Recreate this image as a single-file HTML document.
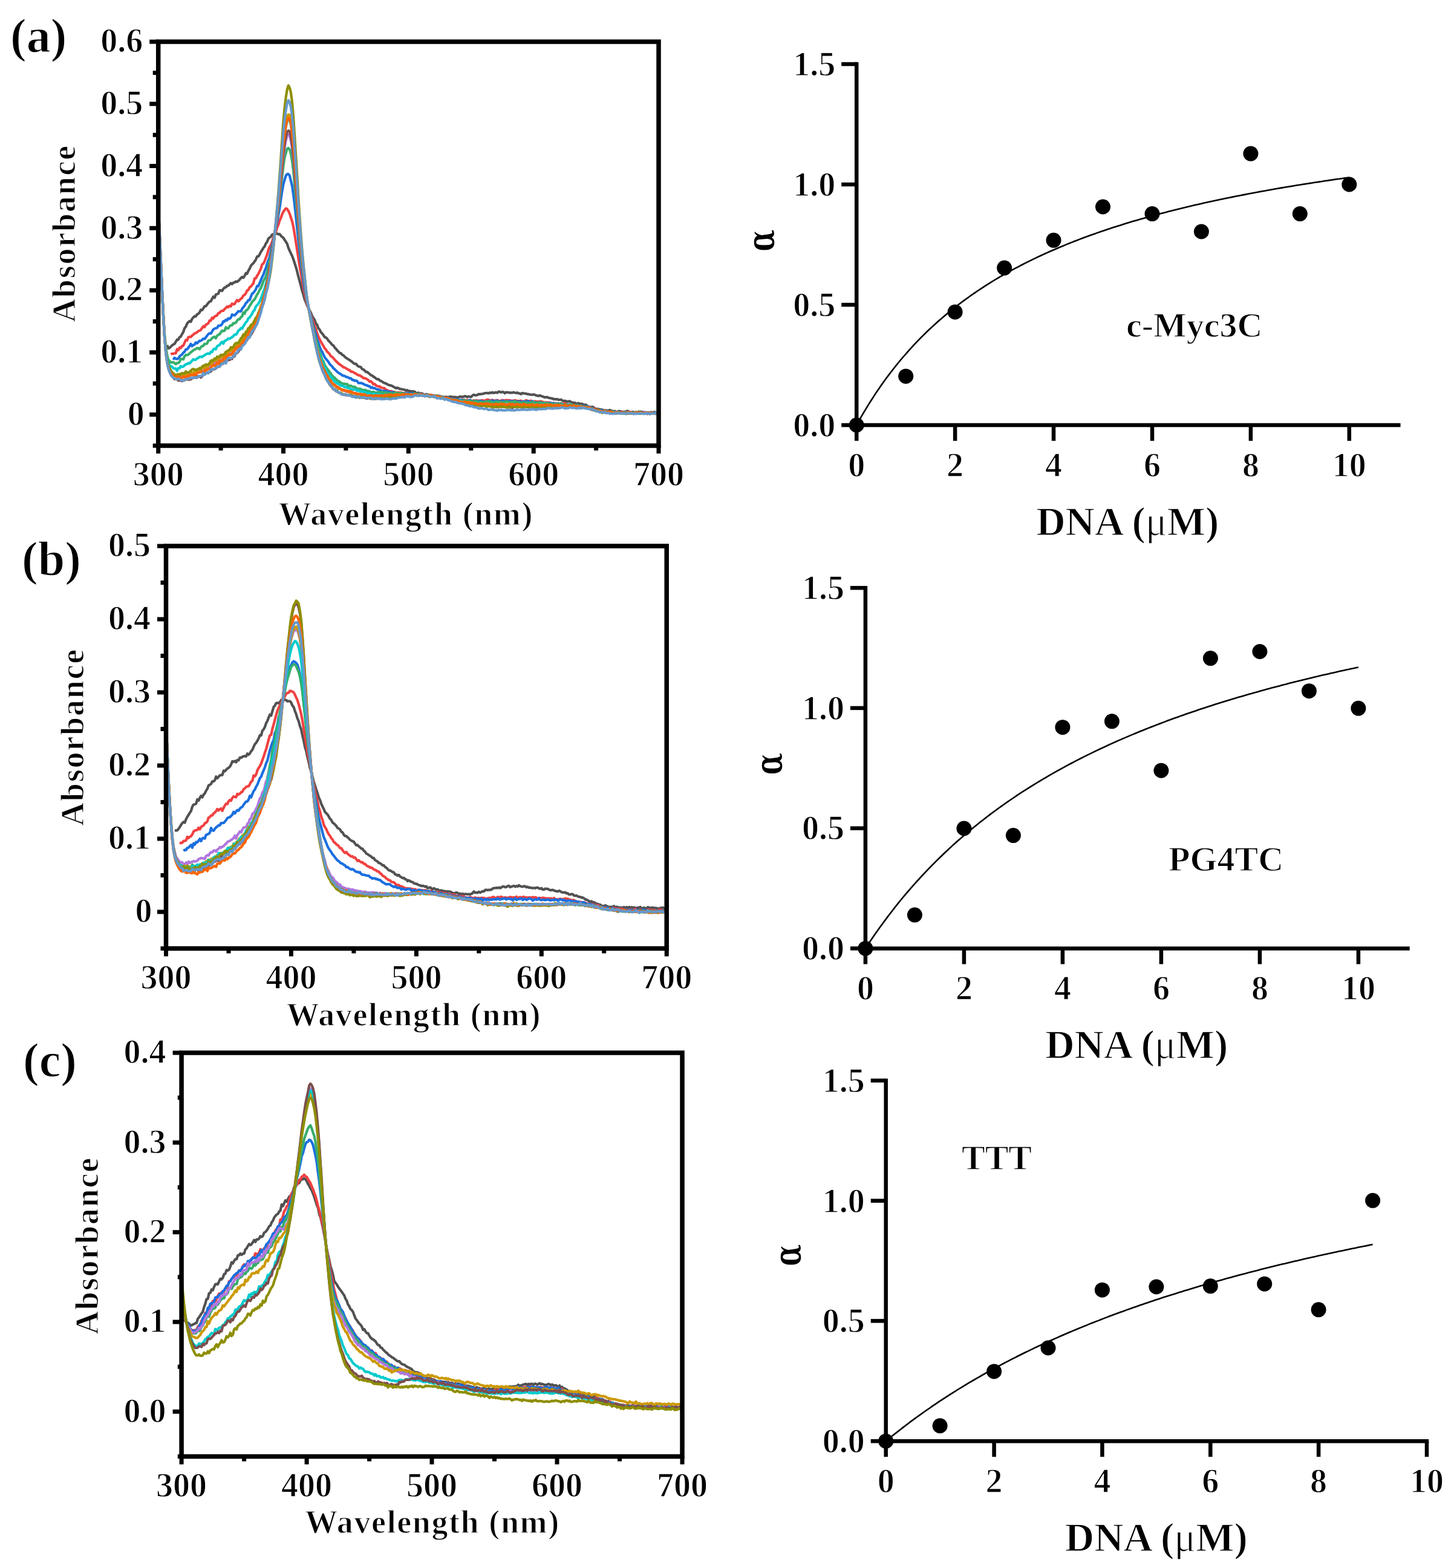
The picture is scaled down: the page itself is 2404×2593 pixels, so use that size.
<!DOCTYPE html>
<html><head><meta charset="utf-8"><style>
html,body{margin:0;padding:0;background:#fff;}
svg{display:block;}
text{stroke:#fff;stroke-width:1.3px;}
</style></head><body>
<svg width="2404" height="2593" viewBox="0 0 2404 2593" font-family="'Liberation Serif','Times New Roman',serif" font-weight="bold" fill="#000">
<rect width="2404" height="2593" fill="#fff"/>
<line x1="247.2" y1="685.6" x2="261.7" y2="685.6" stroke="#000" stroke-width="7" stroke-linecap="butt"/>
<text x="238.7" y="702.9" font-size="56" text-anchor="end" >0</text>
<line x1="247.2" y1="582.8" x2="261.7" y2="582.8" stroke="#000" stroke-width="7" stroke-linecap="butt"/>
<text x="236.2" y="600.2" font-size="56" text-anchor="end" >0.1</text>
<line x1="247.2" y1="480.1" x2="261.7" y2="480.1" stroke="#000" stroke-width="7" stroke-linecap="butt"/>
<text x="236.2" y="497.4" font-size="56" text-anchor="end" >0.2</text>
<line x1="247.2" y1="377.3" x2="261.7" y2="377.3" stroke="#000" stroke-width="7" stroke-linecap="butt"/>
<text x="236.2" y="394.6" font-size="56" text-anchor="end" >0.3</text>
<line x1="247.2" y1="274.5" x2="261.7" y2="274.5" stroke="#000" stroke-width="7" stroke-linecap="butt"/>
<text x="236.2" y="291.8" font-size="56" text-anchor="end" >0.4</text>
<line x1="247.2" y1="171.8" x2="261.7" y2="171.8" stroke="#000" stroke-width="7" stroke-linecap="butt"/>
<text x="236.2" y="189.1" font-size="56" text-anchor="end" >0.5</text>
<line x1="247.2" y1="69.0" x2="261.7" y2="69.0" stroke="#000" stroke-width="7" stroke-linecap="butt"/>
<text x="236.2" y="86.3" font-size="56" text-anchor="end" >0.6</text>
<line x1="252.7" y1="737.0" x2="261.7" y2="737.0" stroke="#000" stroke-width="7" stroke-linecap="butt"/>
<line x1="252.7" y1="634.2" x2="261.7" y2="634.2" stroke="#000" stroke-width="7" stroke-linecap="butt"/>
<line x1="252.7" y1="531.5" x2="261.7" y2="531.5" stroke="#000" stroke-width="7" stroke-linecap="butt"/>
<line x1="252.7" y1="428.7" x2="261.7" y2="428.7" stroke="#000" stroke-width="7" stroke-linecap="butt"/>
<line x1="252.7" y1="325.9" x2="261.7" y2="325.9" stroke="#000" stroke-width="7" stroke-linecap="butt"/>
<line x1="252.7" y1="223.2" x2="261.7" y2="223.2" stroke="#000" stroke-width="7" stroke-linecap="butt"/>
<line x1="252.7" y1="120.4" x2="261.7" y2="120.4" stroke="#000" stroke-width="7" stroke-linecap="butt"/>
<line x1="261.7" y1="737.0" x2="261.7" y2="750.0" stroke="#000" stroke-width="7" stroke-linecap="butt"/>
<text x="261.7" y="803.0" font-size="56" text-anchor="middle" >300</text>
<line x1="468.5" y1="737.0" x2="468.5" y2="750.0" stroke="#000" stroke-width="7" stroke-linecap="butt"/>
<text x="468.5" y="803.0" font-size="56" text-anchor="middle" >400</text>
<line x1="675.3" y1="737.0" x2="675.3" y2="750.0" stroke="#000" stroke-width="7" stroke-linecap="butt"/>
<text x="675.3" y="803.0" font-size="56" text-anchor="middle" >500</text>
<line x1="882.2" y1="737.0" x2="882.2" y2="750.0" stroke="#000" stroke-width="7" stroke-linecap="butt"/>
<text x="882.2" y="803.0" font-size="56" text-anchor="middle" >600</text>
<line x1="1089.0" y1="737.0" x2="1089.0" y2="750.0" stroke="#000" stroke-width="7" stroke-linecap="butt"/>
<text x="1089.0" y="803.0" font-size="56" text-anchor="middle" >700</text>
<line x1="365.1" y1="737.0" x2="365.1" y2="745.0" stroke="#000" stroke-width="7" stroke-linecap="butt"/>
<line x1="571.9" y1="737.0" x2="571.9" y2="745.0" stroke="#000" stroke-width="7" stroke-linecap="butt"/>
<line x1="778.8" y1="737.0" x2="778.8" y2="745.0" stroke="#000" stroke-width="7" stroke-linecap="butt"/>
<line x1="985.6" y1="737.0" x2="985.6" y2="745.0" stroke="#000" stroke-width="7" stroke-linecap="butt"/>
<path d="M276.2 570.7 L278.2 576.0 L280.3 575.4 L282.4 573.2 L284.5 571.3 L286.5 569.4 L288.6 568.7 L290.7 565.2 L292.7 561.7 L294.8 561.8 L296.9 557.7 L298.9 556.6 L301.0 552.4 L303.1 549.2 L305.1 542.9 L307.2 540.4 L309.3 535.2 L311.3 532.8 L313.4 531.0 L315.5 532.1 L317.5 527.5 L319.6 525.0 L321.7 522.9 L323.7 523.3 L325.8 519.9 L327.9 518.7 L330.0 516.7 L332.0 512.3 L334.1 512.9 L336.2 509.9 L338.2 506.6 L340.3 506.4 L342.4 503.6 L344.4 501.0 L346.5 498.8 L348.6 498.3 L350.6 494.3 L352.7 490.5 L354.8 492.5 L356.8 487.3 L358.9 486.4 L361.0 485.6 L363.0 480.2 L365.1 480.2 L367.2 481.1 L369.2 477.8 L371.3 475.6 L373.4 475.2 L375.5 472.7 L377.5 472.5 L379.6 470.3 L381.7 468.1 L383.7 469.8 L385.8 467.5 L387.9 467.2 L389.9 465.4 L392.0 466.1 L394.1 464.3 L396.1 462.6 L398.2 459.8 L400.3 458.0 L402.3 459.4 L404.4 456.4 L406.5 451.8 L408.5 452.7 L410.6 447.8 L412.7 444.4 L414.8 439.5 L416.8 437.1 L418.9 435.3 L421.0 432.3 L423.0 429.3 L425.1 424.2 L427.2 424.0 L429.2 420.9 L431.3 416.6 L433.4 413.5 L435.4 409.9 L437.5 407.6 L439.6 402.7 L441.6 400.0 L443.7 394.8 L445.8 392.9 L447.8 391.4 L449.9 388.1 L452.0 387.5 L454.0 385.9 L456.1 386.6 L458.2 386.2 L460.3 387.4 L462.3 387.0 L464.4 389.8 L466.5 391.9 L468.5 393.3 L470.6 396.8 L472.7 399.8 L474.7 402.9 L476.8 409.8 L478.9 414.7 L480.9 418.8 L483.0 423.2 L485.1 428.8 L487.1 435.0 L489.2 441.5 L491.3 448.9 L493.3 457.4 L495.4 464.7 L497.5 472.5 L499.5 480.7 L501.6 487.3 L503.7 495.1 L505.8 500.0 L507.8 505.2 L509.9 509.2 L512.0 513.4 L514.0 517.2 L516.1 522.5 L518.2 526.0 L520.2 529.2 L522.3 534.8 L524.4 537.2 L526.4 542.9 L528.5 545.2 L530.6 549.5 L532.6 551.3 L534.7 554.2 L536.8 557.6 L538.8 558.1 L540.9 560.1 L543.0 563.2 L545.1 565.4 L547.1 567.5 L549.2 570.3 L551.3 571.3 L553.3 574.7 L555.4 576.7 L557.5 579.4 L559.5 581.4 L561.6 583.8 L563.7 584.1 L565.7 586.7 L567.8 587.6 L569.9 589.8 L571.9 591.7 L574.0 592.9 L576.1 594.4 L578.1 595.4 L580.2 597.1 L582.3 598.4 L584.3 600.5 L586.4 601.6 L588.5 601.5 L590.6 604.3 L592.6 606.0 L594.7 606.5 L596.8 607.3 L598.8 610.5 L600.9 611.1 L603.0 612.9 L605.0 615.1 L607.1 615.0 L609.2 617.0 L611.2 618.4 L613.3 620.4 L615.4 621.0 L617.4 623.0 L619.5 624.0 L621.6 625.9 L623.6 627.2 L625.7 626.8 L627.8 629.2 L629.8 629.9 L631.9 631.2 L634.0 632.6 L636.1 633.7 L638.1 634.0 L640.2 635.5 L642.3 636.4 L644.3 637.2 L646.4 637.3 L648.5 638.4 L650.5 639.4 L652.6 640.8 L654.7 642.0 L656.7 641.2 L658.8 641.9 L660.9 643.1 L662.9 643.3 L665.0 643.7 L667.1 644.2 L669.1 644.6 L671.2 645.9 L673.3 645.2 L675.3 647.3 L677.4 646.5 L679.5 647.2 L681.6 647.4 L683.6 647.2 L685.7 647.8 L687.8 649.9 L689.8 650.6 L691.9 649.4 L694.0 650.9 L696.0 650.7 L698.1 650.5 L700.2 652.4 L702.2 653.0 L704.3 651.9 L706.4 652.3 L708.4 652.8 L710.5 652.9 L712.6 653.8 L714.6 654.4 L716.7 653.9 L718.8 654.6 L720.9 655.3 L722.9 654.2 L725.0 654.9 L727.1 654.9 L729.1 656.0 L731.2 656.0 L733.3 656.5 L735.3 656.7 L737.4 656.2 L739.5 657.0 L741.5 656.4 L743.6 656.5 L745.7 655.6 L747.7 657.7 L749.8 656.3 L751.9 656.8 L753.9 656.7 L756.0 657.5 L758.1 656.8 L760.1 655.9 L762.2 656.3 L764.3 656.1 L766.4 656.1 L768.4 655.1 L770.5 655.6 L772.6 656.7 L774.6 655.5 L776.7 656.0 L778.8 656.5 L780.8 654.4 L782.9 652.9 L785.0 653.4 L787.0 653.8 L789.1 653.3 L791.2 651.7 L793.2 652.0 L795.3 651.7 L797.4 651.4 L799.4 651.0 L801.5 650.2 L803.6 650.0 L805.6 649.9 L807.7 650.5 L809.8 649.3 L811.9 649.9 L813.9 648.7 L816.0 650.0 L818.1 649.1 L820.1 648.9 L822.2 649.6 L824.3 647.7 L826.3 647.8 L828.4 648.9 L830.5 648.1 L832.5 648.4 L834.6 650.3 L836.7 648.6 L838.7 648.9 L840.8 648.9 L842.9 649.7 L844.9 649.4 L847.0 649.5 L849.1 648.8 L851.2 649.5 L853.2 649.9 L855.3 649.2 L857.4 650.6 L859.4 650.7 L861.5 651.8 L863.6 649.9 L865.6 650.5 L867.7 650.7 L869.8 651.1 L871.8 651.7 L873.9 651.9 L876.0 652.4 L878.0 652.7 L880.1 652.8 L882.2 652.2 L884.2 653.1 L886.3 653.8 L888.4 654.4 L890.4 654.8 L892.5 653.8 L894.6 654.9 L896.7 655.5 L898.7 656.2 L900.8 657.1 L902.9 656.8 L904.9 656.7 L907.0 657.9 L909.1 658.2 L911.1 658.6 L913.2 658.8 L915.3 660.3 L917.3 659.9 L919.4 660.6 L921.5 660.0 L923.5 661.4 L925.6 661.0 L927.7 660.8 L929.7 662.4 L931.8 663.0 L933.9 662.9 L935.9 663.4 L938.0 664.4 L940.1 663.9 L942.2 663.4 L944.2 665.2 L946.3 665.5 L948.4 666.4 L950.4 666.0 L952.5 667.3 L954.6 667.7 L956.6 666.6 L958.7 668.4 L960.8 667.7 L962.8 667.9 L964.9 669.3 L967.0 669.7 L969.0 669.4 L971.1 671.4 L973.2 672.3 L975.2 673.4 L977.3 673.1 L979.4 672.8 L981.5 673.7 L983.5 675.4 L985.6 676.0 L987.7 676.3 L989.7 676.4 L991.8 677.2 L993.9 677.4 L995.9 677.7 L998.0 678.4 L1000.1 678.5 L1002.1 678.6 L1004.2 679.0 L1006.3 678.8 L1008.3 678.1 L1010.4 679.1 L1012.5 679.6 L1014.5 680.8 L1016.6 679.7 L1018.7 681.3 L1020.7 681.1 L1022.8 679.8 L1024.9 680.0 L1027.0 680.6 L1029.0 681.6 L1031.1 680.9 L1033.2 681.1 L1035.2 680.4 L1037.3 679.5 L1039.4 680.8 L1041.4 681.5 L1043.5 681.8 L1045.6 681.2 L1047.6 681.4 L1049.7 682.0 L1051.8 681.3 L1053.8 682.2 L1055.9 680.8 L1058.0 680.9 L1060.0 680.9 L1062.1 682.0 L1064.2 681.4 L1066.2 681.8 L1068.3 682.0 L1070.4 682.0 L1072.5 682.7 L1074.5 682.8 L1076.6 681.4 L1078.7 682.0 L1080.7 681.8 L1082.8 681.3 L1084.9 683.0 L1086.9 682.4 L1089.0 681.8" fill="none" stroke="#515151" stroke-width="4.2" stroke-linejoin="round"/>
<path d="M282.4 585.9 L284.5 584.8 L286.5 585.0 L288.6 584.3 L290.7 584.2 L292.7 577.5 L294.8 579.2 L296.9 574.8 L298.9 575.7 L301.0 572.1 L303.1 571.7 L305.1 567.0 L307.2 562.3 L309.3 562.9 L311.3 557.8 L313.4 557.0 L315.5 557.3 L317.5 555.0 L319.6 553.5 L321.7 551.5 L323.7 550.7 L325.8 549.6 L327.9 547.4 L330.0 546.8 L332.0 545.7 L334.1 542.4 L336.2 539.5 L338.2 541.0 L340.3 537.0 L342.4 536.0 L344.4 534.6 L346.5 530.1 L348.6 530.1 L350.6 525.5 L352.7 526.7 L354.8 523.4 L356.8 522.5 L358.9 521.5 L361.0 518.0 L363.0 517.4 L365.1 514.7 L367.2 514.0 L369.2 513.9 L371.3 511.0 L373.4 509.4 L375.5 506.8 L377.5 508.0 L379.6 505.6 L381.7 506.6 L383.7 502.1 L385.8 503.1 L387.9 502.7 L389.9 499.1 L392.0 496.1 L394.1 498.3 L396.1 496.2 L398.2 494.0 L400.3 492.7 L402.3 488.6 L404.4 487.7 L406.5 485.0 L408.5 480.4 L410.6 479.5 L412.7 475.1 L414.8 473.9 L416.8 471.1 L418.9 468.7 L421.0 460.4 L423.0 460.2 L425.1 456.0 L427.2 452.8 L429.2 448.6 L431.3 444.5 L433.4 437.1 L435.4 436.2 L437.5 431.9 L439.6 426.1 L441.6 421.4 L443.7 413.4 L445.8 408.2 L447.8 405.2 L449.9 400.0 L452.0 392.7 L454.0 386.4 L456.1 383.7 L458.2 376.2 L460.3 371.6 L462.3 364.8 L464.4 360.2 L466.5 354.1 L468.5 350.3 L470.6 347.2 L472.7 344.6 L474.7 345.6 L476.8 348.9 L478.9 353.4 L480.9 359.7 L483.0 366.0 L485.1 375.3 L487.1 387.2 L489.2 400.0 L491.3 414.0 L493.3 426.8 L495.4 440.0 L497.5 451.6 L499.5 462.9 L501.6 475.1 L503.7 485.8 L505.8 494.8 L507.8 503.0 L509.9 509.4 L512.0 514.7 L514.0 521.3 L516.1 526.5 L518.2 533.0 L520.2 538.8 L522.3 545.0 L524.4 551.2 L526.4 556.7 L528.5 561.0 L530.6 565.4 L532.6 568.6 L534.7 572.1 L536.8 576.1 L538.8 578.1 L540.9 581.6 L543.0 583.6 L545.1 585.8 L547.1 589.2 L549.2 590.2 L551.3 592.4 L553.3 594.7 L555.4 597.0 L557.5 599.0 L559.5 601.2 L561.6 602.5 L563.7 604.2 L565.7 605.3 L567.8 607.4 L569.9 607.8 L571.9 609.0 L574.0 610.3 L576.1 611.6 L578.1 612.1 L580.2 614.6 L582.3 614.5 L584.3 615.7 L586.4 616.8 L588.5 617.9 L590.6 619.6 L592.6 620.4 L594.7 620.9 L596.8 622.1 L598.8 623.3 L600.9 625.5 L603.0 625.3 L605.0 626.1 L607.1 627.3 L609.2 628.9 L611.2 631.1 L613.3 630.6 L615.4 632.7 L617.4 635.5 L619.5 635.0 L621.6 637.3 L623.6 638.3 L625.7 639.1 L627.8 638.9 L629.8 641.0 L631.9 641.5 L634.0 641.5 L636.1 642.5 L638.1 644.4 L640.2 645.2 L642.3 646.5 L644.3 646.9 L646.4 646.8 L648.5 647.4 L650.5 648.1 L652.6 648.0 L654.7 649.5 L656.7 649.3 L658.8 649.0 L660.9 649.3 L662.9 649.1 L665.0 649.7 L667.1 650.3 L669.1 650.0 L671.2 651.0 L673.3 651.5 L675.3 650.3 L677.4 650.9 L679.5 650.8 L681.6 652.2 L683.6 651.5 L685.7 651.8 L687.8 652.1 L689.8 653.1 L691.9 652.1 L694.0 651.5 L696.0 652.0 L698.1 652.8 L700.2 652.6 L702.2 652.4 L704.3 654.8 L706.4 653.5 L708.4 653.3 L710.5 653.5 L712.6 653.2 L714.6 653.8 L716.7 654.6 L718.8 654.9 L720.9 654.9 L722.9 656.0 L725.0 656.0 L727.1 655.8 L729.1 655.5 L731.2 657.2 L733.3 657.4 L735.3 657.7 L737.4 657.3 L739.5 658.5 L741.5 657.9 L743.6 659.7 L745.7 659.5 L747.7 659.8 L749.8 659.5 L751.9 659.5 L753.9 661.3 L756.0 661.2 L758.1 660.6 L760.1 661.4 L762.2 662.1 L764.3 660.7 L766.4 661.2 L768.4 661.4 L770.5 662.2 L772.6 661.4 L774.6 662.3 L776.7 661.6 L778.8 662.9 L780.8 663.0 L782.9 662.3 L785.0 662.9 L787.0 662.1 L789.1 662.3 L791.2 663.0 L793.2 662.4 L795.3 662.6 L797.4 661.8 L799.4 662.7 L801.5 662.6 L803.6 661.5 L805.6 660.9 L807.7 661.0 L809.8 662.2 L811.9 662.1 L813.9 661.3 L816.0 662.3 L818.1 662.8 L820.1 662.1 L822.2 661.8 L824.3 662.6 L826.3 663.0 L828.4 662.9 L830.5 661.6 L832.5 662.5 L834.6 662.1 L836.7 661.9 L838.7 661.7 L840.8 662.4 L842.9 661.9 L844.9 662.8 L847.0 662.6 L849.1 663.1 L851.2 661.8 L853.2 662.6 L855.3 663.2 L857.4 663.0 L859.4 663.1 L861.5 662.6 L863.6 664.1 L865.6 663.8 L867.7 663.5 L869.8 661.8 L871.8 662.9 L873.9 663.7 L876.0 663.3 L878.0 662.6 L880.1 664.1 L882.2 664.3 L884.2 663.4 L886.3 664.0 L888.4 664.0 L890.4 664.9 L892.5 663.5 L894.6 663.8 L896.7 664.7 L898.7 664.8 L900.8 666.6 L902.9 665.2 L904.9 665.9 L907.0 665.6 L909.1 665.7 L911.1 666.5 L913.2 667.4 L915.3 666.3 L917.3 667.2 L919.4 667.1 L921.5 667.4 L923.5 667.4 L925.6 668.8 L927.7 666.8 L929.7 667.6 L931.8 667.3 L933.9 666.9 L935.9 668.3 L938.0 669.7 L940.1 669.3 L942.2 669.7 L944.2 669.5 L946.3 669.4 L948.4 670.9 L950.4 669.7 L952.5 671.1 L954.6 670.2 L956.6 670.7 L958.7 671.1 L960.8 671.3 L962.8 671.9 L964.9 672.2 L967.0 673.3 L969.0 672.7 L971.1 672.1 L973.2 672.6 L975.2 673.6 L977.3 674.5 L979.4 676.0 L981.5 675.3 L983.5 676.8 L985.6 677.4 L987.7 678.1 L989.7 678.4 L991.8 679.2 L993.9 679.4 L995.9 680.4 L998.0 680.2 L1000.1 678.8 L1002.1 680.5 L1004.2 680.8 L1006.3 680.5 L1008.3 680.6 L1010.4 681.9 L1012.5 681.5 L1014.5 680.9 L1016.6 681.4 L1018.7 681.6 L1020.7 680.9 L1022.8 682.3 L1024.9 681.9 L1027.0 682.3 L1029.0 681.1 L1031.1 683.3 L1033.2 682.6 L1035.2 682.5 L1037.3 681.8 L1039.4 681.9 L1041.4 681.4 L1043.5 683.3 L1045.6 681.9 L1047.6 682.6 L1049.7 682.9 L1051.8 682.1 L1053.8 683.1 L1055.9 683.8 L1058.0 682.8 L1060.0 683.5 L1062.1 683.0 L1064.2 682.4 L1066.2 682.5 L1068.3 681.7 L1070.4 682.8 L1072.5 683.7 L1074.5 683.2 L1076.6 683.3 L1078.7 683.5 L1080.7 682.5 L1082.8 683.1 L1084.9 684.0 L1086.9 682.3 L1089.0 682.8" fill="none" stroke="#F14040" stroke-width="4.2" stroke-linejoin="round"/>
<path d="M286.5 594.9 L288.6 591.7 L290.7 593.1 L292.7 593.7 L294.8 592.9 L296.9 589.4 L298.9 587.5 L301.0 586.4 L303.1 583.2 L305.1 581.8 L307.2 577.9 L309.3 577.7 L311.3 575.1 L313.4 572.3 L315.5 568.8 L317.5 572.4 L319.6 570.5 L321.7 569.8 L323.7 566.4 L325.8 567.7 L327.9 565.5 L330.0 563.6 L332.0 563.6 L334.1 562.1 L336.2 560.0 L338.2 560.6 L340.3 558.1 L342.4 555.0 L344.4 552.5 L346.5 551.2 L348.6 551.7 L350.6 548.2 L352.7 544.8 L354.8 543.5 L356.8 542.8 L358.9 542.3 L361.0 538.7 L363.0 538.7 L365.1 538.0 L367.2 535.9 L369.2 531.4 L371.3 531.6 L373.4 528.9 L375.5 529.7 L377.5 526.4 L379.6 527.2 L381.7 525.2 L383.7 520.2 L385.8 521.1 L387.9 521.4 L389.9 519.4 L392.0 517.3 L394.1 514.5 L396.1 515.0 L398.2 514.8 L400.3 510.8 L402.3 508.1 L404.4 505.5 L406.5 501.2 L408.5 499.8 L410.6 496.4 L412.7 496.2 L414.8 490.5 L416.8 485.7 L418.9 484.2 L421.0 481.5 L423.0 478.3 L425.1 472.9 L427.2 473.3 L429.2 468.4 L431.3 463.4 L433.4 458.2 L435.4 454.6 L437.5 448.1 L439.6 443.3 L441.6 436.6 L443.7 430.5 L445.8 425.0 L447.8 415.7 L449.9 405.8 L452.0 398.3 L454.0 388.0 L456.1 377.0 L458.2 367.2 L460.3 355.3 L462.3 344.4 L464.4 329.7 L466.5 315.8 L468.5 304.5 L470.6 297.0 L472.7 290.6 L474.7 287.9 L476.8 287.9 L478.9 290.5 L480.9 298.9 L483.0 307.3 L485.1 321.9 L487.1 338.4 L489.2 357.8 L491.3 377.7 L493.3 396.7 L495.4 415.2 L497.5 433.0 L499.5 448.7 L501.6 463.7 L503.7 478.1 L505.8 488.9 L507.8 499.9 L509.9 508.5 L512.0 516.0 L514.0 523.0 L516.1 531.7 L518.2 539.5 L520.2 546.6 L522.3 553.1 L524.4 561.9 L526.4 566.7 L528.5 573.4 L530.6 578.6 L532.6 581.5 L534.7 586.3 L536.8 590.7 L538.8 593.5 L540.9 595.8 L543.0 598.4 L545.1 602.0 L547.1 603.9 L549.2 606.0 L551.3 609.0 L553.3 610.5 L555.4 612.7 L557.5 614.8 L559.5 616.5 L561.6 617.6 L563.7 619.0 L565.7 620.5 L567.8 621.5 L569.9 621.6 L571.9 623.1 L574.0 623.6 L576.1 624.4 L578.1 625.6 L580.2 625.5 L582.3 628.3 L584.3 628.2 L586.4 629.8 L588.5 629.3 L590.6 630.3 L592.6 633.3 L594.7 633.5 L596.8 633.3 L598.8 634.0 L600.9 634.9 L603.0 636.2 L605.0 636.7 L607.1 637.4 L609.2 638.6 L611.2 638.7 L613.3 641.5 L615.4 640.5 L617.4 642.2 L619.5 641.7 L621.6 643.1 L623.6 644.1 L625.7 643.9 L627.8 645.3 L629.8 645.8 L631.9 646.8 L634.0 646.3 L636.1 646.5 L638.1 646.6 L640.2 647.7 L642.3 647.4 L644.3 648.4 L646.4 648.8 L648.5 648.7 L650.5 648.7 L652.6 649.8 L654.7 650.0 L656.7 650.1 L658.8 650.1 L660.9 650.9 L662.9 649.8 L665.0 650.8 L667.1 650.4 L669.1 651.2 L671.2 650.6 L673.3 650.7 L675.3 651.3 L677.4 650.0 L679.5 651.1 L681.6 650.4 L683.6 651.0 L685.7 652.1 L687.8 652.1 L689.8 651.7 L691.9 652.0 L694.0 652.2 L696.0 652.5 L698.1 653.7 L700.2 652.9 L702.2 654.3 L704.3 653.0 L706.4 653.9 L708.4 654.2 L710.5 654.2 L712.6 654.2 L714.6 655.5 L716.7 656.0 L718.8 655.8 L720.9 656.7 L722.9 656.4 L725.0 655.1 L727.1 657.1 L729.1 656.4 L731.2 658.0 L733.3 657.4 L735.3 658.1 L737.4 658.3 L739.5 658.3 L741.5 657.9 L743.6 659.2 L745.7 659.6 L747.7 660.6 L749.8 659.9 L751.9 660.7 L753.9 660.3 L756.0 661.0 L758.1 660.1 L760.1 662.7 L762.2 661.8 L764.3 661.3 L766.4 662.3 L768.4 662.8 L770.5 662.7 L772.6 663.6 L774.6 662.8 L776.7 661.5 L778.8 662.5 L780.8 663.9 L782.9 663.9 L785.0 663.6 L787.0 662.8 L789.1 664.0 L791.2 663.9 L793.2 662.9 L795.3 663.0 L797.4 663.7 L799.4 664.2 L801.5 664.4 L803.6 663.9 L805.6 664.9 L807.7 663.0 L809.8 663.9 L811.9 663.2 L813.9 662.4 L816.0 662.8 L818.1 664.2 L820.1 662.9 L822.2 662.7 L824.3 663.8 L826.3 663.9 L828.4 663.4 L830.5 664.3 L832.5 662.4 L834.6 664.8 L836.7 664.1 L838.7 663.6 L840.8 663.6 L842.9 663.4 L844.9 663.4 L847.0 663.8 L849.1 663.0 L851.2 665.1 L853.2 663.9 L855.3 664.4 L857.4 664.0 L859.4 664.0 L861.5 664.8 L863.6 664.7 L865.6 663.9 L867.7 664.3 L869.8 665.0 L871.8 663.4 L873.9 663.3 L876.0 665.8 L878.0 664.8 L880.1 663.5 L882.2 664.7 L884.2 665.1 L886.3 665.5 L888.4 665.8 L890.4 665.7 L892.5 666.0 L894.6 665.4 L896.7 666.2 L898.7 666.4 L900.8 667.0 L902.9 666.5 L904.9 667.1 L907.0 666.8 L909.1 666.2 L911.1 666.8 L913.2 666.8 L915.3 667.1 L917.3 667.4 L919.4 667.6 L921.5 667.9 L923.5 667.4 L925.6 668.7 L927.7 667.3 L929.7 668.3 L931.8 668.9 L933.9 669.0 L935.9 669.3 L938.0 668.9 L940.1 669.7 L942.2 668.7 L944.2 670.1 L946.3 671.2 L948.4 670.5 L950.4 671.5 L952.5 670.5 L954.6 670.1 L956.6 670.6 L958.7 672.1 L960.8 672.0 L962.8 670.7 L964.9 671.9 L967.0 672.5 L969.0 672.3 L971.1 671.9 L973.2 673.2 L975.2 674.5 L977.3 674.9 L979.4 675.4 L981.5 676.7 L983.5 677.6 L985.6 677.5 L987.7 678.7 L989.7 678.7 L991.8 679.1 L993.9 678.1 L995.9 680.4 L998.0 680.2 L1000.1 680.5 L1002.1 680.3 L1004.2 680.1 L1006.3 681.3 L1008.3 681.7 L1010.4 682.3 L1012.5 682.1 L1014.5 681.3 L1016.6 681.7 L1018.7 682.5 L1020.7 682.2 L1022.8 682.0 L1024.9 681.8 L1027.0 682.5 L1029.0 682.4 L1031.1 683.4 L1033.2 683.0 L1035.2 681.3 L1037.3 683.7 L1039.4 682.6 L1041.4 682.3 L1043.5 682.7 L1045.6 683.0 L1047.6 682.6 L1049.7 682.6 L1051.8 682.6 L1053.8 683.8 L1055.9 682.7 L1058.0 683.2 L1060.0 683.0 L1062.1 682.6 L1064.2 682.3 L1066.2 682.2 L1068.3 683.1 L1070.4 682.2 L1072.5 682.1 L1074.5 682.1 L1076.6 682.0 L1078.7 682.9 L1080.7 682.9 L1082.8 682.3 L1084.9 683.7 L1086.9 682.7 L1089.0 683.1" fill="none" stroke="#1A6FDF" stroke-width="4.2" stroke-linejoin="round"/>
<path d="M261.7 356.8 L263.8 401.4 L265.8 442.8 L267.9 484.0 L270.0 520.6 L272.0 551.1 L274.1 573.9 L276.2 586.7 L278.2 594.6 L280.3 596.9 L282.4 599.1 L284.5 599.4 L286.5 599.0 L288.6 600.4 L290.7 602.1 L292.7 600.4 L294.8 600.1 L296.9 598.4 L298.9 593.7 L301.0 593.7 L303.1 594.3 L305.1 589.5 L307.2 586.8 L309.3 587.3 L311.3 586.3 L313.4 584.6 L315.5 582.6 L317.5 581.0 L319.6 579.3 L321.7 578.2 L323.7 577.1 L325.8 575.8 L327.9 575.6 L330.0 577.4 L332.0 574.3 L334.1 572.4 L336.2 571.9 L338.2 568.7 L340.3 568.9 L342.4 568.1 L344.4 563.4 L346.5 562.8 L348.6 561.8 L350.6 559.3 L352.7 557.5 L354.8 557.0 L356.8 559.3 L358.9 555.3 L361.0 553.5 L363.0 552.7 L365.1 549.6 L367.2 546.8 L369.2 547.6 L371.3 547.0 L373.4 541.2 L375.5 543.2 L377.5 542.9 L379.6 539.5 L381.7 537.9 L383.7 537.9 L385.8 534.4 L387.9 534.6 L389.9 533.6 L392.0 530.5 L394.1 527.9 L396.1 527.9 L398.2 524.6 L400.3 523.0 L402.3 516.7 L404.4 518.9 L406.5 513.4 L408.5 512.6 L410.6 510.0 L412.7 506.0 L414.8 502.8 L416.8 499.2 L418.9 497.1 L421.0 495.0 L423.0 491.3 L425.1 487.1 L427.2 484.0 L429.2 479.4 L431.3 476.6 L433.4 471.0 L435.4 465.1 L437.5 461.3 L439.6 457.5 L441.6 450.4 L443.7 443.4 L445.8 431.3 L447.8 425.3 L449.9 411.6 L452.0 401.1 L454.0 387.3 L456.1 373.5 L458.2 359.4 L460.3 344.3 L462.3 328.0 L464.4 309.2 L466.5 291.1 L468.5 274.3 L470.6 260.1 L472.7 252.9 L474.7 246.0 L476.8 244.8 L478.9 247.2 L480.9 254.1 L483.0 266.3 L485.1 282.9 L487.1 305.9 L489.2 327.0 L491.3 351.8 L493.3 374.9 L495.4 397.9 L497.5 420.3 L499.5 438.0 L501.6 454.4 L503.7 469.3 L505.8 485.2 L507.8 498.3 L509.9 509.3 L512.0 516.2 L514.0 525.1 L516.1 535.3 L518.2 544.5 L520.2 554.1 L522.3 561.1 L524.4 568.3 L526.4 576.8 L528.5 582.7 L530.6 588.7 L532.6 594.6 L534.7 597.7 L536.8 603.5 L538.8 606.7 L540.9 609.9 L543.0 612.5 L545.1 615.5 L547.1 618.1 L549.2 621.1 L551.3 623.5 L553.3 624.6 L555.4 627.0 L557.5 629.0 L559.5 630.5 L561.6 631.3 L563.7 633.2 L565.7 633.9 L567.8 635.0 L569.9 634.7 L571.9 635.3 L574.0 635.1 L576.1 638.0 L578.1 638.2 L580.2 637.9 L582.3 639.3 L584.3 640.1 L586.4 639.5 L588.5 641.4 L590.6 642.6 L592.6 643.2 L594.7 642.8 L596.8 643.4 L598.8 644.9 L600.9 645.3 L603.0 644.9 L605.0 645.4 L607.1 646.7 L609.2 646.5 L611.2 647.0 L613.3 649.0 L615.4 648.3 L617.4 648.0 L619.5 648.8 L621.6 650.0 L623.6 649.0 L625.7 648.5 L627.8 648.1 L629.8 650.6 L631.9 647.8 L634.0 650.3 L636.1 649.1 L638.1 649.1 L640.2 649.4 L642.3 650.0 L644.3 650.9 L646.4 649.9 L648.5 650.9 L650.5 652.1 L652.6 648.8 L654.7 650.2 L656.7 649.6 L658.8 651.4 L660.9 650.1 L662.9 650.1 L665.0 650.2 L667.1 651.2 L669.1 652.0 L671.2 651.4 L673.3 652.8 L675.3 652.5 L677.4 651.5 L679.5 652.3 L681.6 651.9 L683.6 651.9 L685.7 650.8 L687.8 651.3 L689.8 652.2 L691.9 651.5 L694.0 652.9 L696.0 652.7 L698.1 652.1 L700.2 653.6 L702.2 653.3 L704.3 654.2 L706.4 653.5 L708.4 652.9 L710.5 654.6 L712.6 654.3 L714.6 655.3 L716.7 655.7 L718.8 656.0 L720.9 654.7 L722.9 654.4 L725.0 655.9 L727.1 657.0 L729.1 656.5 L731.2 657.5 L733.3 657.2 L735.3 657.9 L737.4 658.3 L739.5 658.5 L741.5 659.6 L743.6 659.8 L745.7 661.0 L747.7 660.5 L749.8 661.4 L751.9 661.0 L753.9 661.7 L756.0 661.3 L758.1 661.4 L760.1 662.8 L762.2 662.6 L764.3 663.0 L766.4 662.2 L768.4 661.9 L770.5 662.6 L772.6 663.6 L774.6 662.7 L776.7 664.7 L778.8 663.0 L780.8 664.5 L782.9 665.9 L785.0 662.7 L787.0 663.4 L789.1 665.1 L791.2 664.4 L793.2 664.7 L795.3 664.5 L797.4 665.5 L799.4 665.0 L801.5 664.4 L803.6 664.5 L805.6 664.0 L807.7 664.7 L809.8 663.3 L811.9 665.3 L813.9 664.7 L816.0 666.0 L818.1 665.6 L820.1 664.0 L822.2 665.3 L824.3 664.4 L826.3 664.7 L828.4 665.3 L830.5 664.9 L832.5 665.0 L834.6 665.0 L836.7 664.2 L838.7 664.3 L840.8 665.1 L842.9 665.4 L844.9 664.7 L847.0 665.0 L849.1 664.4 L851.2 663.5 L853.2 664.7 L855.3 665.3 L857.4 665.4 L859.4 665.9 L861.5 666.0 L863.6 666.2 L865.6 665.9 L867.7 666.0 L869.8 665.3 L871.8 666.1 L873.9 666.0 L876.0 666.8 L878.0 665.1 L880.1 665.8 L882.2 665.1 L884.2 665.8 L886.3 665.5 L888.4 666.7 L890.4 666.2 L892.5 665.0 L894.6 667.6 L896.7 666.2 L898.7 666.0 L900.8 666.9 L902.9 666.8 L904.9 666.6 L907.0 668.0 L909.1 667.4 L911.1 668.3 L913.2 668.3 L915.3 668.4 L917.3 668.2 L919.4 668.1 L921.5 668.1 L923.5 669.4 L925.6 667.3 L927.7 668.0 L929.7 668.4 L931.8 669.2 L933.9 669.2 L935.9 669.0 L938.0 669.3 L940.1 670.7 L942.2 669.4 L944.2 668.2 L946.3 671.4 L948.4 669.8 L950.4 670.4 L952.5 670.9 L954.6 670.2 L956.6 672.0 L958.7 671.4 L960.8 670.9 L962.8 672.2 L964.9 672.6 L967.0 672.6 L969.0 673.4 L971.1 672.6 L973.2 674.7 L975.2 674.2 L977.3 676.1 L979.4 675.5 L981.5 676.6 L983.5 678.8 L985.6 677.8 L987.7 679.0 L989.7 679.1 L991.8 678.4 L993.9 680.5 L995.9 680.7 L998.0 679.4 L1000.1 680.5 L1002.1 679.8 L1004.2 680.8 L1006.3 681.7 L1008.3 681.4 L1010.4 680.7 L1012.5 681.1 L1014.5 681.8 L1016.6 681.9 L1018.7 682.1 L1020.7 682.5 L1022.8 681.0 L1024.9 682.3 L1027.0 683.0 L1029.0 682.7 L1031.1 681.9 L1033.2 682.0 L1035.2 682.5 L1037.3 682.9 L1039.4 682.5 L1041.4 683.6 L1043.5 683.4 L1045.6 682.1 L1047.6 682.9 L1049.7 682.4 L1051.8 681.9 L1053.8 682.3 L1055.9 682.7 L1058.0 681.4 L1060.0 682.4 L1062.1 683.0 L1064.2 682.4 L1066.2 682.6 L1068.3 683.4 L1070.4 682.8 L1072.5 683.0 L1074.5 684.1 L1076.6 683.0 L1078.7 683.1 L1080.7 683.2 L1082.8 683.9 L1084.9 683.1 L1086.9 682.9 L1089.0 682.8" fill="none" stroke="#37AD6B" stroke-width="4.2" stroke-linejoin="round"/>
<path d="M261.7 343.6 L263.8 386.2 L265.8 431.6 L267.9 478.3 L270.0 520.4 L272.0 556.4 L274.1 581.7 L276.2 595.9 L278.2 606.5 L280.3 611.9 L282.4 615.6 L284.5 617.7 L286.5 621.7 L288.6 623.2 L290.7 624.6 L292.7 625.0 L294.8 624.5 L296.9 624.3 L298.9 622.5 L301.0 623.9 L303.1 622.2 L305.1 621.4 L307.2 622.3 L309.3 620.5 L311.3 617.7 L313.4 618.9 L315.5 619.7 L317.5 618.4 L319.6 619.1 L321.7 616.9 L323.7 615.6 L325.8 617.3 L327.9 615.8 L330.0 613.3 L332.0 614.7 L334.1 612.8 L336.2 613.5 L338.2 612.2 L340.3 610.7 L342.4 605.9 L344.4 608.3 L346.5 607.3 L348.6 606.2 L350.6 604.5 L352.7 602.1 L354.8 601.5 L356.8 597.7 L358.9 599.0 L361.0 596.0 L363.0 596.2 L365.1 594.4 L367.2 595.8 L369.2 592.7 L371.3 591.2 L373.4 590.0 L375.5 591.1 L377.5 585.5 L379.6 585.7 L381.7 584.2 L383.7 582.3 L385.8 580.6 L387.9 577.9 L389.9 578.3 L392.0 575.8 L394.1 571.9 L396.1 569.7 L398.2 567.8 L400.3 565.5 L402.3 563.2 L404.4 559.4 L406.5 554.9 L408.5 555.3 L410.6 549.1 L412.7 547.3 L414.8 546.1 L416.8 541.3 L418.9 541.0 L421.0 537.7 L423.0 533.1 L425.1 526.3 L427.2 520.2 L429.2 514.1 L431.3 506.4 L433.4 501.8 L435.4 490.0 L437.5 484.0 L439.6 474.0 L441.6 464.1 L443.7 454.9 L445.8 444.4 L447.8 431.9 L449.9 417.3 L452.0 403.0 L454.0 388.2 L456.1 373.1 L458.2 356.2 L460.3 339.1 L462.3 320.0 L464.4 300.1 L466.5 276.7 L468.5 258.8 L470.6 243.7 L472.7 232.1 L474.7 224.6 L476.8 222.2 L478.9 224.5 L480.9 232.8 L483.0 244.7 L485.1 263.4 L487.1 287.7 L489.2 311.6 L491.3 338.4 L493.3 364.4 L495.4 389.1 L497.5 410.7 L499.5 430.3 L501.6 449.7 L503.7 465.4 L505.8 482.3 L507.8 496.9 L509.9 509.6 L512.0 518.1 L514.0 527.8 L516.1 539.1 L518.2 548.9 L520.2 560.5 L522.3 568.3 L524.4 578.4 L526.4 585.6 L528.5 594.1 L530.6 598.7 L532.6 604.7 L534.7 609.1 L536.8 614.8 L538.8 618.9 L540.9 620.9 L543.0 626.0 L545.1 628.8 L547.1 631.2 L549.2 634.0 L551.3 634.7 L553.3 636.2 L555.4 639.4 L557.5 641.6 L559.5 641.2 L561.6 642.3 L563.7 643.4 L565.7 644.0 L567.8 645.9 L569.9 646.2 L571.9 647.5 L574.0 648.1 L576.1 647.2 L578.1 648.8 L580.2 647.5 L582.3 649.4 L584.3 650.3 L586.4 649.9 L588.5 649.8 L590.6 651.0 L592.6 652.4 L594.7 651.8 L596.8 651.5 L598.8 653.0 L600.9 653.6 L603.0 652.8 L605.0 653.6 L607.1 654.7 L609.2 654.6 L611.2 655.1 L613.3 654.7 L615.4 654.8 L617.4 654.2 L619.5 654.4 L621.6 655.8 L623.6 654.6 L625.7 654.2 L627.8 654.4 L629.8 654.0 L631.9 654.9 L634.0 655.1 L636.1 653.9 L638.1 655.1 L640.2 655.7 L642.3 653.7 L644.3 654.7 L646.4 654.4 L648.5 655.0 L650.5 654.8 L652.6 654.6 L654.7 654.0 L656.7 653.5 L658.8 655.1 L660.9 653.1 L662.9 654.2 L665.0 654.1 L667.1 652.9 L669.1 653.3 L671.2 654.2 L673.3 652.0 L675.3 653.7 L677.4 653.0 L679.5 653.0 L681.6 652.2 L683.6 653.3 L685.7 652.4 L687.8 653.5 L689.8 652.3 L691.9 653.5 L694.0 653.3 L696.0 652.0 L698.1 653.0 L700.2 653.3 L702.2 652.2 L704.3 653.6 L706.4 654.5 L708.4 653.8 L710.5 655.3 L712.6 654.1 L714.6 654.4 L716.7 655.8 L718.8 656.1 L720.9 655.9 L722.9 656.3 L725.0 657.3 L727.1 656.7 L729.1 658.8 L731.2 658.2 L733.3 658.6 L735.3 658.9 L737.4 659.0 L739.5 660.4 L741.5 659.7 L743.6 660.7 L745.7 661.4 L747.7 662.2 L749.8 662.5 L751.9 662.0 L753.9 663.2 L756.0 663.0 L758.1 662.7 L760.1 663.1 L762.2 663.1 L764.3 664.7 L766.4 665.6 L768.4 664.7 L770.5 665.5 L772.6 665.4 L774.6 666.4 L776.7 666.0 L778.8 666.6 L780.8 667.0 L782.9 667.4 L785.0 667.7 L787.0 668.0 L789.1 668.2 L791.2 667.9 L793.2 669.0 L795.3 667.8 L797.4 669.1 L799.4 668.5 L801.5 669.4 L803.6 669.6 L805.6 668.3 L807.7 669.9 L809.8 670.6 L811.9 670.4 L813.9 670.2 L816.0 668.7 L818.1 669.9 L820.1 669.5 L822.2 670.7 L824.3 669.8 L826.3 669.6 L828.4 668.9 L830.5 670.4 L832.5 669.6 L834.6 669.8 L836.7 670.6 L838.7 670.1 L840.8 670.2 L842.9 671.5 L844.9 669.7 L847.0 669.8 L849.1 670.5 L851.2 671.0 L853.2 669.3 L855.3 670.1 L857.4 669.7 L859.4 669.5 L861.5 670.7 L863.6 669.9 L865.6 670.6 L867.7 670.5 L869.8 670.6 L871.8 670.5 L873.9 669.9 L876.0 670.5 L878.0 670.7 L880.1 670.8 L882.2 670.4 L884.2 671.2 L886.3 670.9 L888.4 670.7 L890.4 671.0 L892.5 670.7 L894.6 671.1 L896.7 669.5 L898.7 669.9 L900.8 670.5 L902.9 670.8 L904.9 669.5 L907.0 670.7 L909.1 670.9 L911.1 670.7 L913.2 670.7 L915.3 670.0 L917.3 670.9 L919.4 669.6 L921.5 671.5 L923.5 670.5 L925.6 671.6 L927.7 669.9 L929.7 671.3 L931.8 671.2 L933.9 670.7 L935.9 670.5 L938.0 672.1 L940.1 671.7 L942.2 672.5 L944.2 671.6 L946.3 671.9 L948.4 672.2 L950.4 672.5 L952.5 672.5 L954.6 672.9 L956.6 672.3 L958.7 671.8 L960.8 674.1 L962.8 673.2 L964.9 673.6 L967.0 673.3 L969.0 674.5 L971.1 674.5 L973.2 675.6 L975.2 675.0 L977.3 676.0 L979.4 676.8 L981.5 677.1 L983.5 678.1 L985.6 679.5 L987.7 678.7 L989.7 679.5 L991.8 680.2 L993.9 679.9 L995.9 680.0 L998.0 681.7 L1000.1 681.7 L1002.1 680.5 L1004.2 680.8 L1006.3 682.3 L1008.3 682.7 L1010.4 682.6 L1012.5 682.6 L1014.5 683.5 L1016.6 682.6 L1018.7 683.5 L1020.7 683.5 L1022.8 682.3 L1024.9 683.3 L1027.0 683.0 L1029.0 682.6 L1031.1 682.5 L1033.2 683.2 L1035.2 683.0 L1037.3 683.5 L1039.4 682.0 L1041.4 682.7 L1043.5 683.8 L1045.6 683.1 L1047.6 682.7 L1049.7 682.8 L1051.8 682.0 L1053.8 682.3 L1055.9 683.5 L1058.0 683.2 L1060.0 684.0 L1062.1 683.0 L1064.2 683.1 L1066.2 681.5 L1068.3 683.1 L1070.4 684.5 L1072.5 683.6 L1074.5 683.2 L1076.6 684.0 L1078.7 683.8 L1080.7 683.5 L1082.8 683.0 L1084.9 683.3 L1086.9 683.8 L1089.0 682.7" fill="none" stroke="#B177DE" stroke-width="4.2" stroke-linejoin="round"/>
<path d="M261.7 344.3 L263.8 388.0 L265.8 432.6 L267.9 479.1 L270.0 520.8 L272.0 556.6 L274.1 580.8 L276.2 595.4 L278.2 605.5 L280.3 610.4 L282.4 615.1 L284.5 616.1 L286.5 618.0 L288.6 620.0 L290.7 623.7 L292.7 622.9 L294.8 619.9 L296.9 618.6 L298.9 620.3 L301.0 618.6 L303.1 620.7 L305.1 619.6 L307.2 618.7 L309.3 617.3 L311.3 619.2 L313.4 615.2 L315.5 614.1 L317.5 616.9 L319.6 616.7 L321.7 613.8 L323.7 614.6 L325.8 616.3 L327.9 611.3 L330.0 611.4 L332.0 611.4 L334.1 606.9 L336.2 608.6 L338.2 608.7 L340.3 606.4 L342.4 606.8 L344.4 605.3 L346.5 602.6 L348.6 602.7 L350.6 601.3 L352.7 597.2 L354.8 597.0 L356.8 595.8 L358.9 594.9 L361.0 593.6 L363.0 591.0 L365.1 591.6 L367.2 587.7 L369.2 590.1 L371.3 587.7 L373.4 587.8 L375.5 584.9 L377.5 582.3 L379.6 579.5 L381.7 580.8 L383.7 578.3 L385.8 577.1 L387.9 575.8 L389.9 574.6 L392.0 570.9 L394.1 571.1 L396.1 566.2 L398.2 563.9 L400.3 562.2 L402.3 560.0 L404.4 557.8 L406.5 550.6 L408.5 552.3 L410.6 545.7 L412.7 544.2 L414.8 542.6 L416.8 540.6 L418.9 534.3 L421.0 529.7 L423.0 529.3 L425.1 524.2 L427.2 517.7 L429.2 513.7 L431.3 505.7 L433.4 502.6 L435.4 494.0 L437.5 488.7 L439.6 475.9 L441.6 470.7 L443.7 462.7 L445.8 449.0 L447.8 436.4 L449.9 419.3 L452.0 406.5 L454.0 388.9 L456.1 369.5 L458.2 349.1 L460.3 329.9 L462.3 307.4 L464.4 282.2 L466.5 257.1 L468.5 234.0 L470.6 215.3 L472.7 202.4 L474.7 191.9 L476.8 189.3 L478.9 190.1 L480.9 198.4 L483.0 213.2 L485.1 234.8 L487.1 261.1 L489.2 288.7 L491.3 317.9 L493.3 347.5 L495.4 375.3 L497.5 401.6 L499.5 424.0 L501.6 445.3 L503.7 462.3 L505.8 480.7 L507.8 496.7 L509.9 507.4 L512.0 517.8 L514.0 530.4 L516.1 539.0 L518.2 550.1 L520.2 558.3 L522.3 567.1 L524.4 578.3 L526.4 586.1 L528.5 593.1 L530.6 598.9 L532.6 604.2 L534.7 608.8 L536.8 614.8 L538.8 617.5 L540.9 622.8 L543.0 625.3 L545.1 627.7 L547.1 630.6 L549.2 633.9 L551.3 635.8 L553.3 637.5 L555.4 639.0 L557.5 639.8 L559.5 642.7 L561.6 642.7 L563.7 643.5 L565.7 644.3 L567.8 645.1 L569.9 645.1 L571.9 646.4 L574.0 646.7 L576.1 647.4 L578.1 647.2 L580.2 650.1 L582.3 648.6 L584.3 650.1 L586.4 650.6 L588.5 651.5 L590.6 652.5 L592.6 651.9 L594.7 652.5 L596.8 652.1 L598.8 653.6 L600.9 652.2 L603.0 653.2 L605.0 653.9 L607.1 654.5 L609.2 654.8 L611.2 655.3 L613.3 655.2 L615.4 655.0 L617.4 655.2 L619.5 656.0 L621.6 655.3 L623.6 655.8 L625.7 655.1 L627.8 654.1 L629.8 654.8 L631.9 655.4 L634.0 656.2 L636.1 656.0 L638.1 656.2 L640.2 654.6 L642.3 655.5 L644.3 655.0 L646.4 655.4 L648.5 654.8 L650.5 653.9 L652.6 655.1 L654.7 654.8 L656.7 655.0 L658.8 653.8 L660.9 654.9 L662.9 654.8 L665.0 654.9 L667.1 654.8 L669.1 653.5 L671.2 652.1 L673.3 654.2 L675.3 653.0 L677.4 653.3 L679.5 654.1 L681.6 653.6 L683.6 653.5 L685.7 653.7 L687.8 652.1 L689.8 654.4 L691.9 653.0 L694.0 653.1 L696.0 653.7 L698.1 653.3 L700.2 653.0 L702.2 653.6 L704.3 653.6 L706.4 653.7 L708.4 655.6 L710.5 653.8 L712.6 653.5 L714.6 654.6 L716.7 654.9 L718.8 656.7 L720.9 656.2 L722.9 657.0 L725.0 657.2 L727.1 656.6 L729.1 658.1 L731.2 658.1 L733.3 659.7 L735.3 659.0 L737.4 659.3 L739.5 660.3 L741.5 660.8 L743.6 659.6 L745.7 662.0 L747.7 662.3 L749.8 662.6 L751.9 661.8 L753.9 661.7 L756.0 663.2 L758.1 664.2 L760.1 664.4 L762.2 663.9 L764.3 665.6 L766.4 664.5 L768.4 665.0 L770.5 666.3 L772.6 666.3 L774.6 666.7 L776.7 666.6 L778.8 668.6 L780.8 667.5 L782.9 668.8 L785.0 669.3 L787.0 669.0 L789.1 669.5 L791.2 670.1 L793.2 670.7 L795.3 670.5 L797.4 669.2 L799.4 669.1 L801.5 670.1 L803.6 669.9 L805.6 671.1 L807.7 671.0 L809.8 670.9 L811.9 671.9 L813.9 671.9 L816.0 671.3 L818.1 671.6 L820.1 672.0 L822.2 671.1 L824.3 671.5 L826.3 670.7 L828.4 671.3 L830.5 671.5 L832.5 671.3 L834.6 671.4 L836.7 671.8 L838.7 671.6 L840.8 670.9 L842.9 671.0 L844.9 670.6 L847.0 672.5 L849.1 671.7 L851.2 671.8 L853.2 671.4 L855.3 671.8 L857.4 671.9 L859.4 671.1 L861.5 671.5 L863.6 672.4 L865.6 670.9 L867.7 671.1 L869.8 672.1 L871.8 671.2 L873.9 672.2 L876.0 671.0 L878.0 671.8 L880.1 672.2 L882.2 671.9 L884.2 672.2 L886.3 671.6 L888.4 671.6 L890.4 671.6 L892.5 672.0 L894.6 673.9 L896.7 671.6 L898.7 672.8 L900.8 671.5 L902.9 671.0 L904.9 671.5 L907.0 671.9 L909.1 671.8 L911.1 671.8 L913.2 672.0 L915.3 672.0 L917.3 672.2 L919.4 670.9 L921.5 671.6 L923.5 671.0 L925.6 671.8 L927.7 671.6 L929.7 671.8 L931.8 671.4 L933.9 671.2 L935.9 671.7 L938.0 672.3 L940.1 672.4 L942.2 671.0 L944.2 672.3 L946.3 672.4 L948.4 671.5 L950.4 671.8 L952.5 672.3 L954.6 673.0 L956.6 671.5 L958.7 672.8 L960.8 672.9 L962.8 673.5 L964.9 674.5 L967.0 674.6 L969.0 673.9 L971.1 674.4 L973.2 675.2 L975.2 676.4 L977.3 677.1 L979.4 677.1 L981.5 678.4 L983.5 677.6 L985.6 678.0 L987.7 677.6 L989.7 679.3 L991.8 680.7 L993.9 681.2 L995.9 683.1 L998.0 681.6 L1000.1 681.5 L1002.1 681.0 L1004.2 681.4 L1006.3 681.6 L1008.3 682.0 L1010.4 681.9 L1012.5 681.6 L1014.5 683.3 L1016.6 683.0 L1018.7 683.7 L1020.7 682.0 L1022.8 682.2 L1024.9 682.6 L1027.0 683.8 L1029.0 683.0 L1031.1 683.3 L1033.2 683.1 L1035.2 683.3 L1037.3 682.8 L1039.4 683.4 L1041.4 682.7 L1043.5 683.0 L1045.6 683.4 L1047.6 683.3 L1049.7 683.5 L1051.8 682.7 L1053.8 683.4 L1055.9 683.1 L1058.0 683.5 L1060.0 684.2 L1062.1 682.7 L1064.2 683.9 L1066.2 682.9 L1068.3 683.0 L1070.4 684.3 L1072.5 683.9 L1074.5 683.6 L1076.6 683.8 L1078.7 684.0 L1080.7 682.9 L1082.8 683.5 L1084.9 683.1 L1086.9 683.6 L1089.0 683.1" fill="none" stroke="#CC9900" stroke-width="4.2" stroke-linejoin="round"/>
<path d="M261.7 351.1 L263.8 394.4 L265.8 437.0 L267.9 481.4 L270.0 521.5 L272.0 554.2 L274.1 577.0 L276.2 590.7 L278.2 599.5 L280.3 603.9 L282.4 605.9 L284.5 606.3 L286.5 609.1 L288.6 609.3 L290.7 609.6 L292.7 613.2 L294.8 608.8 L296.9 609.1 L298.9 605.5 L301.0 606.7 L303.1 606.3 L305.1 604.3 L307.2 602.4 L309.3 602.2 L311.3 600.4 L313.4 601.2 L315.5 598.8 L317.5 596.6 L319.6 594.2 L321.7 595.1 L323.7 594.8 L325.8 592.7 L327.9 592.0 L330.0 590.1 L332.0 589.9 L334.1 590.4 L336.2 588.7 L338.2 587.5 L340.3 586.0 L342.4 584.8 L344.4 584.7 L346.5 585.1 L348.6 581.8 L350.6 582.2 L352.7 577.9 L354.8 576.6 L356.8 577.5 L358.9 572.9 L361.0 571.2 L363.0 570.8 L365.1 567.2 L367.2 565.5 L369.2 568.2 L371.3 563.8 L373.4 563.1 L375.5 561.7 L377.5 559.6 L379.6 560.4 L381.7 558.8 L383.7 557.6 L385.8 555.9 L387.9 553.3 L389.9 553.5 L392.0 551.1 L394.1 546.9 L396.1 545.7 L398.2 542.8 L400.3 543.5 L402.3 539.5 L404.4 536.6 L406.5 533.0 L408.5 531.2 L410.6 526.4 L412.7 525.0 L414.8 521.9 L416.8 518.8 L418.9 514.5 L421.0 512.6 L423.0 506.7 L425.1 504.8 L427.2 502.1 L429.2 498.7 L431.3 493.8 L433.4 488.1 L435.4 482.5 L437.5 477.1 L439.6 469.6 L441.6 463.0 L443.7 452.9 L445.8 445.1 L447.8 436.5 L449.9 418.6 L452.0 405.6 L454.0 389.6 L456.1 370.6 L458.2 351.8 L460.3 330.4 L462.3 310.4 L464.4 287.0 L466.5 261.0 L468.5 239.6 L470.6 220.1 L472.7 209.0 L474.7 201.1 L476.8 195.7 L478.9 198.4 L480.9 206.5 L483.0 221.4 L485.1 240.4 L487.1 265.6 L489.2 295.2 L491.3 321.9 L493.3 351.6 L495.4 377.9 L497.5 404.1 L499.5 427.1 L501.6 446.1 L503.7 464.5 L505.8 482.6 L507.8 496.7 L509.9 508.5 L512.0 518.9 L514.0 526.3 L516.1 537.5 L518.2 547.1 L520.2 555.5 L522.3 565.7 L524.4 574.4 L526.4 581.5 L528.5 588.0 L530.6 593.5 L532.6 598.0 L534.7 603.7 L536.8 607.5 L538.8 611.5 L540.9 616.1 L543.0 618.4 L545.1 621.9 L547.1 623.3 L549.2 626.0 L551.3 628.4 L553.3 631.1 L555.4 632.0 L557.5 634.2 L559.5 634.7 L561.6 636.4 L563.7 637.8 L565.7 637.7 L567.8 638.6 L569.9 640.2 L571.9 639.8 L574.0 641.3 L576.1 642.0 L578.1 642.4 L580.2 643.6 L582.3 644.0 L584.3 644.5 L586.4 644.0 L588.5 644.6 L590.6 646.2 L592.6 645.5 L594.7 647.0 L596.8 647.2 L598.8 647.4 L600.9 648.2 L603.0 647.4 L605.0 649.2 L607.1 650.5 L609.2 649.4 L611.2 650.8 L613.3 651.2 L615.4 653.2 L617.4 651.0 L619.5 651.4 L621.6 651.7 L623.6 651.8 L625.7 651.5 L627.8 652.8 L629.8 652.4 L631.9 653.5 L634.0 653.4 L636.1 652.7 L638.1 653.2 L640.2 654.4 L642.3 653.4 L644.3 653.8 L646.4 654.3 L648.5 653.6 L650.5 654.1 L652.6 654.8 L654.7 654.5 L656.7 652.6 L658.8 654.6 L660.9 653.5 L662.9 653.1 L665.0 653.0 L667.1 654.1 L669.1 653.5 L671.2 653.1 L673.3 652.7 L675.3 653.5 L677.4 653.8 L679.5 652.5 L681.6 652.4 L683.6 652.8 L685.7 653.4 L687.8 652.8 L689.8 653.0 L691.9 652.5 L694.0 653.9 L696.0 653.1 L698.1 653.3 L700.2 654.1 L702.2 653.4 L704.3 653.8 L706.4 654.3 L708.4 654.0 L710.5 655.4 L712.6 654.9 L714.6 654.9 L716.7 655.2 L718.8 655.0 L720.9 656.7 L722.9 657.3 L725.0 656.6 L727.1 656.8 L729.1 656.2 L731.2 657.5 L733.3 658.9 L735.3 658.3 L737.4 659.7 L739.5 660.6 L741.5 658.5 L743.6 660.3 L745.7 660.5 L747.7 661.1 L749.8 660.7 L751.9 662.0 L753.9 661.9 L756.0 663.6 L758.1 664.2 L760.1 662.8 L762.2 663.2 L764.3 664.2 L766.4 664.7 L768.4 665.2 L770.5 666.1 L772.6 665.1 L774.6 666.0 L776.7 666.5 L778.8 666.9 L780.8 666.8 L782.9 667.4 L785.0 667.5 L787.0 668.9 L789.1 668.0 L791.2 667.2 L793.2 669.0 L795.3 668.9 L797.4 668.5 L799.4 668.6 L801.5 668.9 L803.6 670.4 L805.6 669.3 L807.7 670.4 L809.8 670.3 L811.9 669.6 L813.9 670.2 L816.0 669.5 L818.1 668.1 L820.1 669.6 L822.2 669.6 L824.3 670.6 L826.3 670.4 L828.4 670.7 L830.5 670.3 L832.5 670.7 L834.6 670.4 L836.7 670.1 L838.7 670.7 L840.8 670.9 L842.9 670.9 L844.9 669.8 L847.0 670.1 L849.1 669.6 L851.2 669.6 L853.2 670.5 L855.3 669.9 L857.4 671.2 L859.4 669.0 L861.5 669.7 L863.6 670.6 L865.6 671.2 L867.7 670.3 L869.8 671.7 L871.8 671.0 L873.9 670.1 L876.0 670.5 L878.0 670.9 L880.1 670.0 L882.2 671.2 L884.2 670.4 L886.3 670.9 L888.4 671.2 L890.4 670.4 L892.5 671.3 L894.6 669.5 L896.7 671.1 L898.7 669.5 L900.8 671.4 L902.9 670.4 L904.9 671.6 L907.0 671.7 L909.1 670.8 L911.1 670.5 L913.2 671.7 L915.3 670.2 L917.3 671.4 L919.4 670.9 L921.5 670.7 L923.5 670.6 L925.6 672.1 L927.7 670.0 L929.7 670.7 L931.8 671.4 L933.9 671.9 L935.9 672.4 L938.0 672.2 L940.1 671.2 L942.2 671.8 L944.2 672.4 L946.3 672.2 L948.4 671.0 L950.4 672.3 L952.5 672.6 L954.6 671.6 L956.6 672.3 L958.7 672.7 L960.8 673.3 L962.8 674.1 L964.9 674.1 L967.0 673.9 L969.0 674.1 L971.1 674.2 L973.2 674.6 L975.2 675.3 L977.3 675.9 L979.4 677.3 L981.5 678.6 L983.5 678.2 L985.6 679.1 L987.7 679.5 L989.7 679.8 L991.8 680.9 L993.9 681.2 L995.9 680.8 L998.0 680.9 L1000.1 681.6 L1002.1 681.1 L1004.2 681.8 L1006.3 682.5 L1008.3 682.0 L1010.4 681.0 L1012.5 682.7 L1014.5 681.8 L1016.6 681.7 L1018.7 681.8 L1020.7 683.3 L1022.8 681.6 L1024.9 682.8 L1027.0 683.1 L1029.0 683.1 L1031.1 682.6 L1033.2 683.0 L1035.2 683.1 L1037.3 682.2 L1039.4 683.5 L1041.4 683.7 L1043.5 682.6 L1045.6 682.7 L1047.6 682.4 L1049.7 683.8 L1051.8 682.5 L1053.8 682.8 L1055.9 682.1 L1058.0 683.9 L1060.0 683.0 L1062.1 683.4 L1064.2 684.2 L1066.2 683.6 L1068.3 682.5 L1070.4 683.5 L1072.5 683.7 L1074.5 682.7 L1076.6 682.6 L1078.7 682.6 L1080.7 683.7 L1082.8 683.3 L1084.9 682.6 L1086.9 683.6 L1089.0 683.7" fill="none" stroke="#00CBCC" stroke-width="4.2" stroke-linejoin="round"/>
<path d="M261.7 339.8 L263.8 383.0 L265.8 429.4 L267.9 478.6 L270.0 522.1 L272.0 557.4 L274.1 582.9 L276.2 598.1 L278.2 608.6 L280.3 615.0 L282.4 618.8 L284.5 622.5 L286.5 624.2 L288.6 627.0 L290.7 623.9 L292.7 627.0 L294.8 629.2 L296.9 629.4 L298.9 628.7 L301.0 630.3 L303.1 629.1 L305.1 628.9 L307.2 626.3 L309.3 627.6 L311.3 627.6 L313.4 627.8 L315.5 627.2 L317.5 625.3 L319.6 625.1 L321.7 622.9 L323.7 624.8 L325.8 622.0 L327.9 622.6 L330.0 622.3 L332.0 624.3 L334.1 622.4 L336.2 618.8 L338.2 616.9 L340.3 617.5 L342.4 615.7 L344.4 616.3 L346.5 615.2 L348.6 614.5 L350.6 611.2 L352.7 610.9 L354.8 610.5 L356.8 609.4 L358.9 607.0 L361.0 606.0 L363.0 606.3 L365.1 601.5 L367.2 602.1 L369.2 601.1 L371.3 597.7 L373.4 596.9 L375.5 596.9 L377.5 594.6 L379.6 595.2 L381.7 593.0 L383.7 593.5 L385.8 587.1 L387.9 589.4 L389.9 584.0 L392.0 583.9 L394.1 581.8 L396.1 578.2 L398.2 575.0 L400.3 571.8 L402.3 567.5 L404.4 566.6 L406.5 563.2 L408.5 562.5 L410.6 558.0 L412.7 556.0 L414.8 554.0 L416.8 550.4 L418.9 547.0 L421.0 542.9 L423.0 538.5 L425.1 533.7 L427.2 527.6 L429.2 518.8 L431.3 514.7 L433.4 505.2 L435.4 493.5 L437.5 490.2 L439.6 478.0 L441.6 466.0 L443.7 458.5 L445.8 441.3 L447.8 435.8 L449.9 416.5 L452.0 403.0 L454.0 388.1 L456.1 372.1 L458.2 354.3 L460.3 337.3 L462.3 317.1 L464.4 296.0 L466.5 273.3 L468.5 252.7 L470.6 237.9 L472.7 226.0 L474.7 218.2 L476.8 216.0 L478.9 217.1 L480.9 225.4 L483.0 239.5 L485.1 257.8 L487.1 282.4 L489.2 307.9 L491.3 334.1 L493.3 361.3 L495.4 384.5 L497.5 407.7 L499.5 427.3 L501.6 446.5 L503.7 463.3 L505.8 481.5 L507.8 496.7 L509.9 508.8 L512.0 518.1 L514.0 528.7 L516.1 539.1 L518.2 550.6 L520.2 562.1 L522.3 572.7 L524.4 582.3 L526.4 591.1 L528.5 597.3 L530.6 604.1 L532.6 611.0 L534.7 616.2 L536.8 619.8 L538.8 624.9 L540.9 629.2 L543.0 631.7 L545.1 635.6 L547.1 638.2 L549.2 640.7 L551.3 643.7 L553.3 643.7 L555.4 646.7 L557.5 647.7 L559.5 649.1 L561.6 649.2 L563.7 650.5 L565.7 651.1 L567.8 652.8 L569.9 652.4 L571.9 653.7 L574.0 653.1 L576.1 653.5 L578.1 654.2 L580.2 653.4 L582.3 654.8 L584.3 655.2 L586.4 655.8 L588.5 656.4 L590.6 656.0 L592.6 656.2 L594.7 657.9 L596.8 656.7 L598.8 657.2 L600.9 657.2 L603.0 657.7 L605.0 658.9 L607.1 659.1 L609.2 657.4 L611.2 658.5 L613.3 659.6 L615.4 658.4 L617.4 658.7 L619.5 659.5 L621.6 659.6 L623.6 659.0 L625.7 657.7 L627.8 657.7 L629.8 657.7 L631.9 657.2 L634.0 656.8 L636.1 658.3 L638.1 657.0 L640.2 657.1 L642.3 657.2 L644.3 656.7 L646.4 656.2 L648.5 656.1 L650.5 656.7 L652.6 655.9 L654.7 654.1 L656.7 655.9 L658.8 656.1 L660.9 654.7 L662.9 654.4 L665.0 654.3 L667.1 655.1 L669.1 653.7 L671.2 654.6 L673.3 654.7 L675.3 654.3 L677.4 654.0 L679.5 653.4 L681.6 653.3 L683.6 653.7 L685.7 653.0 L687.8 653.5 L689.8 652.9 L691.9 654.3 L694.0 654.4 L696.0 653.0 L698.1 654.4 L700.2 653.8 L702.2 653.9 L704.3 654.3 L706.4 654.5 L708.4 653.6 L710.5 656.3 L712.6 654.5 L714.6 653.9 L716.7 655.6 L718.8 655.9 L720.9 655.8 L722.9 655.4 L725.0 657.7 L727.1 657.3 L729.1 657.9 L731.2 657.8 L733.3 658.5 L735.3 658.7 L737.4 659.8 L739.5 660.0 L741.5 661.0 L743.6 661.4 L745.7 661.6 L747.7 662.1 L749.8 663.2 L751.9 661.9 L753.9 663.4 L756.0 664.6 L758.1 663.5 L760.1 665.1 L762.2 664.8 L764.3 665.5 L766.4 665.8 L768.4 666.4 L770.5 667.3 L772.6 667.4 L774.6 666.6 L776.7 669.7 L778.8 668.7 L780.8 668.8 L782.9 670.1 L785.0 670.6 L787.0 668.7 L789.1 670.5 L791.2 669.2 L793.2 670.4 L795.3 670.9 L797.4 670.9 L799.4 671.0 L801.5 670.9 L803.6 671.6 L805.6 671.9 L807.7 672.1 L809.8 671.5 L811.9 672.0 L813.9 673.2 L816.0 673.0 L818.1 672.5 L820.1 673.1 L822.2 672.9 L824.3 673.3 L826.3 672.8 L828.4 672.4 L830.5 672.1 L832.5 672.7 L834.6 671.4 L836.7 672.7 L838.7 670.7 L840.8 672.1 L842.9 672.4 L844.9 673.0 L847.0 674.5 L849.1 672.9 L851.2 672.7 L853.2 671.6 L855.3 673.7 L857.4 671.7 L859.4 673.0 L861.5 672.4 L863.6 674.5 L865.6 672.8 L867.7 673.1 L869.8 672.5 L871.8 672.8 L873.9 673.6 L876.0 672.3 L878.0 672.4 L880.1 672.4 L882.2 672.2 L884.2 672.1 L886.3 672.7 L888.4 673.5 L890.4 673.5 L892.5 671.8 L894.6 672.2 L896.7 672.5 L898.7 672.9 L900.8 672.6 L902.9 672.5 L904.9 672.8 L907.0 673.0 L909.1 671.2 L911.1 672.3 L913.2 672.8 L915.3 673.2 L917.3 672.8 L919.4 671.8 L921.5 671.8 L923.5 672.4 L925.6 672.2 L927.7 672.4 L929.7 672.9 L931.8 671.4 L933.9 672.0 L935.9 670.8 L938.0 672.8 L940.1 672.5 L942.2 671.9 L944.2 672.7 L946.3 673.5 L948.4 673.3 L950.4 672.8 L952.5 672.8 L954.6 673.2 L956.6 672.6 L958.7 672.8 L960.8 673.3 L962.8 673.6 L964.9 674.0 L967.0 673.7 L969.0 673.8 L971.1 674.8 L973.2 675.0 L975.2 676.0 L977.3 677.3 L979.4 677.7 L981.5 677.2 L983.5 678.0 L985.6 677.9 L987.7 679.5 L989.7 679.5 L991.8 679.7 L993.9 680.3 L995.9 681.5 L998.0 681.5 L1000.1 681.5 L1002.1 682.4 L1004.2 681.7 L1006.3 681.5 L1008.3 682.6 L1010.4 681.3 L1012.5 682.8 L1014.5 682.9 L1016.6 683.1 L1018.7 683.5 L1020.7 682.9 L1022.8 683.2 L1024.9 682.2 L1027.0 682.9 L1029.0 682.9 L1031.1 683.4 L1033.2 684.1 L1035.2 683.3 L1037.3 683.8 L1039.4 682.7 L1041.4 683.3 L1043.5 682.3 L1045.6 682.9 L1047.6 682.8 L1049.7 683.2 L1051.8 683.2 L1053.8 682.9 L1055.9 682.8 L1058.0 683.8 L1060.0 683.1 L1062.1 681.8 L1064.2 683.4 L1066.2 683.5 L1068.3 683.8 L1070.4 684.3 L1072.5 682.7 L1074.5 683.4 L1076.6 683.2 L1078.7 682.3 L1080.7 681.8 L1082.8 683.9 L1084.9 682.7 L1086.9 683.0 L1089.0 683.1" fill="none" stroke="#7D4E4E" stroke-width="4.2" stroke-linejoin="round"/>
<path d="M261.7 344.8 L263.8 388.8 L265.8 431.7 L267.9 478.7 L270.0 521.0 L272.0 554.5 L274.1 579.6 L276.2 594.7 L278.2 604.1 L280.3 608.3 L282.4 612.7 L284.5 615.4 L286.5 617.6 L288.6 619.0 L290.7 620.9 L292.7 619.4 L294.8 618.9 L296.9 621.6 L298.9 618.4 L301.0 617.1 L303.1 617.3 L305.1 618.1 L307.2 614.3 L309.3 616.1 L311.3 616.0 L313.4 615.1 L315.5 613.0 L317.5 611.1 L319.6 610.2 L321.7 610.9 L323.7 612.2 L325.8 610.8 L327.9 610.4 L330.0 608.6 L332.0 609.9 L334.1 606.4 L336.2 604.6 L338.2 604.6 L340.3 602.6 L342.4 603.3 L344.4 602.8 L346.5 600.5 L348.6 596.8 L350.6 595.7 L352.7 596.5 L354.8 593.0 L356.8 593.7 L358.9 589.9 L361.0 590.0 L363.0 589.9 L365.1 586.8 L367.2 587.5 L369.2 586.4 L371.3 585.6 L373.4 581.9 L375.5 580.9 L377.5 579.4 L379.6 578.4 L381.7 574.3 L383.7 575.3 L385.8 574.0 L387.9 569.5 L389.9 567.5 L392.0 566.9 L394.1 567.6 L396.1 563.7 L398.2 559.6 L400.3 557.9 L402.3 553.2 L404.4 554.4 L406.5 548.9 L408.5 548.0 L410.6 542.6 L412.7 541.8 L414.8 537.4 L416.8 536.6 L418.9 534.2 L421.0 530.2 L423.0 525.6 L425.1 523.6 L427.2 517.7 L429.2 514.1 L431.3 511.3 L433.4 508.0 L435.4 500.9 L437.5 495.1 L439.6 484.8 L441.6 477.9 L443.7 468.0 L445.8 458.0 L447.8 446.8 L449.9 429.3 L452.0 410.9 L454.0 389.2 L456.1 366.4 L458.2 343.0 L460.3 318.3 L462.3 290.6 L464.4 260.9 L466.5 229.6 L468.5 201.0 L470.6 178.0 L472.7 160.7 L474.7 148.2 L476.8 141.3 L478.9 145.2 L480.9 153.1 L483.0 169.2 L485.1 193.7 L487.1 224.7 L489.2 257.2 L491.3 290.4 L493.3 325.2 L495.4 358.1 L497.5 387.4 L499.5 413.6 L501.6 436.7 L503.7 456.7 L505.8 477.6 L507.8 494.9 L509.9 508.0 L512.0 519.6 L514.0 530.7 L516.1 541.9 L518.2 551.9 L520.2 562.7 L522.3 573.2 L524.4 582.3 L526.4 590.7 L528.5 599.3 L530.6 603.6 L532.6 610.4 L534.7 615.8 L536.8 620.0 L538.8 625.1 L540.9 629.4 L543.0 631.1 L545.1 636.1 L547.1 638.1 L549.2 639.9 L551.3 643.1 L553.3 644.3 L555.4 645.7 L557.5 645.9 L559.5 649.2 L561.6 649.7 L563.7 650.0 L565.7 651.1 L567.8 652.5 L569.9 652.1 L571.9 652.7 L574.0 653.0 L576.1 653.1 L578.1 653.6 L580.2 654.4 L582.3 654.9 L584.3 656.2 L586.4 656.0 L588.5 656.1 L590.6 656.8 L592.6 656.8 L594.7 657.6 L596.8 656.4 L598.8 656.2 L600.9 658.0 L603.0 657.7 L605.0 658.3 L607.1 657.6 L609.2 658.2 L611.2 658.6 L613.3 658.9 L615.4 658.6 L617.4 659.1 L619.5 658.0 L621.6 658.7 L623.6 657.7 L625.7 657.8 L627.8 657.0 L629.8 657.5 L631.9 656.7 L634.0 657.7 L636.1 656.6 L638.1 656.9 L640.2 656.5 L642.3 656.4 L644.3 655.7 L646.4 657.4 L648.5 655.8 L650.5 656.7 L652.6 654.8 L654.7 656.6 L656.7 655.8 L658.8 656.1 L660.9 653.9 L662.9 655.5 L665.0 654.5 L667.1 654.8 L669.1 655.4 L671.2 654.4 L673.3 653.6 L675.3 654.1 L677.4 653.3 L679.5 654.0 L681.6 653.7 L683.6 653.9 L685.7 653.4 L687.8 652.3 L689.8 653.2 L691.9 653.3 L694.0 653.8 L696.0 653.9 L698.1 652.6 L700.2 654.3 L702.2 654.4 L704.3 654.1 L706.4 654.5 L708.4 653.3 L710.5 656.2 L712.6 654.8 L714.6 654.9 L716.7 656.3 L718.8 656.3 L720.9 655.9 L722.9 655.6 L725.0 657.5 L727.1 658.3 L729.1 657.2 L731.2 657.3 L733.3 658.8 L735.3 660.5 L737.4 658.7 L739.5 660.2 L741.5 659.8 L743.6 661.0 L745.7 661.7 L747.7 662.3 L749.8 661.5 L751.9 662.0 L753.9 664.7 L756.0 664.4 L758.1 663.1 L760.1 664.9 L762.2 665.9 L764.3 665.5 L766.4 666.1 L768.4 666.5 L770.5 667.2 L772.6 667.6 L774.6 668.1 L776.7 668.1 L778.8 669.2 L780.8 669.3 L782.9 669.5 L785.0 669.0 L787.0 669.8 L789.1 670.4 L791.2 670.2 L793.2 670.5 L795.3 670.3 L797.4 670.9 L799.4 670.3 L801.5 670.8 L803.6 671.9 L805.6 672.3 L807.7 671.6 L809.8 672.0 L811.9 672.5 L813.9 673.5 L816.0 673.8 L818.1 672.5 L820.1 672.2 L822.2 672.2 L824.3 673.5 L826.3 672.0 L828.4 673.0 L830.5 672.4 L832.5 672.4 L834.6 673.2 L836.7 673.0 L838.7 674.0 L840.8 673.3 L842.9 673.8 L844.9 672.5 L847.0 672.7 L849.1 672.2 L851.2 672.6 L853.2 673.2 L855.3 672.6 L857.4 673.1 L859.4 672.5 L861.5 672.7 L863.6 673.5 L865.6 672.9 L867.7 672.9 L869.8 673.1 L871.8 672.3 L873.9 671.8 L876.0 673.1 L878.0 673.1 L880.1 674.2 L882.2 672.9 L884.2 673.0 L886.3 674.1 L888.4 672.5 L890.4 672.3 L892.5 673.1 L894.6 672.9 L896.7 673.2 L898.7 672.1 L900.8 673.5 L902.9 672.8 L904.9 671.3 L907.0 672.5 L909.1 672.2 L911.1 672.5 L913.2 673.1 L915.3 672.4 L917.3 672.1 L919.4 672.9 L921.5 672.0 L923.5 671.5 L925.6 671.6 L927.7 673.2 L929.7 672.8 L931.8 673.2 L933.9 671.6 L935.9 671.9 L938.0 671.9 L940.1 673.0 L942.2 673.2 L944.2 672.5 L946.3 672.6 L948.4 673.3 L950.4 672.8 L952.5 672.6 L954.6 673.0 L956.6 673.9 L958.7 674.7 L960.8 673.7 L962.8 673.6 L964.9 674.0 L967.0 674.3 L969.0 674.8 L971.1 674.4 L973.2 675.3 L975.2 675.8 L977.3 677.0 L979.4 677.4 L981.5 677.6 L983.5 678.9 L985.6 679.7 L987.7 679.7 L989.7 679.3 L991.8 680.4 L993.9 680.0 L995.9 681.2 L998.0 681.6 L1000.1 682.4 L1002.1 682.1 L1004.2 681.1 L1006.3 682.0 L1008.3 681.9 L1010.4 682.1 L1012.5 682.7 L1014.5 682.9 L1016.6 682.9 L1018.7 682.6 L1020.7 682.8 L1022.8 682.9 L1024.9 683.1 L1027.0 683.7 L1029.0 683.4 L1031.1 683.8 L1033.2 682.7 L1035.2 684.6 L1037.3 683.4 L1039.4 681.8 L1041.4 683.5 L1043.5 684.0 L1045.6 683.3 L1047.6 682.5 L1049.7 683.4 L1051.8 683.0 L1053.8 683.3 L1055.9 683.6 L1058.0 681.4 L1060.0 683.3 L1062.1 683.7 L1064.2 683.7 L1066.2 683.1 L1068.3 683.1 L1070.4 682.9 L1072.5 683.3 L1074.5 684.3 L1076.6 683.1 L1078.7 683.6 L1080.7 683.6 L1082.8 684.3 L1084.9 683.7 L1086.9 683.8 L1089.0 683.4" fill="none" stroke="#8E8E00" stroke-width="4.2" stroke-linejoin="round"/>
<path d="M261.7 343.1 L263.8 385.8 L265.8 430.2 L267.9 478.5 L270.0 521.6 L272.0 556.7 L274.1 581.3 L276.2 598.7 L278.2 607.1 L280.3 613.6 L282.4 616.9 L284.5 618.9 L286.5 621.8 L288.6 623.0 L290.7 625.6 L292.7 622.2 L294.8 623.4 L296.9 623.0 L298.9 626.2 L301.0 625.7 L303.1 622.5 L305.1 623.9 L307.2 623.5 L309.3 622.0 L311.3 623.5 L313.4 620.2 L315.5 620.7 L317.5 619.6 L319.6 620.7 L321.7 618.6 L323.7 619.8 L325.8 617.0 L327.9 616.1 L330.0 615.7 L332.0 615.4 L334.1 614.4 L336.2 617.9 L338.2 612.1 L340.3 612.6 L342.4 611.0 L344.4 610.4 L346.5 610.8 L348.6 608.5 L350.6 605.7 L352.7 603.5 L354.8 605.0 L356.8 604.2 L358.9 599.7 L361.0 601.6 L363.0 596.2 L365.1 597.6 L367.2 597.5 L369.2 593.6 L371.3 591.2 L373.4 594.0 L375.5 588.5 L377.5 589.5 L379.6 585.6 L381.7 586.6 L383.7 586.5 L385.8 582.0 L387.9 579.6 L389.9 576.1 L392.0 574.5 L394.1 573.6 L396.1 572.5 L398.2 570.3 L400.3 567.4 L402.3 565.4 L404.4 561.9 L406.5 562.2 L408.5 555.8 L410.6 553.4 L412.7 547.2 L414.8 546.7 L416.8 545.3 L418.9 540.5 L421.0 539.2 L423.0 534.4 L425.1 531.1 L427.2 521.3 L429.2 516.7 L431.3 512.7 L433.4 504.0 L435.4 494.9 L437.5 487.2 L439.6 478.6 L441.6 470.7 L443.7 460.1 L445.8 447.9 L447.8 434.1 L449.9 422.2 L452.0 406.3 L454.0 388.2 L456.1 371.0 L458.2 350.6 L460.3 331.6 L462.3 310.1 L464.4 284.9 L466.5 260.9 L468.5 238.8 L470.6 221.9 L472.7 208.8 L474.7 199.3 L476.8 194.8 L478.9 197.3 L480.9 204.8 L483.0 219.9 L485.1 240.6 L487.1 266.0 L489.2 294.0 L491.3 322.7 L493.3 351.9 L495.4 378.1 L497.5 404.0 L499.5 425.4 L501.6 446.3 L503.7 462.9 L505.8 481.9 L507.8 496.1 L509.9 509.1 L512.0 518.4 L514.0 527.7 L516.1 539.3 L518.2 548.9 L520.2 559.0 L522.3 569.7 L524.4 577.4 L526.4 585.4 L528.5 593.1 L530.6 598.2 L532.6 604.5 L534.7 609.6 L536.8 613.6 L538.8 618.2 L540.9 620.2 L543.0 625.8 L545.1 627.2 L547.1 629.7 L549.2 633.9 L551.3 635.8 L553.3 636.2 L555.4 638.6 L557.5 639.6 L559.5 640.5 L561.6 642.5 L563.7 643.9 L565.7 645.7 L567.8 644.6 L569.9 646.0 L571.9 645.8 L574.0 646.5 L576.1 648.0 L578.1 646.7 L580.2 647.6 L582.3 648.3 L584.3 650.1 L586.4 650.1 L588.5 650.7 L590.6 651.0 L592.6 651.9 L594.7 651.3 L596.8 651.8 L598.8 652.0 L600.9 652.9 L603.0 652.2 L605.0 653.2 L607.1 655.3 L609.2 654.3 L611.2 654.2 L613.3 653.9 L615.4 654.6 L617.4 654.5 L619.5 654.7 L621.6 653.8 L623.6 654.4 L625.7 654.4 L627.8 654.4 L629.8 653.6 L631.9 654.2 L634.0 654.8 L636.1 653.3 L638.1 654.0 L640.2 653.3 L642.3 653.2 L644.3 652.7 L646.4 652.7 L648.5 653.6 L650.5 653.3 L652.6 653.9 L654.7 652.0 L656.7 652.7 L658.8 652.1 L660.9 653.1 L662.9 654.2 L665.0 651.9 L667.1 652.7 L669.1 652.7 L671.2 652.7 L673.3 652.3 L675.3 652.4 L677.4 653.7 L679.5 652.1 L681.6 653.1 L683.6 653.0 L685.7 651.7 L687.8 652.2 L689.8 653.0 L691.9 654.0 L694.0 652.8 L696.0 652.7 L698.1 653.1 L700.2 654.0 L702.2 653.9 L704.3 654.4 L706.4 653.8 L708.4 653.7 L710.5 653.8 L712.6 655.2 L714.6 654.9 L716.7 655.0 L718.8 655.9 L720.9 656.0 L722.9 654.9 L725.0 656.5 L727.1 656.4 L729.1 657.6 L731.2 657.7 L733.3 659.2 L735.3 658.6 L737.4 658.3 L739.5 658.2 L741.5 659.2 L743.6 659.9 L745.7 660.7 L747.7 661.5 L749.8 661.6 L751.9 661.5 L753.9 662.7 L756.0 662.0 L758.1 663.5 L760.1 664.4 L762.2 664.2 L764.3 665.0 L766.4 665.2 L768.4 664.0 L770.5 665.2 L772.6 665.3 L774.6 665.0 L776.7 665.3 L778.8 666.6 L780.8 665.8 L782.9 666.6 L785.0 667.0 L787.0 666.9 L789.1 668.3 L791.2 668.0 L793.2 667.7 L795.3 667.4 L797.4 668.1 L799.4 668.1 L801.5 667.5 L803.6 667.4 L805.6 667.9 L807.7 667.7 L809.8 668.8 L811.9 668.8 L813.9 668.5 L816.0 668.9 L818.1 669.1 L820.1 667.7 L822.2 668.8 L824.3 669.3 L826.3 668.4 L828.4 667.5 L830.5 668.6 L832.5 667.9 L834.6 668.9 L836.7 669.0 L838.7 669.1 L840.8 668.8 L842.9 667.6 L844.9 669.5 L847.0 667.8 L849.1 669.5 L851.2 669.1 L853.2 668.5 L855.3 668.6 L857.4 668.9 L859.4 670.1 L861.5 668.9 L863.6 669.8 L865.6 667.7 L867.7 669.4 L869.8 669.2 L871.8 670.1 L873.9 669.7 L876.0 670.2 L878.0 668.9 L880.1 669.6 L882.2 669.2 L884.2 670.0 L886.3 669.9 L888.4 668.8 L890.4 670.2 L892.5 670.8 L894.6 669.5 L896.7 670.5 L898.7 670.1 L900.8 669.3 L902.9 670.4 L904.9 669.4 L907.0 670.5 L909.1 669.2 L911.1 669.3 L913.2 670.4 L915.3 670.3 L917.3 670.7 L919.4 670.1 L921.5 669.6 L923.5 671.2 L925.6 669.8 L927.7 671.3 L929.7 671.1 L931.8 671.7 L933.9 669.4 L935.9 670.8 L938.0 670.8 L940.1 671.5 L942.2 670.5 L944.2 672.6 L946.3 671.4 L948.4 670.2 L950.4 672.0 L952.5 671.9 L954.6 671.7 L956.6 672.8 L958.7 672.4 L960.8 672.1 L962.8 672.7 L964.9 672.9 L967.0 673.6 L969.0 673.6 L971.1 674.2 L973.2 673.8 L975.2 674.8 L977.3 676.0 L979.4 678.0 L981.5 676.7 L983.5 677.3 L985.6 678.9 L987.7 680.1 L989.7 680.1 L991.8 679.3 L993.9 681.0 L995.9 680.9 L998.0 680.7 L1000.1 680.3 L1002.1 681.3 L1004.2 681.5 L1006.3 682.0 L1008.3 680.8 L1010.4 681.4 L1012.5 682.2 L1014.5 683.2 L1016.6 682.9 L1018.7 682.2 L1020.7 683.1 L1022.8 682.2 L1024.9 682.5 L1027.0 682.6 L1029.0 682.4 L1031.1 682.5 L1033.2 683.4 L1035.2 683.1 L1037.3 681.4 L1039.4 683.7 L1041.4 683.2 L1043.5 682.3 L1045.6 683.1 L1047.6 683.5 L1049.7 683.8 L1051.8 682.7 L1053.8 682.4 L1055.9 682.2 L1058.0 683.0 L1060.0 682.4 L1062.1 683.7 L1064.2 683.0 L1066.2 683.5 L1068.3 683.0 L1070.4 682.7 L1072.5 682.5 L1074.5 683.7 L1076.6 682.4 L1078.7 683.4 L1080.7 683.8 L1082.8 683.3 L1084.9 684.1 L1086.9 683.1 L1089.0 683.0" fill="none" stroke="#FB6501" stroke-width="4.2" stroke-linejoin="round"/>
<path d="M261.7 340.4 L263.8 383.7 L265.8 428.9 L267.9 477.0 L270.0 522.1 L272.0 556.7 L274.1 583.4 L276.2 598.8 L278.2 608.6 L280.3 614.4 L282.4 619.9 L284.5 622.9 L286.5 624.4 L288.6 625.5 L290.7 627.1 L292.7 626.9 L294.8 626.3 L296.9 627.4 L298.9 628.1 L301.0 629.5 L303.1 629.3 L305.1 628.6 L307.2 627.2 L309.3 626.7 L311.3 626.5 L313.4 626.2 L315.5 624.7 L317.5 624.9 L319.6 624.4 L321.7 624.0 L323.7 624.7 L325.8 624.9 L327.9 622.3 L330.0 621.7 L332.0 621.8 L334.1 621.3 L336.2 616.7 L338.2 619.8 L340.3 618.1 L342.4 616.4 L344.4 617.3 L346.5 614.5 L348.6 611.2 L350.6 611.2 L352.7 610.5 L354.8 609.4 L356.8 608.8 L358.9 606.4 L361.0 606.7 L363.0 605.7 L365.1 603.7 L367.2 601.3 L369.2 600.7 L371.3 598.8 L373.4 601.0 L375.5 595.2 L377.5 592.1 L379.6 592.0 L381.7 592.6 L383.7 591.6 L385.8 588.3 L387.9 588.2 L389.9 583.9 L392.0 583.5 L394.1 579.1 L396.1 576.1 L398.2 578.1 L400.3 572.2 L402.3 570.8 L404.4 569.0 L406.5 565.2 L408.5 561.9 L410.6 557.6 L412.7 558.3 L414.8 551.9 L416.8 547.5 L418.9 546.1 L421.0 542.4 L423.0 539.1 L425.1 536.1 L427.2 528.9 L429.2 523.7 L431.3 517.2 L433.4 507.8 L435.4 502.7 L437.5 494.9 L439.6 484.5 L441.6 478.8 L443.7 467.8 L445.8 454.9 L447.8 441.7 L449.9 424.3 L452.0 408.3 L454.0 388.1 L456.1 367.3 L458.2 346.0 L460.3 324.5 L462.3 299.9 L464.4 271.5 L466.5 244.4 L468.5 218.1 L470.6 197.0 L472.7 182.1 L474.7 170.8 L476.8 165.9 L478.9 169.2 L480.9 177.2 L483.0 192.8 L485.1 214.7 L487.1 244.2 L489.2 273.3 L491.3 305.1 L493.3 336.3 L495.4 367.1 L497.5 394.9 L499.5 417.3 L501.6 440.0 L503.7 458.7 L505.8 478.5 L507.8 495.1 L509.9 506.9 L512.0 518.6 L514.0 529.0 L516.1 541.9 L518.2 551.3 L520.2 562.4 L522.3 572.7 L524.4 582.5 L526.4 590.9 L528.5 597.2 L530.6 605.8 L532.6 610.4 L534.7 616.2 L536.8 619.9 L538.8 625.4 L540.9 628.8 L543.0 632.7 L545.1 635.0 L547.1 637.4 L549.2 640.7 L551.3 642.4 L553.3 645.1 L555.4 645.7 L557.5 646.9 L559.5 649.0 L561.6 649.0 L563.7 651.7 L565.7 652.3 L567.8 652.6 L569.9 652.6 L571.9 652.8 L574.0 653.3 L576.1 653.8 L578.1 653.8 L580.2 655.0 L582.3 655.9 L584.3 656.3 L586.4 654.6 L588.5 657.7 L590.6 656.7 L592.6 655.9 L594.7 656.8 L596.8 657.8 L598.8 657.5 L600.9 657.2 L603.0 657.2 L605.0 658.7 L607.1 657.9 L609.2 658.3 L611.2 657.9 L613.3 657.9 L615.4 659.2 L617.4 660.1 L619.5 659.2 L621.6 658.5 L623.6 659.2 L625.7 659.6 L627.8 658.3 L629.8 660.4 L631.9 659.2 L634.0 660.1 L636.1 659.7 L638.1 659.6 L640.2 658.7 L642.3 660.1 L644.3 659.7 L646.4 660.3 L648.5 658.9 L650.5 659.3 L652.6 658.5 L654.7 659.2 L656.7 658.4 L658.8 657.2 L660.9 657.7 L662.9 656.8 L665.0 656.6 L667.1 656.8 L669.1 657.3 L671.2 655.4 L673.3 655.7 L675.3 655.0 L677.4 656.7 L679.5 656.2 L681.6 656.3 L683.6 655.4 L685.7 654.0 L687.8 654.1 L689.8 654.3 L691.9 654.1 L694.0 653.7 L696.0 654.3 L698.1 653.8 L700.2 654.0 L702.2 655.6 L704.3 654.7 L706.4 653.8 L708.4 655.1 L710.5 655.3 L712.6 655.8 L714.6 656.0 L716.7 655.3 L718.8 656.5 L720.9 657.3 L722.9 658.9 L725.0 657.8 L727.1 659.0 L729.1 659.4 L731.2 658.3 L733.3 658.8 L735.3 661.0 L737.4 659.8 L739.5 660.6 L741.5 661.9 L743.6 661.5 L745.7 663.5 L747.7 663.9 L749.8 664.6 L751.9 664.9 L753.9 664.3 L756.0 666.2 L758.1 666.6 L760.1 667.0 L762.2 666.9 L764.3 667.8 L766.4 667.7 L768.4 669.3 L770.5 670.2 L772.6 670.4 L774.6 670.7 L776.7 671.9 L778.8 671.7 L780.8 671.3 L782.9 673.3 L785.0 673.4 L787.0 673.0 L789.1 674.6 L791.2 675.1 L793.2 675.6 L795.3 675.0 L797.4 675.3 L799.4 676.1 L801.5 676.3 L803.6 675.8 L805.6 676.4 L807.7 678.0 L809.8 677.4 L811.9 677.5 L813.9 677.3 L816.0 678.0 L818.1 678.4 L820.1 678.3 L822.2 679.1 L824.3 678.0 L826.3 678.4 L828.4 677.7 L830.5 678.7 L832.5 678.3 L834.6 678.6 L836.7 678.7 L838.7 677.6 L840.8 678.3 L842.9 677.7 L844.9 678.7 L847.0 677.9 L849.1 679.0 L851.2 678.2 L853.2 678.2 L855.3 677.5 L857.4 677.8 L859.4 678.0 L861.5 677.3 L863.6 677.7 L865.6 677.4 L867.7 677.3 L869.8 677.7 L871.8 677.8 L873.9 677.3 L876.0 677.7 L878.0 677.1 L880.1 676.6 L882.2 676.7 L884.2 677.3 L886.3 677.8 L888.4 676.9 L890.4 676.8 L892.5 676.0 L894.6 676.8 L896.7 676.6 L898.7 675.9 L900.8 676.5 L902.9 676.2 L904.9 674.9 L907.0 674.9 L909.1 675.3 L911.1 675.4 L913.2 676.0 L915.3 675.0 L917.3 675.1 L919.4 674.9 L921.5 675.2 L923.5 674.8 L925.6 674.8 L927.7 674.4 L929.7 673.6 L931.8 674.2 L933.9 675.4 L935.9 674.9 L938.0 675.3 L940.1 674.8 L942.2 673.9 L944.2 674.0 L946.3 674.7 L948.4 674.2 L950.4 674.8 L952.5 675.3 L954.6 675.4 L956.6 675.1 L958.7 673.7 L960.8 675.5 L962.8 674.0 L964.9 674.0 L967.0 675.1 L969.0 675.3 L971.1 676.0 L973.2 676.1 L975.2 676.2 L977.3 677.2 L979.4 677.2 L981.5 677.7 L983.5 678.9 L985.6 679.5 L987.7 680.3 L989.7 680.6 L991.8 682.0 L993.9 681.4 L995.9 681.8 L998.0 682.6 L1000.1 681.0 L1002.1 683.1 L1004.2 683.2 L1006.3 682.7 L1008.3 684.3 L1010.4 683.7 L1012.5 684.3 L1014.5 684.1 L1016.6 683.7 L1018.7 683.5 L1020.7 683.1 L1022.8 683.4 L1024.9 683.2 L1027.0 683.5 L1029.0 684.2 L1031.1 683.2 L1033.2 684.2 L1035.2 684.2 L1037.3 682.9 L1039.4 683.4 L1041.4 683.7 L1043.5 683.4 L1045.6 683.3 L1047.6 684.7 L1049.7 683.9 L1051.8 684.5 L1053.8 683.7 L1055.9 684.2 L1058.0 683.0 L1060.0 683.5 L1062.1 684.3 L1064.2 683.8 L1066.2 684.5 L1068.3 683.7 L1070.4 683.4 L1072.5 683.6 L1074.5 685.0 L1076.6 684.0 L1078.7 683.4 L1080.7 683.6 L1082.8 683.0 L1084.9 684.6 L1086.9 683.4 L1089.0 684.2" fill="none" stroke="#6699CC" stroke-width="4.2" stroke-linejoin="round"/>
<rect x="261.7" y="69.0" width="827.3" height="668.0" fill="none" stroke="#000" stroke-width="7.5"/>
<line x1="260.0" y1="1508.0" x2="274.5" y2="1508.0" stroke="#000" stroke-width="7" stroke-linecap="butt"/>
<text x="251.5" y="1525.3" font-size="56" text-anchor="end" >0</text>
<line x1="260.0" y1="1387.0" x2="274.5" y2="1387.0" stroke="#000" stroke-width="7" stroke-linecap="butt"/>
<text x="249.0" y="1404.3" font-size="56" text-anchor="end" >0.1</text>
<line x1="260.0" y1="1266.0" x2="274.5" y2="1266.0" stroke="#000" stroke-width="7" stroke-linecap="butt"/>
<text x="249.0" y="1283.3" font-size="56" text-anchor="end" >0.2</text>
<line x1="260.0" y1="1145.0" x2="274.5" y2="1145.0" stroke="#000" stroke-width="7" stroke-linecap="butt"/>
<text x="249.0" y="1162.3" font-size="56" text-anchor="end" >0.3</text>
<line x1="260.0" y1="1024.0" x2="274.5" y2="1024.0" stroke="#000" stroke-width="7" stroke-linecap="butt"/>
<text x="249.0" y="1041.3" font-size="56" text-anchor="end" >0.4</text>
<line x1="260.0" y1="903.0" x2="274.5" y2="903.0" stroke="#000" stroke-width="7" stroke-linecap="butt"/>
<text x="249.0" y="920.3" font-size="56" text-anchor="end" >0.5</text>
<line x1="265.5" y1="1568.5" x2="274.5" y2="1568.5" stroke="#000" stroke-width="7" stroke-linecap="butt"/>
<line x1="265.5" y1="1447.5" x2="274.5" y2="1447.5" stroke="#000" stroke-width="7" stroke-linecap="butt"/>
<line x1="265.5" y1="1326.5" x2="274.5" y2="1326.5" stroke="#000" stroke-width="7" stroke-linecap="butt"/>
<line x1="265.5" y1="1205.5" x2="274.5" y2="1205.5" stroke="#000" stroke-width="7" stroke-linecap="butt"/>
<line x1="265.5" y1="1084.5" x2="274.5" y2="1084.5" stroke="#000" stroke-width="7" stroke-linecap="butt"/>
<line x1="265.5" y1="963.5" x2="274.5" y2="963.5" stroke="#000" stroke-width="7" stroke-linecap="butt"/>
<line x1="274.5" y1="1568.5" x2="274.5" y2="1581.5" stroke="#000" stroke-width="7" stroke-linecap="butt"/>
<text x="274.5" y="1634.5" font-size="56" text-anchor="middle" >300</text>
<line x1="481.4" y1="1568.5" x2="481.4" y2="1581.5" stroke="#000" stroke-width="7" stroke-linecap="butt"/>
<text x="481.4" y="1634.5" font-size="56" text-anchor="middle" >400</text>
<line x1="688.4" y1="1568.5" x2="688.4" y2="1581.5" stroke="#000" stroke-width="7" stroke-linecap="butt"/>
<text x="688.4" y="1634.5" font-size="56" text-anchor="middle" >500</text>
<line x1="895.3" y1="1568.5" x2="895.3" y2="1581.5" stroke="#000" stroke-width="7" stroke-linecap="butt"/>
<text x="895.3" y="1634.5" font-size="56" text-anchor="middle" >600</text>
<line x1="1102.2" y1="1568.5" x2="1102.2" y2="1581.5" stroke="#000" stroke-width="7" stroke-linecap="butt"/>
<text x="1102.2" y="1634.5" font-size="56" text-anchor="middle" >700</text>
<line x1="378.0" y1="1568.5" x2="378.0" y2="1576.5" stroke="#000" stroke-width="7" stroke-linecap="butt"/>
<line x1="584.9" y1="1568.5" x2="584.9" y2="1576.5" stroke="#000" stroke-width="7" stroke-linecap="butt"/>
<line x1="791.8" y1="1568.5" x2="791.8" y2="1576.5" stroke="#000" stroke-width="7" stroke-linecap="butt"/>
<line x1="998.7" y1="1568.5" x2="998.7" y2="1576.5" stroke="#000" stroke-width="7" stroke-linecap="butt"/>
<path d="M289.0 1372.7 L291.1 1373.5 L293.1 1373.2 L295.2 1370.6 L297.3 1367.6 L299.3 1364.1 L301.4 1361.3 L303.5 1359.2 L305.5 1360.5 L307.6 1354.8 L309.7 1350.8 L311.7 1347.7 L313.8 1344.1 L315.9 1341.1 L318.0 1333.9 L320.0 1330.6 L322.1 1330.2 L324.2 1329.1 L326.2 1322.0 L328.3 1324.1 L330.4 1319.3 L332.4 1316.1 L334.5 1318.5 L336.6 1314.0 L338.6 1312.2 L340.7 1307.6 L342.8 1304.6 L344.9 1298.7 L346.9 1297.9 L349.0 1296.3 L351.1 1292.2 L353.1 1292.2 L355.2 1290.3 L357.3 1284.2 L359.3 1287.1 L361.4 1284.7 L363.5 1282.0 L365.5 1281.8 L367.6 1281.6 L369.7 1274.5 L371.8 1275.5 L373.8 1273.1 L375.9 1270.8 L378.0 1269.8 L380.0 1268.0 L382.1 1264.2 L384.2 1258.9 L386.2 1259.9 L388.3 1258.4 L390.4 1260.5 L392.4 1256.8 L394.5 1257.3 L396.6 1252.9 L398.7 1253.1 L400.7 1251.5 L402.8 1250.6 L404.9 1250.4 L406.9 1250.8 L409.0 1246.3 L411.1 1248.0 L413.1 1246.0 L415.2 1242.3 L417.3 1240.0 L419.3 1235.2 L421.4 1230.6 L423.5 1228.4 L425.6 1224.8 L427.6 1221.2 L429.7 1215.9 L431.8 1216.2 L433.8 1208.4 L435.9 1206.1 L438.0 1202.2 L440.0 1195.9 L442.1 1192.3 L444.2 1186.6 L446.2 1181.8 L448.3 1183.4 L450.4 1176.1 L452.5 1169.0 L454.5 1167.0 L456.6 1162.8 L458.7 1162.3 L460.7 1163.1 L462.8 1161.3 L464.9 1157.7 L466.9 1156.7 L469.0 1157.7 L471.1 1157.5 L473.1 1157.5 L475.2 1159.7 L477.3 1159.5 L479.4 1159.5 L481.4 1161.9 L483.5 1166.9 L485.6 1169.3 L487.6 1175.7 L489.7 1181.1 L491.8 1188.2 L493.8 1192.5 L495.9 1200.7 L498.0 1206.3 L500.0 1215.9 L502.1 1224.9 L504.2 1235.6 L506.3 1242.2 L508.3 1252.0 L510.4 1260.2 L512.5 1270.0 L514.5 1275.9 L516.6 1283.7 L518.7 1292.3 L520.7 1298.8 L522.8 1305.4 L524.9 1311.5 L526.9 1318.3 L529.0 1322.8 L531.1 1329.1 L533.2 1333.7 L535.2 1337.6 L537.3 1342.7 L539.4 1344.8 L541.4 1346.7 L543.5 1350.2 L545.6 1353.9 L547.6 1355.8 L549.7 1360.2 L551.8 1361.6 L553.8 1363.5 L555.9 1365.7 L558.0 1369.1 L560.1 1370.1 L562.1 1371.6 L564.2 1375.4 L566.3 1376.6 L568.3 1380.3 L570.4 1382.5 L572.5 1382.5 L574.5 1384.7 L576.6 1386.3 L578.7 1388.6 L580.7 1390.1 L582.8 1391.0 L584.9 1392.0 L587.0 1395.1 L589.0 1397.8 L591.1 1397.4 L593.2 1399.6 L595.2 1401.2 L597.3 1403.3 L599.4 1403.5 L601.4 1406.8 L603.5 1408.2 L605.6 1411.6 L607.6 1412.4 L609.7 1414.1 L611.8 1415.3 L613.9 1416.6 L615.9 1419.0 L618.0 1418.8 L620.1 1422.4 L622.1 1423.5 L624.2 1424.6 L626.3 1427.2 L628.3 1427.4 L630.4 1428.9 L632.5 1431.0 L634.5 1430.9 L636.6 1433.7 L638.7 1434.9 L640.8 1437.2 L642.8 1439.1 L644.9 1439.6 L647.0 1440.7 L649.0 1442.1 L651.1 1442.5 L653.2 1446.0 L655.2 1446.3 L657.3 1448.0 L659.4 1446.9 L661.4 1449.5 L663.5 1450.6 L665.6 1452.1 L667.7 1451.7 L669.7 1453.7 L671.8 1454.4 L673.9 1457.1 L675.9 1455.8 L678.0 1457.3 L680.1 1458.2 L682.1 1458.6 L684.2 1460.6 L686.3 1461.4 L688.4 1461.5 L690.4 1462.5 L692.5 1463.7 L694.6 1464.1 L696.6 1465.2 L698.7 1464.9 L700.8 1465.3 L702.8 1466.5 L704.9 1465.7 L707.0 1468.7 L709.0 1468.3 L711.1 1467.3 L713.2 1469.4 L715.3 1470.7 L717.3 1468.9 L719.4 1470.0 L721.5 1471.6 L723.5 1470.6 L725.6 1472.3 L727.7 1472.9 L729.7 1472.4 L731.8 1473.1 L733.9 1473.9 L735.9 1473.7 L738.0 1474.5 L740.1 1474.1 L742.2 1474.5 L744.2 1474.4 L746.3 1475.7 L748.4 1476.7 L750.4 1477.2 L752.5 1476.8 L754.6 1475.9 L756.6 1476.8 L758.7 1478.3 L760.8 1477.5 L762.8 1479.3 L764.9 1477.9 L767.0 1479.1 L769.1 1478.4 L771.1 1478.5 L773.2 1479.1 L775.3 1478.5 L777.3 1479.2 L779.4 1478.2 L781.5 1476.9 L783.5 1474.3 L785.6 1476.2 L787.7 1476.2 L789.7 1476.5 L791.8 1474.6 L793.9 1476.1 L796.0 1475.0 L798.0 1473.7 L800.1 1474.3 L802.2 1471.7 L804.2 1471.5 L806.3 1472.1 L808.4 1471.5 L810.4 1471.6 L812.5 1471.1 L814.6 1469.3 L816.6 1468.7 L818.7 1468.5 L820.8 1468.2 L822.9 1468.5 L824.9 1467.6 L827.0 1468.7 L829.1 1467.4 L831.1 1466.1 L833.2 1466.0 L835.3 1467.1 L837.3 1466.8 L839.4 1465.3 L841.5 1464.9 L843.5 1467.1 L845.6 1466.2 L847.7 1465.6 L849.8 1464.9 L851.8 1466.3 L853.9 1465.2 L856.0 1465.9 L858.0 1464.0 L860.1 1465.5 L862.2 1466.0 L864.2 1466.3 L866.3 1465.4 L868.4 1465.8 L870.4 1467.3 L872.5 1466.5 L874.6 1467.9 L876.7 1467.7 L878.7 1468.3 L880.8 1468.6 L882.9 1468.3 L884.9 1468.8 L887.0 1467.9 L889.1 1468.0 L891.1 1469.0 L893.2 1469.9 L895.3 1468.7 L897.3 1471.0 L899.4 1471.2 L901.5 1469.5 L903.6 1469.9 L905.6 1469.9 L907.7 1471.1 L909.8 1472.2 L911.8 1471.9 L913.9 1471.5 L916.0 1472.8 L918.0 1473.1 L920.1 1474.0 L922.2 1474.2 L924.2 1473.1 L926.3 1473.8 L928.4 1475.4 L930.5 1475.8 L932.5 1475.9 L934.6 1475.6 L936.7 1477.4 L938.7 1477.2 L940.8 1479.2 L942.9 1479.2 L944.9 1478.5 L947.0 1478.8 L949.1 1481.0 L951.1 1481.3 L953.2 1480.8 L955.3 1482.4 L957.4 1483.2 L959.4 1483.2 L961.5 1484.3 L963.6 1484.4 L965.6 1485.5 L967.7 1487.4 L969.8 1487.9 L971.8 1488.7 L973.9 1490.5 L976.0 1491.0 L978.0 1490.4 L980.1 1493.0 L982.2 1492.0 L984.3 1493.4 L986.3 1494.6 L988.4 1494.9 L990.5 1495.8 L992.5 1496.0 L994.6 1497.8 L996.7 1498.2 L998.7 1498.5 L1000.8 1497.2 L1002.9 1498.2 L1004.9 1499.8 L1007.0 1499.6 L1009.1 1500.0 L1011.2 1499.7 L1013.2 1499.7 L1015.3 1498.4 L1017.4 1501.5 L1019.4 1499.6 L1021.5 1500.1 L1023.6 1501.0 L1025.6 1500.7 L1027.7 1501.1 L1029.8 1500.7 L1031.8 1500.1 L1033.9 1502.0 L1036.0 1500.0 L1038.1 1501.3 L1040.1 1500.0 L1042.2 1500.8 L1044.3 1500.3 L1046.3 1500.8 L1048.4 1500.5 L1050.5 1501.3 L1052.5 1502.0 L1054.6 1500.9 L1056.7 1500.9 L1058.7 1500.0 L1060.8 1503.0 L1062.9 1501.7 L1065.0 1500.9 L1067.0 1502.6 L1069.1 1501.9 L1071.2 1500.2 L1073.2 1500.7 L1075.3 1502.4 L1077.4 1500.8 L1079.4 1501.0 L1081.5 1501.3 L1083.6 1501.6 L1085.6 1501.7 L1087.7 1502.5 L1089.8 1502.3 L1091.9 1501.4 L1093.9 1501.9 L1096.0 1500.6 L1098.1 1502.2 L1100.1 1503.7 L1102.2 1502.2" fill="none" stroke="#515151" stroke-width="4.2" stroke-linejoin="round"/>
<path d="M297.3 1395.4 L299.3 1393.7 L301.4 1393.6 L303.5 1390.7 L305.5 1390.7 L307.6 1389.8 L309.7 1383.9 L311.7 1385.9 L313.8 1383.6 L315.9 1382.7 L318.0 1379.7 L320.0 1375.2 L322.1 1373.5 L324.2 1372.8 L326.2 1372.5 L328.3 1368.9 L330.4 1371.4 L332.4 1367.7 L334.5 1366.0 L336.6 1365.1 L338.6 1361.5 L340.7 1360.5 L342.8 1358.4 L344.9 1351.9 L346.9 1351.3 L349.0 1348.6 L351.1 1348.5 L353.1 1345.2 L355.2 1343.7 L357.3 1341.3 L359.3 1337.9 L361.4 1340.4 L363.5 1338.1 L365.5 1337.0 L367.6 1340.9 L369.7 1335.9 L371.8 1331.9 L373.8 1329.2 L375.9 1329.5 L378.0 1325.0 L380.0 1323.0 L382.1 1324.0 L384.2 1319.4 L386.2 1317.2 L388.3 1317.7 L390.4 1318.4 L392.4 1312.8 L394.5 1313.8 L396.6 1312.5 L398.7 1310.1 L400.7 1309.4 L402.8 1305.1 L404.9 1303.8 L406.9 1301.3 L409.0 1300.3 L411.1 1300.3 L413.1 1296.9 L415.2 1292.5 L417.3 1291.3 L419.3 1282.4 L421.4 1283.8 L423.5 1280.5 L425.6 1273.7 L427.6 1270.1 L429.7 1267.0 L431.8 1262.8 L433.8 1257.0 L435.9 1251.3 L438.0 1244.4 L440.0 1239.1 L442.1 1230.9 L444.2 1223.1 L446.2 1216.2 L448.3 1215.4 L450.4 1205.0 L452.5 1197.8 L454.5 1189.9 L456.6 1182.6 L458.7 1175.3 L460.7 1170.6 L462.8 1166.9 L464.9 1162.1 L466.9 1157.1 L469.0 1155.4 L471.1 1151.5 L473.1 1147.6 L475.2 1145.9 L477.3 1145.5 L479.4 1142.3 L481.4 1143.0 L483.5 1143.8 L485.6 1145.0 L487.6 1148.8 L489.7 1153.4 L491.8 1157.9 L493.8 1164.6 L495.9 1172.4 L498.0 1181.1 L500.0 1191.7 L502.1 1204.3 L504.2 1217.3 L506.3 1229.9 L508.3 1242.1 L510.4 1253.8 L512.5 1263.3 L514.5 1275.7 L516.6 1286.6 L518.7 1297.2 L520.7 1306.9 L522.8 1316.4 L524.9 1325.4 L526.9 1334.7 L529.0 1341.7 L531.1 1350.4 L533.2 1355.9 L535.2 1363.5 L537.3 1367.9 L539.4 1370.9 L541.4 1375.7 L543.5 1379.6 L545.6 1382.1 L547.6 1386.1 L549.7 1388.1 L551.8 1392.4 L553.8 1393.6 L555.9 1396.1 L558.0 1397.4 L560.1 1399.3 L562.1 1402.5 L564.2 1402.5 L566.3 1405.8 L568.3 1408.6 L570.4 1410.4 L572.5 1409.0 L574.5 1411.7 L576.6 1413.5 L578.7 1414.9 L580.7 1416.5 L582.8 1416.0 L584.9 1418.3 L587.0 1418.1 L589.0 1420.8 L591.1 1423.7 L593.2 1422.6 L595.2 1424.8 L597.3 1426.0 L599.4 1425.9 L601.4 1428.5 L603.5 1428.7 L605.6 1430.8 L607.6 1432.5 L609.7 1432.8 L611.8 1434.8 L613.9 1434.6 L615.9 1435.9 L618.0 1437.7 L620.1 1438.4 L622.1 1439.5 L624.2 1441.2 L626.3 1441.4 L628.3 1444.1 L630.4 1445.2 L632.5 1448.1 L634.5 1449.0 L636.6 1450.4 L638.7 1452.8 L640.8 1454.0 L642.8 1455.5 L644.9 1455.9 L647.0 1458.3 L649.0 1458.7 L651.1 1459.1 L653.2 1461.1 L655.2 1463.6 L657.3 1463.4 L659.4 1463.7 L661.4 1465.6 L663.5 1465.5 L665.6 1466.7 L667.7 1467.6 L669.7 1468.5 L671.8 1469.0 L673.9 1469.2 L675.9 1469.3 L678.0 1469.3 L680.1 1469.7 L682.1 1470.5 L684.2 1470.5 L686.3 1470.5 L688.4 1472.2 L690.4 1471.8 L692.5 1472.0 L694.6 1471.8 L696.6 1472.0 L698.7 1472.2 L700.8 1472.9 L702.8 1472.1 L704.9 1472.7 L707.0 1474.4 L709.0 1473.5 L711.1 1474.7 L713.2 1473.0 L715.3 1474.9 L717.3 1475.2 L719.4 1475.2 L721.5 1475.8 L723.5 1476.0 L725.6 1475.2 L727.7 1476.5 L729.7 1476.4 L731.8 1476.5 L733.9 1478.4 L735.9 1476.8 L738.0 1477.8 L740.1 1478.0 L742.2 1479.7 L744.2 1478.8 L746.3 1479.5 L748.4 1480.6 L750.4 1479.0 L752.5 1480.6 L754.6 1481.6 L756.6 1481.7 L758.7 1481.5 L760.8 1481.7 L762.8 1482.5 L764.9 1482.3 L767.0 1482.5 L769.1 1484.7 L771.1 1484.4 L773.2 1484.9 L775.3 1484.3 L777.3 1483.5 L779.4 1484.2 L781.5 1485.5 L783.5 1485.0 L785.6 1484.2 L787.7 1485.4 L789.7 1485.1 L791.8 1484.9 L793.9 1486.5 L796.0 1484.7 L798.0 1485.0 L800.1 1484.9 L802.2 1486.0 L804.2 1485.8 L806.3 1485.6 L808.4 1484.9 L810.4 1484.9 L812.5 1484.7 L814.6 1483.4 L816.6 1483.6 L818.7 1485.0 L820.8 1484.8 L822.9 1483.1 L824.9 1484.5 L827.0 1483.2 L829.1 1483.0 L831.1 1484.5 L833.2 1484.3 L835.3 1484.0 L837.3 1484.6 L839.4 1484.7 L841.5 1484.2 L843.5 1483.3 L845.6 1484.2 L847.7 1484.0 L849.8 1484.1 L851.8 1484.8 L853.9 1482.7 L856.0 1485.5 L858.0 1484.3 L860.1 1483.4 L862.2 1484.9 L864.2 1483.5 L866.3 1483.1 L868.4 1484.7 L870.4 1484.0 L872.5 1485.0 L874.6 1483.9 L876.7 1484.3 L878.7 1484.3 L880.8 1483.6 L882.9 1484.3 L884.9 1483.8 L887.0 1484.4 L889.1 1485.8 L891.1 1484.9 L893.2 1484.8 L895.3 1486.3 L897.3 1484.4 L899.4 1485.4 L901.5 1485.2 L903.6 1486.2 L905.6 1485.6 L907.7 1485.5 L909.8 1486.0 L911.8 1485.8 L913.9 1487.5 L916.0 1485.1 L918.0 1486.9 L920.1 1487.8 L922.2 1487.0 L924.2 1487.0 L926.3 1486.2 L928.4 1487.4 L930.5 1486.6 L932.5 1487.7 L934.6 1485.6 L936.7 1487.0 L938.7 1486.2 L940.8 1488.6 L942.9 1487.7 L944.9 1489.2 L947.0 1488.4 L949.1 1488.6 L951.1 1490.6 L953.2 1490.7 L955.3 1491.1 L957.4 1491.7 L959.4 1491.6 L961.5 1492.2 L963.6 1493.1 L965.6 1492.4 L967.7 1492.6 L969.8 1494.4 L971.8 1494.4 L973.9 1494.5 L976.0 1495.1 L978.0 1495.9 L980.1 1495.3 L982.2 1495.8 L984.3 1496.5 L986.3 1497.8 L988.4 1496.8 L990.5 1497.6 L992.5 1499.7 L994.6 1500.0 L996.7 1499.6 L998.7 1501.4 L1000.8 1500.9 L1002.9 1501.5 L1004.9 1502.4 L1007.0 1502.3 L1009.1 1503.6 L1011.2 1503.0 L1013.2 1504.3 L1015.3 1501.4 L1017.4 1502.1 L1019.4 1502.5 L1021.5 1503.3 L1023.6 1502.9 L1025.6 1502.9 L1027.7 1503.2 L1029.8 1503.4 L1031.8 1504.8 L1033.9 1503.9 L1036.0 1504.7 L1038.1 1505.3 L1040.1 1505.3 L1042.2 1504.2 L1044.3 1503.8 L1046.3 1505.7 L1048.4 1503.5 L1050.5 1503.7 L1052.5 1505.1 L1054.6 1505.2 L1056.7 1505.0 L1058.7 1504.3 L1060.8 1505.3 L1062.9 1505.9 L1065.0 1504.9 L1067.0 1506.7 L1069.1 1505.1 L1071.2 1504.4 L1073.2 1505.1 L1075.3 1504.8 L1077.4 1505.0 L1079.4 1504.9 L1081.5 1505.3 L1083.6 1506.1 L1085.6 1505.7 L1087.7 1505.6 L1089.8 1504.6 L1091.9 1504.4 L1093.9 1505.3 L1096.0 1506.1 L1098.1 1506.1 L1100.1 1505.7 L1102.2 1504.6" fill="none" stroke="#F14040" stroke-width="4.2" stroke-linejoin="round"/>
<path d="M303.5 1407.1 L305.5 1405.4 L307.6 1405.6 L309.7 1402.2 L311.7 1401.8 L313.8 1399.4 L315.9 1397.3 L318.0 1401.8 L320.0 1394.7 L322.1 1396.8 L324.2 1392.5 L326.2 1393.0 L328.3 1390.4 L330.4 1387.3 L332.4 1391.0 L334.5 1386.6 L336.6 1385.5 L338.6 1386.7 L340.7 1380.8 L342.8 1379.9 L344.9 1378.8 L346.9 1377.2 L349.0 1369.1 L351.1 1373.2 L353.1 1373.7 L355.2 1370.7 L357.3 1368.3 L359.3 1366.8 L361.4 1364.9 L363.5 1365.0 L365.5 1361.0 L367.6 1361.1 L369.7 1361.0 L371.8 1358.6 L373.8 1356.4 L375.9 1352.8 L378.0 1351.8 L380.0 1351.4 L382.1 1349.2 L384.2 1347.2 L386.2 1342.7 L388.3 1345.2 L390.4 1341.8 L392.4 1339.7 L394.5 1340.7 L396.6 1337.1 L398.7 1335.2 L400.7 1334.3 L402.8 1330.7 L404.9 1327.9 L406.9 1325.5 L409.0 1325.3 L411.1 1322.2 L413.1 1316.0 L415.2 1318.5 L417.3 1313.0 L419.3 1308.3 L421.4 1305.7 L423.5 1300.9 L425.6 1297.5 L427.6 1292.2 L429.7 1286.8 L431.8 1284.4 L433.8 1278.7 L435.9 1273.9 L438.0 1268.7 L440.0 1262.3 L442.1 1258.0 L444.2 1248.8 L446.2 1240.8 L448.3 1234.1 L450.4 1227.8 L452.5 1223.9 L454.5 1212.1 L456.6 1207.5 L458.7 1198.0 L460.7 1186.5 L462.8 1182.0 L464.9 1169.8 L466.9 1160.1 L469.0 1150.4 L471.1 1140.8 L473.1 1129.5 L475.2 1120.7 L477.3 1111.1 L479.4 1103.4 L481.4 1099.9 L483.5 1095.4 L485.6 1093.5 L487.6 1094.7 L489.7 1096.4 L491.8 1099.4 L493.8 1105.4 L495.9 1114.9 L498.0 1125.6 L500.0 1140.5 L502.1 1160.8 L504.2 1181.3 L506.3 1200.6 L508.3 1220.2 L510.4 1240.9 L512.5 1258.3 L514.5 1273.7 L516.6 1290.7 L518.7 1304.5 L520.7 1317.6 L522.8 1328.8 L524.9 1342.0 L526.9 1352.0 L529.0 1360.9 L531.1 1367.9 L533.2 1376.2 L535.2 1384.1 L537.3 1388.7 L539.4 1394.0 L541.4 1399.3 L543.5 1403.3 L545.6 1406.3 L547.6 1409.0 L549.7 1412.6 L551.8 1415.0 L553.8 1417.8 L555.9 1420.4 L558.0 1422.9 L560.1 1424.0 L562.1 1426.2 L564.2 1427.7 L566.3 1428.3 L568.3 1430.0 L570.4 1431.0 L572.5 1434.0 L574.5 1433.6 L576.6 1435.5 L578.7 1436.8 L580.7 1437.8 L582.8 1437.2 L584.9 1438.4 L587.0 1440.5 L589.0 1441.7 L591.1 1441.7 L593.2 1443.0 L595.2 1442.3 L597.3 1445.5 L599.4 1446.6 L601.4 1446.4 L603.5 1447.0 L605.6 1447.8 L607.6 1448.1 L609.7 1448.0 L611.8 1450.5 L613.9 1451.4 L615.9 1453.0 L618.0 1452.3 L620.1 1452.5 L622.1 1454.0 L624.2 1453.7 L626.3 1455.2 L628.3 1455.2 L630.4 1457.1 L632.5 1459.1 L634.5 1459.8 L636.6 1461.4 L638.7 1462.5 L640.8 1461.9 L642.8 1462.3 L644.9 1462.3 L647.0 1464.6 L649.0 1465.4 L651.1 1466.8 L653.2 1466.0 L655.2 1467.0 L657.3 1468.4 L659.4 1468.0 L661.4 1468.6 L663.5 1470.9 L665.6 1469.5 L667.7 1470.4 L669.7 1471.0 L671.8 1471.3 L673.9 1470.0 L675.9 1470.4 L678.0 1470.4 L680.1 1472.8 L682.1 1472.6 L684.2 1471.6 L686.3 1473.3 L688.4 1473.0 L690.4 1473.9 L692.5 1471.4 L694.6 1472.1 L696.6 1472.7 L698.7 1473.0 L700.8 1473.7 L702.8 1473.9 L704.9 1473.4 L707.0 1474.7 L709.0 1473.5 L711.1 1475.1 L713.2 1475.7 L715.3 1474.5 L717.3 1475.9 L719.4 1475.7 L721.5 1476.8 L723.5 1478.4 L725.6 1476.8 L727.7 1478.5 L729.7 1477.0 L731.8 1479.3 L733.9 1479.8 L735.9 1478.6 L738.0 1478.8 L740.1 1479.4 L742.2 1480.7 L744.2 1479.6 L746.3 1481.7 L748.4 1481.3 L750.4 1482.0 L752.5 1482.1 L754.6 1481.6 L756.6 1483.0 L758.7 1482.5 L760.8 1482.8 L762.8 1484.9 L764.9 1484.9 L767.0 1484.6 L769.1 1485.1 L771.1 1484.7 L773.2 1486.5 L775.3 1484.8 L777.3 1485.0 L779.4 1485.9 L781.5 1486.9 L783.5 1486.1 L785.6 1486.7 L787.7 1486.0 L789.7 1486.7 L791.8 1486.3 L793.9 1487.3 L796.0 1486.1 L798.0 1488.9 L800.1 1488.0 L802.2 1487.0 L804.2 1488.5 L806.3 1486.9 L808.4 1488.3 L810.4 1487.3 L812.5 1488.0 L814.6 1487.5 L816.6 1487.0 L818.7 1487.2 L820.8 1487.3 L822.9 1485.5 L824.9 1487.0 L827.0 1487.7 L829.1 1486.3 L831.1 1486.4 L833.2 1486.1 L835.3 1485.6 L837.3 1487.6 L839.4 1486.1 L841.5 1486.1 L843.5 1486.9 L845.6 1486.7 L847.7 1489.0 L849.8 1487.2 L851.8 1485.5 L853.9 1488.1 L856.0 1487.2 L858.0 1486.6 L860.1 1486.4 L862.2 1485.7 L864.2 1488.2 L866.3 1486.9 L868.4 1486.4 L870.4 1488.0 L872.5 1487.2 L874.6 1485.8 L876.7 1486.3 L878.7 1486.9 L880.8 1489.3 L882.9 1487.6 L884.9 1487.3 L887.0 1487.8 L889.1 1487.7 L891.1 1485.5 L893.2 1488.0 L895.3 1488.6 L897.3 1487.8 L899.4 1488.3 L901.5 1488.3 L903.6 1488.2 L905.6 1487.6 L907.7 1488.0 L909.8 1489.1 L911.8 1488.4 L913.9 1488.0 L916.0 1488.7 L918.0 1487.6 L920.1 1487.9 L922.2 1489.2 L924.2 1488.3 L926.3 1487.2 L928.4 1487.6 L930.5 1488.9 L932.5 1488.3 L934.6 1489.6 L936.7 1490.3 L938.7 1489.0 L940.8 1489.4 L942.9 1489.5 L944.9 1490.1 L947.0 1490.1 L949.1 1491.0 L951.1 1490.6 L953.2 1490.6 L955.3 1491.6 L957.4 1491.4 L959.4 1493.6 L961.5 1493.3 L963.6 1492.1 L965.6 1492.3 L967.7 1493.8 L969.8 1494.5 L971.8 1495.8 L973.9 1495.0 L976.0 1495.2 L978.0 1497.2 L980.1 1496.2 L982.2 1496.7 L984.3 1497.3 L986.3 1499.0 L988.4 1498.3 L990.5 1500.4 L992.5 1498.8 L994.6 1500.3 L996.7 1501.7 L998.7 1500.3 L1000.8 1500.8 L1002.9 1502.5 L1004.9 1500.8 L1007.0 1503.4 L1009.1 1502.7 L1011.2 1502.3 L1013.2 1505.0 L1015.3 1502.8 L1017.4 1503.8 L1019.4 1503.9 L1021.5 1504.8 L1023.6 1504.0 L1025.6 1505.2 L1027.7 1505.2 L1029.8 1504.9 L1031.8 1505.6 L1033.9 1503.7 L1036.0 1505.9 L1038.1 1505.5 L1040.1 1505.3 L1042.2 1505.1 L1044.3 1504.6 L1046.3 1504.7 L1048.4 1505.5 L1050.5 1505.7 L1052.5 1505.4 L1054.6 1504.9 L1056.7 1505.0 L1058.7 1506.0 L1060.8 1507.1 L1062.9 1504.1 L1065.0 1505.0 L1067.0 1505.6 L1069.1 1505.6 L1071.2 1506.2 L1073.2 1506.6 L1075.3 1506.2 L1077.4 1506.1 L1079.4 1506.5 L1081.5 1507.1 L1083.6 1506.3 L1085.6 1505.7 L1087.7 1506.5 L1089.8 1506.1 L1091.9 1507.7 L1093.9 1506.3 L1096.0 1506.3 L1098.1 1507.1 L1100.1 1507.4 L1102.2 1505.9" fill="none" stroke="#1A6FDF" stroke-width="4.2" stroke-linejoin="round"/>
<path d="M274.5 1192.8 L276.6 1243.6 L278.6 1289.3 L280.7 1328.2 L282.8 1361.2 L284.8 1386.7 L286.9 1403.2 L289.0 1414.3 L291.1 1420.3 L293.1 1425.2 L295.2 1428.4 L297.3 1429.9 L299.3 1431.0 L301.4 1431.5 L303.5 1431.8 L305.5 1433.3 L307.6 1433.1 L309.7 1433.1 L311.7 1433.8 L313.8 1434.2 L315.9 1433.8 L318.0 1429.8 L320.0 1433.3 L322.1 1433.3 L324.2 1433.1 L326.2 1432.2 L328.3 1431.3 L330.4 1433.0 L332.4 1433.6 L334.5 1429.1 L336.6 1431.3 L338.6 1427.3 L340.7 1426.5 L342.8 1423.8 L344.9 1421.8 L346.9 1422.6 L349.0 1422.7 L351.1 1422.4 L353.1 1420.4 L355.2 1417.7 L357.3 1419.8 L359.3 1415.2 L361.4 1414.1 L363.5 1411.9 L365.5 1412.3 L367.6 1410.4 L369.7 1410.6 L371.8 1408.9 L373.8 1409.7 L375.9 1405.3 L378.0 1401.6 L380.0 1402.3 L382.1 1400.4 L384.2 1401.0 L386.2 1395.4 L388.3 1397.2 L390.4 1392.9 L392.4 1392.1 L394.5 1391.8 L396.6 1386.6 L398.7 1386.0 L400.7 1383.4 L402.8 1380.4 L404.9 1378.5 L406.9 1376.1 L409.0 1371.7 L411.1 1369.9 L413.1 1365.9 L415.2 1363.6 L417.3 1361.2 L419.3 1356.1 L421.4 1351.7 L423.5 1346.6 L425.6 1340.2 L427.6 1340.1 L429.7 1332.3 L431.8 1330.9 L433.8 1323.6 L435.9 1316.9 L438.0 1310.0 L440.0 1299.5 L442.1 1286.3 L444.2 1276.3 L446.2 1266.2 L448.3 1256.7 L450.4 1241.4 L452.5 1234.2 L454.5 1224.3 L456.6 1209.1 L458.7 1199.8 L460.7 1190.9 L462.8 1177.9 L464.9 1169.4 L466.9 1159.6 L469.0 1150.6 L471.1 1142.1 L473.1 1131.1 L475.2 1123.0 L477.3 1116.0 L479.4 1108.9 L481.4 1102.8 L483.5 1100.4 L485.6 1098.8 L487.6 1099.2 L489.7 1101.5 L491.8 1106.8 L493.8 1111.0 L495.9 1119.2 L498.0 1130.5 L500.0 1145.1 L502.1 1164.3 L504.2 1183.9 L506.3 1203.6 L508.3 1221.5 L510.4 1237.2 L512.5 1254.6 L514.5 1273.0 L516.6 1290.0 L518.7 1307.9 L520.7 1325.3 L522.8 1339.5 L524.9 1355.1 L526.9 1369.7 L529.0 1384.4 L531.1 1397.4 L533.2 1410.8 L535.2 1420.7 L537.3 1428.1 L539.4 1435.1 L541.4 1442.0 L543.5 1446.4 L545.6 1450.5 L547.6 1454.3 L549.7 1456.7 L551.8 1458.9 L553.8 1460.6 L555.9 1463.3 L558.0 1465.4 L560.1 1467.1 L562.1 1468.4 L564.2 1470.8 L566.3 1470.9 L568.3 1472.0 L570.4 1473.1 L572.5 1474.1 L574.5 1474.7 L576.6 1475.1 L578.7 1476.3 L580.7 1475.5 L582.8 1476.3 L584.9 1476.5 L587.0 1476.6 L589.0 1476.5 L591.1 1477.7 L593.2 1477.6 L595.2 1478.9 L597.3 1479.6 L599.4 1479.6 L601.4 1477.2 L603.5 1479.8 L605.6 1478.3 L607.6 1477.7 L609.7 1479.2 L611.8 1477.7 L613.9 1477.6 L615.9 1478.3 L618.0 1477.2 L620.1 1478.5 L622.1 1479.5 L624.2 1478.6 L626.3 1479.3 L628.3 1479.9 L630.4 1479.9 L632.5 1477.3 L634.5 1479.3 L636.6 1479.0 L638.7 1479.4 L640.8 1478.9 L642.8 1479.1 L644.9 1479.3 L647.0 1479.8 L649.0 1480.0 L651.1 1479.5 L653.2 1478.7 L655.2 1477.3 L657.3 1478.0 L659.4 1477.3 L661.4 1478.2 L663.5 1478.5 L665.6 1479.3 L667.7 1478.3 L669.7 1479.7 L671.8 1478.3 L673.9 1476.8 L675.9 1477.6 L678.0 1476.9 L680.1 1477.9 L682.1 1478.5 L684.2 1477.7 L686.3 1477.5 L688.4 1476.1 L690.4 1475.4 L692.5 1477.3 L694.6 1476.9 L696.6 1476.7 L698.7 1476.8 L700.8 1477.5 L702.8 1476.6 L704.9 1476.5 L707.0 1476.7 L709.0 1478.0 L711.1 1477.5 L713.2 1478.9 L715.3 1477.3 L717.3 1479.0 L719.4 1478.8 L721.5 1479.2 L723.5 1479.6 L725.6 1480.3 L727.7 1481.1 L729.7 1478.9 L731.8 1480.3 L733.9 1480.6 L735.9 1479.6 L738.0 1481.5 L740.1 1481.4 L742.2 1482.1 L744.2 1481.6 L746.3 1482.5 L748.4 1483.0 L750.4 1483.8 L752.5 1483.8 L754.6 1483.5 L756.6 1486.3 L758.7 1485.2 L760.8 1485.8 L762.8 1486.1 L764.9 1487.7 L767.0 1486.1 L769.1 1487.7 L771.1 1487.6 L773.2 1488.1 L775.3 1489.4 L777.3 1488.9 L779.4 1490.4 L781.5 1490.1 L783.5 1490.1 L785.6 1490.4 L787.7 1490.8 L789.7 1491.4 L791.8 1490.1 L793.9 1491.8 L796.0 1493.4 L798.0 1493.3 L800.1 1493.7 L802.2 1493.7 L804.2 1494.3 L806.3 1494.8 L808.4 1493.2 L810.4 1494.5 L812.5 1494.9 L814.6 1495.0 L816.6 1495.0 L818.7 1494.0 L820.8 1494.7 L822.9 1494.3 L824.9 1497.5 L827.0 1495.1 L829.1 1494.6 L831.1 1494.0 L833.2 1495.5 L835.3 1496.8 L837.3 1495.2 L839.4 1496.1 L841.5 1497.0 L843.5 1496.2 L845.6 1495.0 L847.7 1495.0 L849.8 1495.3 L851.8 1496.6 L853.9 1494.0 L856.0 1496.7 L858.0 1495.9 L860.1 1496.9 L862.2 1494.9 L864.2 1495.5 L866.3 1495.2 L868.4 1495.8 L870.4 1495.9 L872.5 1495.7 L874.6 1497.2 L876.7 1495.2 L878.7 1495.2 L880.8 1496.2 L882.9 1495.9 L884.9 1495.7 L887.0 1494.7 L889.1 1495.6 L891.1 1495.8 L893.2 1496.2 L895.3 1497.0 L897.3 1496.3 L899.4 1495.8 L901.5 1496.0 L903.6 1495.7 L905.6 1495.1 L907.7 1495.3 L909.8 1495.3 L911.8 1495.0 L913.9 1495.2 L916.0 1495.3 L918.0 1494.8 L920.1 1496.3 L922.2 1494.1 L924.2 1495.9 L926.3 1494.2 L928.4 1494.8 L930.5 1493.9 L932.5 1494.7 L934.6 1495.3 L936.7 1493.9 L938.7 1494.5 L940.8 1494.6 L942.9 1494.7 L944.9 1494.1 L947.0 1494.4 L949.1 1494.9 L951.1 1496.4 L953.2 1495.7 L955.3 1495.6 L957.4 1494.5 L959.4 1495.8 L961.5 1496.3 L963.6 1495.6 L965.6 1496.8 L967.7 1497.0 L969.8 1497.1 L971.8 1498.6 L973.9 1497.1 L976.0 1497.7 L978.0 1498.5 L980.1 1499.4 L982.2 1498.7 L984.3 1498.3 L986.3 1500.2 L988.4 1500.9 L990.5 1500.3 L992.5 1502.3 L994.6 1503.2 L996.7 1502.4 L998.7 1503.0 L1000.8 1503.2 L1002.9 1503.8 L1004.9 1503.5 L1007.0 1504.2 L1009.1 1504.8 L1011.2 1504.9 L1013.2 1504.3 L1015.3 1504.3 L1017.4 1504.5 L1019.4 1504.9 L1021.5 1508.0 L1023.6 1506.5 L1025.6 1506.2 L1027.7 1505.9 L1029.8 1507.4 L1031.8 1505.3 L1033.9 1506.3 L1036.0 1507.0 L1038.1 1506.6 L1040.1 1507.0 L1042.2 1507.4 L1044.3 1506.5 L1046.3 1507.3 L1048.4 1508.0 L1050.5 1507.5 L1052.5 1507.2 L1054.6 1508.0 L1056.7 1506.3 L1058.7 1508.1 L1060.8 1506.1 L1062.9 1506.8 L1065.0 1508.2 L1067.0 1507.4 L1069.1 1506.7 L1071.2 1507.7 L1073.2 1508.5 L1075.3 1507.6 L1077.4 1506.3 L1079.4 1508.8 L1081.5 1507.4 L1083.6 1507.8 L1085.6 1507.9 L1087.7 1508.2 L1089.8 1508.1 L1091.9 1507.2 L1093.9 1507.5 L1096.0 1508.7 L1098.1 1506.8 L1100.1 1508.9 L1102.2 1507.5" fill="none" stroke="#37AD6B" stroke-width="4.2" stroke-linejoin="round"/>
<path d="M274.5 1190.1 L276.6 1241.2 L278.6 1286.7 L280.7 1325.4 L282.8 1358.0 L284.8 1381.8 L286.9 1399.7 L289.0 1409.0 L291.1 1417.3 L293.1 1419.5 L295.2 1422.9 L297.3 1425.0 L299.3 1426.6 L301.4 1426.0 L303.5 1429.5 L305.5 1429.6 L307.6 1426.4 L309.7 1429.9 L311.7 1424.8 L313.8 1427.1 L315.9 1425.6 L318.0 1425.2 L320.0 1424.0 L322.1 1424.6 L324.2 1424.2 L326.2 1423.3 L328.3 1420.8 L330.4 1419.9 L332.4 1418.9 L334.5 1419.4 L336.6 1419.3 L338.6 1420.5 L340.7 1415.6 L342.8 1414.1 L344.9 1414.7 L346.9 1411.3 L349.0 1409.1 L351.1 1409.6 L353.1 1406.6 L355.2 1406.4 L357.3 1408.3 L359.3 1405.0 L361.4 1403.7 L363.5 1400.9 L365.5 1401.9 L367.6 1400.0 L369.7 1399.6 L371.8 1396.8 L373.8 1395.3 L375.9 1392.4 L378.0 1391.2 L380.0 1390.7 L382.1 1389.0 L384.2 1387.6 L386.2 1385.9 L388.3 1381.9 L390.4 1386.6 L392.4 1381.0 L394.5 1378.3 L396.6 1375.0 L398.7 1376.4 L400.7 1371.9 L402.8 1368.6 L404.9 1368.1 L406.9 1367.7 L409.0 1362.4 L411.1 1360.7 L413.1 1354.5 L415.2 1353.6 L417.3 1345.8 L419.3 1344.6 L421.4 1342.1 L423.5 1337.4 L425.6 1333.9 L427.6 1326.9 L429.7 1320.3 L431.8 1318.0 L433.8 1310.8 L435.9 1308.1 L438.0 1300.5 L440.0 1291.5 L442.1 1291.2 L444.2 1280.4 L446.2 1273.5 L448.3 1270.8 L450.4 1262.0 L452.5 1252.5 L454.5 1239.8 L456.6 1231.4 L458.7 1219.6 L460.7 1205.9 L462.8 1193.1 L464.9 1178.0 L466.9 1162.3 L469.0 1145.1 L471.1 1129.6 L473.1 1110.6 L475.2 1096.2 L477.3 1082.0 L479.4 1067.6 L481.4 1057.0 L483.5 1050.2 L485.6 1043.3 L487.6 1042.5 L489.7 1041.5 L491.8 1042.9 L493.8 1049.2 L495.9 1057.6 L498.0 1072.3 L500.0 1091.1 L502.1 1118.0 L504.2 1147.0 L506.3 1175.9 L508.3 1202.0 L510.4 1226.3 L512.5 1250.0 L514.5 1271.6 L516.6 1293.4 L518.7 1312.8 L520.7 1329.7 L522.8 1345.6 L524.9 1359.5 L526.9 1372.5 L529.0 1385.1 L531.1 1397.6 L533.2 1408.5 L535.2 1416.6 L537.3 1423.9 L539.4 1432.9 L541.4 1437.0 L543.5 1441.0 L545.6 1445.8 L547.6 1449.7 L549.7 1450.7 L551.8 1453.6 L553.8 1457.2 L555.9 1458.3 L558.0 1460.3 L560.1 1463.8 L562.1 1462.6 L564.2 1466.4 L566.3 1466.8 L568.3 1468.3 L570.4 1468.3 L572.5 1470.1 L574.5 1469.8 L576.6 1469.7 L578.7 1470.9 L580.7 1471.7 L582.8 1470.8 L584.9 1473.0 L587.0 1472.0 L589.0 1473.2 L591.1 1473.2 L593.2 1473.6 L595.2 1473.8 L597.3 1474.2 L599.4 1475.0 L601.4 1475.1 L603.5 1474.6 L605.6 1475.3 L607.6 1476.2 L609.7 1476.1 L611.8 1476.2 L613.9 1475.8 L615.9 1475.8 L618.0 1475.9 L620.1 1476.5 L622.1 1476.1 L624.2 1477.2 L626.3 1478.4 L628.3 1476.5 L630.4 1477.9 L632.5 1477.6 L634.5 1477.9 L636.6 1476.8 L638.7 1478.3 L640.8 1477.4 L642.8 1478.1 L644.9 1478.7 L647.0 1479.1 L649.0 1477.8 L651.1 1477.9 L653.2 1477.7 L655.2 1477.0 L657.3 1478.1 L659.4 1478.1 L661.4 1478.4 L663.5 1478.3 L665.6 1478.6 L667.7 1478.9 L669.7 1476.7 L671.8 1479.4 L673.9 1477.8 L675.9 1477.5 L678.0 1477.6 L680.1 1478.3 L682.1 1477.6 L684.2 1477.7 L686.3 1478.0 L688.4 1477.0 L690.4 1477.2 L692.5 1477.1 L694.6 1476.1 L696.6 1477.3 L698.7 1476.2 L700.8 1477.0 L702.8 1476.3 L704.9 1476.7 L707.0 1476.8 L709.0 1477.9 L711.1 1478.0 L713.2 1478.3 L715.3 1477.8 L717.3 1477.7 L719.4 1477.8 L721.5 1479.3 L723.5 1479.2 L725.6 1480.7 L727.7 1481.5 L729.7 1480.8 L731.8 1481.0 L733.9 1481.9 L735.9 1482.4 L738.0 1481.0 L740.1 1482.4 L742.2 1483.4 L744.2 1480.8 L746.3 1482.7 L748.4 1483.5 L750.4 1483.1 L752.5 1484.6 L754.6 1483.2 L756.6 1485.9 L758.7 1486.1 L760.8 1485.7 L762.8 1486.5 L764.9 1485.3 L767.0 1487.9 L769.1 1487.6 L771.1 1487.3 L773.2 1487.4 L775.3 1487.5 L777.3 1488.4 L779.4 1487.5 L781.5 1489.9 L783.5 1489.8 L785.6 1489.8 L787.7 1491.1 L789.7 1491.5 L791.8 1492.1 L793.9 1492.6 L796.0 1493.4 L798.0 1493.3 L800.1 1494.4 L802.2 1493.4 L804.2 1495.1 L806.3 1492.7 L808.4 1493.2 L810.4 1493.8 L812.5 1494.9 L814.6 1495.2 L816.6 1494.0 L818.7 1494.9 L820.8 1494.7 L822.9 1495.7 L824.9 1494.5 L827.0 1495.9 L829.1 1495.4 L831.1 1496.8 L833.2 1496.1 L835.3 1495.3 L837.3 1496.0 L839.4 1496.1 L841.5 1495.2 L843.5 1495.9 L845.6 1495.0 L847.7 1497.6 L849.8 1495.5 L851.8 1495.6 L853.9 1497.1 L856.0 1496.9 L858.0 1495.3 L860.1 1496.7 L862.2 1496.4 L864.2 1495.5 L866.3 1496.2 L868.4 1495.6 L870.4 1496.6 L872.5 1495.7 L874.6 1495.2 L876.7 1495.7 L878.7 1497.5 L880.8 1495.5 L882.9 1495.9 L884.9 1496.6 L887.0 1494.9 L889.1 1497.2 L891.1 1494.6 L893.2 1496.4 L895.3 1494.8 L897.3 1496.0 L899.4 1496.9 L901.5 1495.8 L903.6 1495.6 L905.6 1495.4 L907.7 1494.9 L909.8 1496.2 L911.8 1495.2 L913.9 1494.9 L916.0 1495.5 L918.0 1495.9 L920.1 1495.8 L922.2 1494.5 L924.2 1494.4 L926.3 1495.5 L928.4 1495.8 L930.5 1493.9 L932.5 1495.9 L934.6 1494.6 L936.7 1495.3 L938.7 1496.0 L940.8 1494.7 L942.9 1495.0 L944.9 1493.9 L947.0 1493.4 L949.1 1495.3 L951.1 1494.6 L953.2 1494.8 L955.3 1496.1 L957.4 1496.5 L959.4 1495.0 L961.5 1496.6 L963.6 1496.6 L965.6 1497.0 L967.7 1497.2 L969.8 1497.8 L971.8 1497.0 L973.9 1496.9 L976.0 1498.4 L978.0 1499.4 L980.1 1498.6 L982.2 1500.1 L984.3 1499.8 L986.3 1498.9 L988.4 1498.6 L990.5 1500.4 L992.5 1502.0 L994.6 1501.1 L996.7 1503.8 L998.7 1503.1 L1000.8 1502.0 L1002.9 1502.9 L1004.9 1504.8 L1007.0 1505.4 L1009.1 1503.8 L1011.2 1504.7 L1013.2 1505.3 L1015.3 1504.8 L1017.4 1505.7 L1019.4 1506.9 L1021.5 1505.1 L1023.6 1506.3 L1025.6 1506.7 L1027.7 1507.1 L1029.8 1506.1 L1031.8 1507.0 L1033.9 1506.1 L1036.0 1506.9 L1038.1 1506.0 L1040.1 1507.1 L1042.2 1507.4 L1044.3 1508.4 L1046.3 1507.8 L1048.4 1506.6 L1050.5 1505.0 L1052.5 1508.1 L1054.6 1508.0 L1056.7 1507.1 L1058.7 1507.1 L1060.8 1507.9 L1062.9 1507.4 L1065.0 1508.7 L1067.0 1507.8 L1069.1 1507.0 L1071.2 1506.5 L1073.2 1507.9 L1075.3 1508.0 L1077.4 1507.5 L1079.4 1507.0 L1081.5 1507.5 L1083.6 1508.5 L1085.6 1507.7 L1087.7 1507.3 L1089.8 1508.5 L1091.9 1509.0 L1093.9 1507.6 L1096.0 1507.8 L1098.1 1507.3 L1100.1 1508.0 L1102.2 1508.5" fill="none" stroke="#B177DE" stroke-width="4.2" stroke-linejoin="round"/>
<path d="M274.5 1192.5 L276.6 1244.7 L278.6 1289.7 L280.7 1329.1 L282.8 1361.4 L284.8 1384.8 L286.9 1404.1 L289.0 1414.1 L291.1 1421.3 L293.1 1423.9 L295.2 1428.0 L297.3 1430.8 L299.3 1431.3 L301.4 1432.7 L303.5 1434.3 L305.5 1431.6 L307.6 1433.3 L309.7 1431.9 L311.7 1432.7 L313.8 1433.1 L315.9 1433.9 L318.0 1435.4 L320.0 1432.2 L322.1 1432.9 L324.2 1431.6 L326.2 1432.3 L328.3 1432.9 L330.4 1432.8 L332.4 1429.4 L334.5 1427.6 L336.6 1429.2 L338.6 1427.1 L340.7 1424.6 L342.8 1427.1 L344.9 1425.1 L346.9 1425.0 L349.0 1420.1 L351.1 1420.2 L353.1 1419.9 L355.2 1420.5 L357.3 1416.9 L359.3 1413.8 L361.4 1414.6 L363.5 1413.7 L365.5 1410.8 L367.6 1412.6 L369.7 1409.4 L371.8 1407.2 L373.8 1408.1 L375.9 1406.9 L378.0 1403.7 L380.0 1402.8 L382.1 1401.4 L384.2 1399.1 L386.2 1397.4 L388.3 1397.5 L390.4 1395.3 L392.4 1391.6 L394.5 1388.6 L396.6 1386.1 L398.7 1387.4 L400.7 1382.0 L402.8 1380.0 L404.9 1378.5 L406.9 1374.8 L409.0 1371.2 L411.1 1366.5 L413.1 1367.7 L415.2 1361.6 L417.3 1359.1 L419.3 1355.4 L421.4 1349.1 L423.5 1345.4 L425.6 1343.8 L427.6 1337.9 L429.7 1332.2 L431.8 1329.7 L433.8 1320.6 L435.9 1316.3 L438.0 1309.7 L440.0 1303.0 L442.1 1293.8 L444.2 1289.4 L446.2 1282.3 L448.3 1270.8 L450.4 1265.6 L452.5 1256.2 L454.5 1247.3 L456.6 1232.2 L458.7 1221.4 L460.7 1208.1 L462.8 1194.3 L464.9 1178.9 L466.9 1162.9 L469.0 1146.2 L471.1 1128.1 L473.1 1110.5 L475.2 1093.1 L477.3 1079.9 L479.4 1066.0 L481.4 1055.3 L483.5 1044.7 L485.6 1041.0 L487.6 1037.4 L489.7 1036.2 L491.8 1039.7 L493.8 1044.2 L495.9 1055.6 L498.0 1068.7 L500.0 1090.4 L502.1 1115.0 L504.2 1143.8 L506.3 1173.8 L508.3 1199.3 L510.4 1225.1 L512.5 1249.8 L514.5 1272.6 L516.6 1295.0 L518.7 1313.9 L520.7 1329.7 L522.8 1347.8 L524.9 1361.7 L526.9 1376.1 L529.0 1388.2 L531.1 1400.4 L533.2 1411.4 L535.2 1421.5 L537.3 1428.9 L539.4 1434.8 L541.4 1441.6 L543.5 1445.7 L545.6 1450.6 L547.6 1455.2 L549.7 1456.7 L551.8 1459.4 L553.8 1462.4 L555.9 1464.5 L558.0 1466.0 L560.1 1468.4 L562.1 1469.1 L564.2 1470.7 L566.3 1473.1 L568.3 1472.4 L570.4 1473.5 L572.5 1474.3 L574.5 1474.1 L576.6 1475.3 L578.7 1475.1 L580.7 1475.1 L582.8 1476.2 L584.9 1477.7 L587.0 1477.3 L589.0 1476.4 L591.1 1477.5 L593.2 1478.1 L595.2 1477.8 L597.3 1477.6 L599.4 1478.0 L601.4 1477.9 L603.5 1479.1 L605.6 1478.8 L607.6 1478.9 L609.7 1478.9 L611.8 1480.4 L613.9 1479.1 L615.9 1479.9 L618.0 1478.0 L620.1 1477.9 L622.1 1477.8 L624.2 1478.4 L626.3 1479.3 L628.3 1478.3 L630.4 1479.1 L632.5 1478.5 L634.5 1479.6 L636.6 1479.4 L638.7 1478.6 L640.8 1477.7 L642.8 1479.0 L644.9 1477.4 L647.0 1477.0 L649.0 1479.9 L651.1 1479.0 L653.2 1479.6 L655.2 1478.9 L657.3 1479.2 L659.4 1478.7 L661.4 1477.9 L663.5 1477.8 L665.6 1478.2 L667.7 1478.3 L669.7 1478.1 L671.8 1478.0 L673.9 1477.6 L675.9 1477.9 L678.0 1477.4 L680.1 1478.6 L682.1 1476.9 L684.2 1476.1 L686.3 1477.1 L688.4 1478.0 L690.4 1475.9 L692.5 1477.0 L694.6 1478.8 L696.6 1476.7 L698.7 1476.1 L700.8 1476.3 L702.8 1475.8 L704.9 1476.3 L707.0 1476.9 L709.0 1478.6 L711.1 1478.2 L713.2 1477.6 L715.3 1477.5 L717.3 1479.0 L719.4 1479.0 L721.5 1478.6 L723.5 1480.6 L725.6 1481.0 L727.7 1480.0 L729.7 1480.0 L731.8 1480.8 L733.9 1482.4 L735.9 1481.1 L738.0 1482.4 L740.1 1481.3 L742.2 1482.2 L744.2 1482.3 L746.3 1482.4 L748.4 1483.6 L750.4 1483.0 L752.5 1483.1 L754.6 1484.1 L756.6 1483.8 L758.7 1485.6 L760.8 1484.9 L762.8 1485.7 L764.9 1487.0 L767.0 1486.8 L769.1 1487.5 L771.1 1487.8 L773.2 1487.8 L775.3 1487.4 L777.3 1488.9 L779.4 1489.0 L781.5 1490.6 L783.5 1489.9 L785.6 1489.6 L787.7 1490.3 L789.7 1490.9 L791.8 1492.1 L793.9 1492.8 L796.0 1492.6 L798.0 1493.9 L800.1 1494.2 L802.2 1492.9 L804.2 1494.6 L806.3 1492.9 L808.4 1495.4 L810.4 1494.3 L812.5 1495.5 L814.6 1494.7 L816.6 1495.6 L818.7 1495.0 L820.8 1495.2 L822.9 1495.5 L824.9 1494.9 L827.0 1494.3 L829.1 1495.8 L831.1 1494.9 L833.2 1495.5 L835.3 1495.6 L837.3 1494.1 L839.4 1497.3 L841.5 1496.3 L843.5 1497.1 L845.6 1496.1 L847.7 1496.0 L849.8 1493.2 L851.8 1495.7 L853.9 1494.6 L856.0 1495.0 L858.0 1496.2 L860.1 1495.6 L862.2 1494.7 L864.2 1495.8 L866.3 1495.8 L868.4 1495.5 L870.4 1497.0 L872.5 1496.5 L874.6 1495.7 L876.7 1495.5 L878.7 1496.6 L880.8 1496.1 L882.9 1496.0 L884.9 1496.0 L887.0 1495.4 L889.1 1495.8 L891.1 1495.8 L893.2 1496.9 L895.3 1496.7 L897.3 1495.7 L899.4 1497.0 L901.5 1495.6 L903.6 1496.3 L905.6 1496.3 L907.7 1495.2 L909.8 1496.1 L911.8 1496.1 L913.9 1495.9 L916.0 1495.3 L918.0 1493.2 L920.1 1496.7 L922.2 1495.1 L924.2 1495.1 L926.3 1494.2 L928.4 1495.1 L930.5 1496.6 L932.5 1493.8 L934.6 1495.5 L936.7 1494.7 L938.7 1495.7 L940.8 1495.6 L942.9 1495.2 L944.9 1494.3 L947.0 1494.4 L949.1 1495.6 L951.1 1495.0 L953.2 1495.8 L955.3 1495.6 L957.4 1495.8 L959.4 1495.7 L961.5 1496.8 L963.6 1496.7 L965.6 1496.6 L967.7 1497.0 L969.8 1497.9 L971.8 1496.3 L973.9 1498.2 L976.0 1497.5 L978.0 1498.2 L980.1 1497.7 L982.2 1500.5 L984.3 1497.9 L986.3 1499.9 L988.4 1501.1 L990.5 1500.6 L992.5 1499.5 L994.6 1501.3 L996.7 1503.0 L998.7 1502.9 L1000.8 1502.1 L1002.9 1504.5 L1004.9 1503.9 L1007.0 1504.3 L1009.1 1502.8 L1011.2 1504.8 L1013.2 1503.9 L1015.3 1505.5 L1017.4 1505.8 L1019.4 1504.7 L1021.5 1505.2 L1023.6 1507.1 L1025.6 1505.5 L1027.7 1505.7 L1029.8 1506.7 L1031.8 1506.3 L1033.9 1506.3 L1036.0 1507.0 L1038.1 1507.2 L1040.1 1507.3 L1042.2 1507.1 L1044.3 1507.9 L1046.3 1507.0 L1048.4 1508.2 L1050.5 1507.1 L1052.5 1507.3 L1054.6 1508.0 L1056.7 1506.7 L1058.7 1506.0 L1060.8 1506.5 L1062.9 1508.5 L1065.0 1506.6 L1067.0 1507.4 L1069.1 1507.7 L1071.2 1508.1 L1073.2 1507.7 L1075.3 1506.8 L1077.4 1507.4 L1079.4 1508.1 L1081.5 1508.3 L1083.6 1508.2 L1085.6 1507.5 L1087.7 1506.6 L1089.8 1508.7 L1091.9 1508.0 L1093.9 1508.3 L1096.0 1508.6 L1098.1 1507.7 L1100.1 1507.6 L1102.2 1509.0" fill="none" stroke="#CC9900" stroke-width="4.2" stroke-linejoin="round"/>
<path d="M274.5 1193.0 L276.6 1243.1 L278.6 1288.8 L280.7 1328.3 L282.8 1361.4 L284.8 1385.9 L286.9 1402.8 L289.0 1414.4 L291.1 1421.6 L293.1 1424.9 L295.2 1427.5 L297.3 1431.3 L299.3 1431.2 L301.4 1431.7 L303.5 1434.9 L305.5 1434.0 L307.6 1434.5 L309.7 1433.6 L311.7 1433.5 L313.8 1436.4 L315.9 1436.2 L318.0 1432.1 L320.0 1433.2 L322.1 1432.3 L324.2 1432.1 L326.2 1429.8 L328.3 1433.7 L330.4 1429.5 L332.4 1431.8 L334.5 1428.5 L336.6 1426.6 L338.6 1430.0 L340.7 1426.2 L342.8 1426.2 L344.9 1425.0 L346.9 1423.2 L349.0 1423.6 L351.1 1422.1 L353.1 1418.2 L355.2 1416.5 L357.3 1417.5 L359.3 1417.6 L361.4 1410.5 L363.5 1411.2 L365.5 1411.2 L367.6 1412.3 L369.7 1410.3 L371.8 1407.8 L373.8 1408.4 L375.9 1403.0 L378.0 1403.9 L380.0 1402.0 L382.1 1402.7 L384.2 1400.9 L386.2 1399.0 L388.3 1395.6 L390.4 1394.6 L392.4 1392.8 L394.5 1389.9 L396.6 1387.9 L398.7 1383.7 L400.7 1384.1 L402.8 1382.8 L404.9 1378.5 L406.9 1373.3 L409.0 1373.4 L411.1 1369.3 L413.1 1366.6 L415.2 1361.9 L417.3 1358.5 L419.3 1356.3 L421.4 1351.3 L423.5 1345.2 L425.6 1340.5 L427.6 1336.0 L429.7 1331.2 L431.8 1327.9 L433.8 1322.5 L435.9 1314.7 L438.0 1310.5 L440.0 1300.9 L442.1 1295.7 L444.2 1285.0 L446.2 1276.8 L448.3 1268.4 L450.4 1256.1 L452.5 1248.2 L454.5 1237.1 L456.6 1225.7 L458.7 1214.8 L460.7 1199.4 L462.8 1189.6 L464.9 1175.1 L466.9 1162.4 L469.0 1148.0 L471.1 1133.7 L473.1 1119.1 L475.2 1105.9 L477.3 1093.2 L479.4 1081.1 L481.4 1073.7 L483.5 1066.9 L485.6 1063.2 L487.6 1060.1 L489.7 1061.1 L491.8 1064.9 L493.8 1070.2 L495.9 1080.2 L498.0 1092.9 L500.0 1111.2 L502.1 1134.2 L504.2 1160.2 L506.3 1186.1 L508.3 1207.9 L510.4 1230.2 L512.5 1253.5 L514.5 1272.7 L516.6 1292.0 L518.7 1312.2 L520.7 1328.5 L522.8 1345.6 L524.9 1358.8 L526.9 1374.3 L529.0 1388.0 L531.1 1400.0 L533.2 1409.5 L535.2 1420.7 L537.3 1429.4 L539.4 1435.4 L541.4 1441.3 L543.5 1445.0 L545.6 1451.2 L547.6 1455.0 L549.7 1457.2 L551.8 1459.4 L553.8 1461.7 L555.9 1463.4 L558.0 1467.3 L560.1 1468.5 L562.1 1469.5 L564.2 1469.9 L566.3 1471.1 L568.3 1472.6 L570.4 1473.8 L572.5 1473.1 L574.5 1473.7 L576.6 1473.0 L578.7 1475.6 L580.7 1474.7 L582.8 1477.1 L584.9 1476.9 L587.0 1477.3 L589.0 1477.4 L591.1 1477.9 L593.2 1477.9 L595.2 1477.8 L597.3 1478.3 L599.4 1477.7 L601.4 1478.4 L603.5 1478.5 L605.6 1477.6 L607.6 1478.5 L609.7 1478.7 L611.8 1478.9 L613.9 1478.9 L615.9 1478.6 L618.0 1479.6 L620.1 1478.2 L622.1 1477.9 L624.2 1478.2 L626.3 1479.3 L628.3 1480.1 L630.4 1479.3 L632.5 1478.9 L634.5 1478.4 L636.6 1479.1 L638.7 1479.2 L640.8 1477.9 L642.8 1479.5 L644.9 1478.2 L647.0 1478.3 L649.0 1479.9 L651.1 1478.7 L653.2 1479.3 L655.2 1479.5 L657.3 1480.1 L659.4 1479.8 L661.4 1478.3 L663.5 1478.8 L665.6 1478.2 L667.7 1479.1 L669.7 1478.4 L671.8 1478.3 L673.9 1479.1 L675.9 1479.1 L678.0 1477.5 L680.1 1477.6 L682.1 1478.2 L684.2 1477.4 L686.3 1476.7 L688.4 1475.7 L690.4 1477.5 L692.5 1476.3 L694.6 1475.1 L696.6 1476.5 L698.7 1475.5 L700.8 1478.4 L702.8 1475.6 L704.9 1476.8 L707.0 1478.3 L709.0 1476.6 L711.1 1476.7 L713.2 1476.8 L715.3 1477.1 L717.3 1478.3 L719.4 1479.1 L721.5 1479.3 L723.5 1479.3 L725.6 1479.3 L727.7 1480.2 L729.7 1480.2 L731.8 1479.9 L733.9 1480.6 L735.9 1479.5 L738.0 1479.9 L740.1 1482.6 L742.2 1482.6 L744.2 1483.4 L746.3 1483.7 L748.4 1482.9 L750.4 1484.3 L752.5 1484.8 L754.6 1484.6 L756.6 1484.2 L758.7 1485.4 L760.8 1485.8 L762.8 1485.3 L764.9 1486.0 L767.0 1486.4 L769.1 1486.4 L771.1 1488.2 L773.2 1487.7 L775.3 1488.7 L777.3 1487.9 L779.4 1488.5 L781.5 1490.3 L783.5 1489.0 L785.6 1491.2 L787.7 1490.0 L789.7 1491.1 L791.8 1492.4 L793.9 1492.9 L796.0 1492.8 L798.0 1493.0 L800.1 1493.8 L802.2 1493.2 L804.2 1494.9 L806.3 1494.2 L808.4 1494.4 L810.4 1495.9 L812.5 1494.5 L814.6 1495.7 L816.6 1496.7 L818.7 1495.4 L820.8 1495.3 L822.9 1494.5 L824.9 1495.6 L827.0 1494.3 L829.1 1494.4 L831.1 1494.7 L833.2 1494.6 L835.3 1495.4 L837.3 1496.1 L839.4 1495.3 L841.5 1495.1 L843.5 1495.7 L845.6 1496.0 L847.7 1497.0 L849.8 1495.4 L851.8 1495.7 L853.9 1496.9 L856.0 1495.9 L858.0 1495.4 L860.1 1496.0 L862.2 1495.4 L864.2 1495.4 L866.3 1497.0 L868.4 1496.1 L870.4 1495.6 L872.5 1495.3 L874.6 1494.9 L876.7 1497.3 L878.7 1496.0 L880.8 1495.4 L882.9 1495.0 L884.9 1494.7 L887.0 1496.6 L889.1 1496.2 L891.1 1496.7 L893.2 1495.3 L895.3 1496.9 L897.3 1495.1 L899.4 1495.2 L901.5 1495.5 L903.6 1497.4 L905.6 1496.2 L907.7 1495.1 L909.8 1496.6 L911.8 1495.7 L913.9 1495.5 L916.0 1494.7 L918.0 1495.0 L920.1 1494.9 L922.2 1495.4 L924.2 1495.0 L926.3 1495.0 L928.4 1494.3 L930.5 1494.9 L932.5 1494.0 L934.6 1495.9 L936.7 1493.9 L938.7 1494.8 L940.8 1494.0 L942.9 1494.8 L944.9 1494.3 L947.0 1494.0 L949.1 1495.6 L951.1 1495.3 L953.2 1495.6 L955.3 1495.5 L957.4 1497.1 L959.4 1496.2 L961.5 1496.5 L963.6 1497.1 L965.6 1496.9 L967.7 1498.2 L969.8 1496.3 L971.8 1497.2 L973.9 1496.5 L976.0 1498.7 L978.0 1499.2 L980.1 1498.4 L982.2 1500.2 L984.3 1499.2 L986.3 1500.3 L988.4 1500.5 L990.5 1500.5 L992.5 1501.1 L994.6 1500.3 L996.7 1501.7 L998.7 1503.5 L1000.8 1502.3 L1002.9 1504.4 L1004.9 1503.8 L1007.0 1505.0 L1009.1 1505.0 L1011.2 1503.7 L1013.2 1505.2 L1015.3 1505.5 L1017.4 1505.7 L1019.4 1505.7 L1021.5 1504.6 L1023.6 1506.7 L1025.6 1506.9 L1027.7 1505.7 L1029.8 1507.4 L1031.8 1506.7 L1033.9 1505.7 L1036.0 1506.6 L1038.1 1507.1 L1040.1 1507.3 L1042.2 1507.5 L1044.3 1507.4 L1046.3 1506.9 L1048.4 1506.2 L1050.5 1506.5 L1052.5 1507.6 L1054.6 1507.8 L1056.7 1506.8 L1058.7 1508.7 L1060.8 1507.8 L1062.9 1507.7 L1065.0 1508.3 L1067.0 1508.3 L1069.1 1507.4 L1071.2 1508.9 L1073.2 1508.4 L1075.3 1508.2 L1077.4 1507.8 L1079.4 1508.8 L1081.5 1507.1 L1083.6 1508.1 L1085.6 1508.1 L1087.7 1508.2 L1089.8 1508.5 L1091.9 1508.7 L1093.9 1507.2 L1096.0 1507.9 L1098.1 1508.1 L1100.1 1507.3 L1102.2 1508.6" fill="none" stroke="#00CBCC" stroke-width="4.2" stroke-linejoin="round"/>
<path d="M274.5 1193.0 L276.6 1245.1 L278.6 1290.9 L280.7 1329.7 L282.8 1363.9 L284.8 1387.1 L286.9 1405.8 L289.0 1416.0 L291.1 1422.4 L293.1 1427.3 L295.2 1431.7 L297.3 1433.9 L299.3 1435.7 L301.4 1438.4 L303.5 1439.1 L305.5 1438.1 L307.6 1437.8 L309.7 1441.8 L311.7 1439.3 L313.8 1438.3 L315.9 1438.9 L318.0 1440.5 L320.0 1437.1 L322.1 1440.4 L324.2 1437.2 L326.2 1435.4 L328.3 1440.8 L330.4 1436.7 L332.4 1435.9 L334.5 1435.3 L336.6 1436.1 L338.6 1434.5 L340.7 1435.3 L342.8 1432.0 L344.9 1430.2 L346.9 1430.9 L349.0 1430.1 L351.1 1428.1 L353.1 1426.0 L355.2 1424.6 L357.3 1423.6 L359.3 1422.2 L361.4 1423.2 L363.5 1424.3 L365.5 1417.9 L367.6 1415.5 L369.7 1418.8 L371.8 1416.4 L373.8 1413.6 L375.9 1411.3 L378.0 1410.3 L380.0 1407.9 L382.1 1408.4 L384.2 1406.1 L386.2 1404.4 L388.3 1404.0 L390.4 1399.6 L392.4 1398.6 L394.5 1396.0 L396.6 1396.0 L398.7 1391.6 L400.7 1392.5 L402.8 1387.6 L404.9 1389.5 L406.9 1384.0 L409.0 1378.1 L411.1 1376.7 L413.1 1372.3 L415.2 1371.5 L417.3 1362.9 L419.3 1360.5 L421.4 1357.4 L423.5 1352.3 L425.6 1348.0 L427.6 1341.5 L429.7 1338.4 L431.8 1335.8 L433.8 1328.4 L435.9 1320.1 L438.0 1316.7 L440.0 1313.3 L442.1 1306.2 L444.2 1301.1 L446.2 1293.7 L448.3 1289.8 L450.4 1280.6 L452.5 1269.1 L454.5 1260.3 L456.6 1247.7 L458.7 1232.1 L460.7 1220.9 L462.8 1203.2 L464.9 1184.8 L466.9 1164.1 L469.0 1142.7 L471.1 1121.7 L473.1 1099.5 L475.2 1076.1 L477.3 1058.0 L479.4 1039.2 L481.4 1025.1 L483.5 1012.9 L485.6 1004.4 L487.6 1000.4 L489.7 999.4 L491.8 999.2 L493.8 1005.4 L495.9 1014.5 L498.0 1029.0 L500.0 1055.0 L502.1 1084.3 L504.2 1119.7 L506.3 1154.0 L508.3 1187.2 L510.4 1217.3 L512.5 1246.2 L514.5 1272.2 L516.6 1295.3 L518.7 1318.0 L520.7 1335.8 L522.8 1351.1 L524.9 1366.4 L526.9 1379.8 L529.0 1392.2 L531.1 1402.1 L533.2 1411.5 L535.2 1420.2 L537.3 1428.7 L539.4 1434.4 L541.4 1441.8 L543.5 1447.6 L545.6 1450.2 L547.6 1453.9 L549.7 1456.9 L551.8 1460.8 L553.8 1461.2 L555.9 1464.3 L558.0 1466.3 L560.1 1469.1 L562.1 1469.1 L564.2 1470.6 L566.3 1470.5 L568.3 1472.6 L570.4 1474.0 L572.5 1473.7 L574.5 1475.1 L576.6 1474.7 L578.7 1476.3 L580.7 1476.0 L582.8 1476.5 L584.9 1476.6 L587.0 1477.2 L589.0 1477.7 L591.1 1477.4 L593.2 1478.0 L595.2 1477.7 L597.3 1478.2 L599.4 1479.8 L601.4 1478.4 L603.5 1477.6 L605.6 1478.5 L607.6 1478.4 L609.7 1478.6 L611.8 1479.3 L613.9 1480.0 L615.9 1478.5 L618.0 1478.3 L620.1 1478.6 L622.1 1478.7 L624.2 1478.8 L626.3 1479.1 L628.3 1478.8 L630.4 1479.0 L632.5 1478.8 L634.5 1479.7 L636.6 1479.5 L638.7 1478.6 L640.8 1479.3 L642.8 1480.7 L644.9 1478.9 L647.0 1480.6 L649.0 1477.7 L651.1 1478.5 L653.2 1478.5 L655.2 1479.4 L657.3 1479.6 L659.4 1478.9 L661.4 1478.6 L663.5 1479.1 L665.6 1478.3 L667.7 1477.9 L669.7 1477.8 L671.8 1478.9 L673.9 1479.5 L675.9 1477.9 L678.0 1478.3 L680.1 1477.4 L682.1 1476.4 L684.2 1476.3 L686.3 1477.0 L688.4 1476.3 L690.4 1475.8 L692.5 1476.8 L694.6 1476.5 L696.6 1476.0 L698.7 1476.6 L700.8 1477.0 L702.8 1477.2 L704.9 1476.8 L707.0 1477.4 L709.0 1476.7 L711.1 1477.7 L713.2 1476.7 L715.3 1477.2 L717.3 1479.2 L719.4 1477.9 L721.5 1479.3 L723.5 1478.3 L725.6 1479.3 L727.7 1480.0 L729.7 1479.8 L731.8 1480.9 L733.9 1480.6 L735.9 1480.9 L738.0 1481.6 L740.1 1481.6 L742.2 1482.9 L744.2 1482.2 L746.3 1483.7 L748.4 1482.9 L750.4 1483.3 L752.5 1483.6 L754.6 1484.8 L756.6 1482.7 L758.7 1485.4 L760.8 1485.5 L762.8 1486.5 L764.9 1485.4 L767.0 1487.1 L769.1 1486.4 L771.1 1488.1 L773.2 1487.6 L775.3 1488.5 L777.3 1488.0 L779.4 1489.3 L781.5 1490.1 L783.5 1489.7 L785.6 1491.2 L787.7 1491.5 L789.7 1490.8 L791.8 1493.0 L793.9 1491.6 L796.0 1492.8 L798.0 1493.6 L800.1 1493.1 L802.2 1493.2 L804.2 1494.3 L806.3 1494.3 L808.4 1493.9 L810.4 1494.1 L812.5 1494.8 L814.6 1495.4 L816.6 1495.6 L818.7 1495.4 L820.8 1494.6 L822.9 1494.8 L824.9 1495.1 L827.0 1494.4 L829.1 1495.7 L831.1 1495.8 L833.2 1495.8 L835.3 1494.3 L837.3 1497.1 L839.4 1495.6 L841.5 1495.5 L843.5 1495.8 L845.6 1494.3 L847.7 1495.1 L849.8 1495.4 L851.8 1496.5 L853.9 1495.6 L856.0 1496.2 L858.0 1495.9 L860.1 1495.8 L862.2 1496.3 L864.2 1495.5 L866.3 1494.8 L868.4 1495.2 L870.4 1495.8 L872.5 1497.2 L874.6 1495.2 L876.7 1495.2 L878.7 1496.0 L880.8 1496.2 L882.9 1495.5 L884.9 1496.5 L887.0 1495.4 L889.1 1496.7 L891.1 1496.5 L893.2 1495.9 L895.3 1496.9 L897.3 1495.9 L899.4 1495.5 L901.5 1496.7 L903.6 1495.2 L905.6 1496.1 L907.7 1495.3 L909.8 1495.4 L911.8 1495.8 L913.9 1495.8 L916.0 1496.5 L918.0 1495.7 L920.1 1495.6 L922.2 1493.9 L924.2 1494.3 L926.3 1495.8 L928.4 1494.3 L930.5 1494.6 L932.5 1495.0 L934.6 1494.4 L936.7 1494.2 L938.7 1495.1 L940.8 1494.9 L942.9 1494.7 L944.9 1495.6 L947.0 1494.9 L949.1 1495.2 L951.1 1495.8 L953.2 1496.1 L955.3 1495.5 L957.4 1495.3 L959.4 1495.9 L961.5 1496.9 L963.6 1496.0 L965.6 1496.7 L967.7 1496.6 L969.8 1496.5 L971.8 1498.2 L973.9 1497.9 L976.0 1498.5 L978.0 1498.9 L980.1 1497.2 L982.2 1498.3 L984.3 1500.5 L986.3 1499.5 L988.4 1500.6 L990.5 1499.9 L992.5 1501.1 L994.6 1501.8 L996.7 1502.0 L998.7 1502.3 L1000.8 1503.0 L1002.9 1503.6 L1004.9 1503.9 L1007.0 1503.8 L1009.1 1505.1 L1011.2 1504.6 L1013.2 1504.9 L1015.3 1505.4 L1017.4 1504.7 L1019.4 1506.3 L1021.5 1505.9 L1023.6 1506.4 L1025.6 1505.6 L1027.7 1506.4 L1029.8 1506.2 L1031.8 1506.1 L1033.9 1507.6 L1036.0 1506.3 L1038.1 1507.2 L1040.1 1507.0 L1042.2 1506.9 L1044.3 1506.4 L1046.3 1506.5 L1048.4 1505.9 L1050.5 1507.0 L1052.5 1507.5 L1054.6 1507.6 L1056.7 1506.9 L1058.7 1506.3 L1060.8 1507.2 L1062.9 1507.9 L1065.0 1507.3 L1067.0 1507.4 L1069.1 1507.6 L1071.2 1508.2 L1073.2 1509.4 L1075.3 1508.1 L1077.4 1507.1 L1079.4 1507.7 L1081.5 1509.3 L1083.6 1507.9 L1085.6 1509.1 L1087.7 1506.6 L1089.8 1507.8 L1091.9 1508.8 L1093.9 1507.4 L1096.0 1508.5 L1098.1 1507.6 L1100.1 1508.0 L1102.2 1508.8" fill="none" stroke="#7D4E4E" stroke-width="4.2" stroke-linejoin="round"/>
<path d="M274.5 1192.2 L276.6 1245.3 L278.6 1288.6 L280.7 1329.2 L282.8 1362.4 L284.8 1387.6 L286.9 1402.9 L289.0 1413.9 L291.1 1422.7 L293.1 1424.9 L295.2 1429.3 L297.3 1432.0 L299.3 1433.4 L301.4 1434.6 L303.5 1432.8 L305.5 1435.4 L307.6 1438.8 L309.7 1433.2 L311.7 1435.0 L313.8 1437.8 L315.9 1436.5 L318.0 1437.0 L320.0 1435.3 L322.1 1434.5 L324.2 1434.4 L326.2 1435.3 L328.3 1435.2 L330.4 1432.2 L332.4 1432.9 L334.5 1428.6 L336.6 1432.3 L338.6 1429.0 L340.7 1429.2 L342.8 1429.3 L344.9 1425.0 L346.9 1425.6 L349.0 1425.8 L351.1 1423.6 L353.1 1420.3 L355.2 1422.3 L357.3 1417.2 L359.3 1417.0 L361.4 1417.3 L363.5 1413.7 L365.5 1411.9 L367.6 1412.5 L369.7 1411.9 L371.8 1408.2 L373.8 1407.4 L375.9 1409.7 L378.0 1407.2 L380.0 1405.7 L382.1 1404.5 L384.2 1404.5 L386.2 1399.3 L388.3 1398.7 L390.4 1396.9 L392.4 1393.0 L394.5 1394.0 L396.6 1391.1 L398.7 1388.4 L400.7 1387.1 L402.8 1384.1 L404.9 1380.0 L406.9 1378.2 L409.0 1373.1 L411.1 1373.0 L413.1 1368.2 L415.2 1367.2 L417.3 1361.6 L419.3 1358.6 L421.4 1351.4 L423.5 1348.0 L425.6 1343.8 L427.6 1337.1 L429.7 1332.8 L431.8 1328.7 L433.8 1325.3 L435.9 1320.6 L438.0 1314.5 L440.0 1310.6 L442.1 1306.1 L444.2 1300.2 L446.2 1296.1 L448.3 1284.5 L450.4 1280.7 L452.5 1271.4 L454.5 1259.6 L456.6 1251.5 L458.7 1234.7 L460.7 1219.9 L462.8 1204.9 L464.9 1185.7 L466.9 1164.1 L469.0 1143.5 L471.1 1118.7 L473.1 1096.4 L475.2 1075.5 L477.3 1055.9 L479.4 1036.5 L481.4 1020.7 L483.5 1010.0 L485.6 1001.1 L487.6 997.7 L489.7 993.5 L491.8 995.2 L493.8 998.4 L495.9 1010.0 L498.0 1026.6 L500.0 1051.4 L502.1 1081.4 L504.2 1117.6 L506.3 1151.7 L508.3 1185.2 L510.4 1216.6 L512.5 1245.5 L514.5 1270.5 L516.6 1294.6 L518.7 1318.0 L520.7 1336.1 L522.8 1352.0 L524.9 1368.6 L526.9 1381.9 L529.0 1395.2 L531.1 1405.7 L533.2 1415.2 L535.2 1424.7 L537.3 1433.4 L539.4 1441.3 L541.4 1447.1 L543.5 1451.6 L545.6 1454.7 L547.6 1459.1 L549.7 1462.4 L551.8 1464.1 L553.8 1466.5 L555.9 1469.6 L558.0 1471.5 L560.1 1472.3 L562.1 1473.9 L564.2 1475.8 L566.3 1475.9 L568.3 1476.9 L570.4 1476.9 L572.5 1478.9 L574.5 1478.2 L576.6 1479.1 L578.7 1480.5 L580.7 1479.4 L582.8 1479.8 L584.9 1481.6 L587.0 1479.5 L589.0 1481.9 L591.1 1481.9 L593.2 1481.6 L595.2 1481.0 L597.3 1481.3 L599.4 1481.9 L601.4 1481.0 L603.5 1481.7 L605.6 1481.1 L607.6 1480.1 L609.7 1482.0 L611.8 1483.9 L613.9 1482.4 L615.9 1482.7 L618.0 1481.8 L620.1 1481.8 L622.1 1482.6 L624.2 1482.5 L626.3 1481.8 L628.3 1481.7 L630.4 1483.3 L632.5 1480.7 L634.5 1481.3 L636.6 1481.2 L638.7 1480.9 L640.8 1481.8 L642.8 1481.1 L644.9 1480.2 L647.0 1480.1 L649.0 1480.5 L651.1 1480.9 L653.2 1481.2 L655.2 1479.6 L657.3 1480.0 L659.4 1480.5 L661.4 1481.6 L663.5 1480.5 L665.6 1481.1 L667.7 1478.7 L669.7 1479.3 L671.8 1479.8 L673.9 1479.3 L675.9 1477.1 L678.0 1477.9 L680.1 1479.5 L682.1 1478.5 L684.2 1479.1 L686.3 1479.2 L688.4 1477.6 L690.4 1475.9 L692.5 1476.3 L694.6 1477.2 L696.6 1477.4 L698.7 1477.0 L700.8 1476.4 L702.8 1478.2 L704.9 1478.6 L707.0 1476.1 L709.0 1477.4 L711.1 1476.7 L713.2 1477.9 L715.3 1477.3 L717.3 1479.1 L719.4 1478.6 L721.5 1478.2 L723.5 1478.9 L725.6 1480.3 L727.7 1479.6 L729.7 1481.0 L731.8 1481.9 L733.9 1480.8 L735.9 1480.5 L738.0 1481.2 L740.1 1483.1 L742.2 1481.9 L744.2 1482.4 L746.3 1483.6 L748.4 1485.4 L750.4 1483.3 L752.5 1483.7 L754.6 1484.4 L756.6 1486.4 L758.7 1486.6 L760.8 1485.2 L762.8 1485.7 L764.9 1486.3 L767.0 1487.3 L769.1 1487.2 L771.1 1488.2 L773.2 1488.5 L775.3 1489.3 L777.3 1488.9 L779.4 1489.9 L781.5 1489.4 L783.5 1490.1 L785.6 1491.7 L787.7 1490.2 L789.7 1492.9 L791.8 1492.2 L793.9 1492.2 L796.0 1492.5 L798.0 1495.5 L800.1 1493.5 L802.2 1493.8 L804.2 1493.9 L806.3 1496.9 L808.4 1496.0 L810.4 1495.8 L812.5 1496.2 L814.6 1495.1 L816.6 1496.7 L818.7 1495.4 L820.8 1496.0 L822.9 1497.6 L824.9 1497.3 L827.0 1497.1 L829.1 1496.7 L831.1 1496.2 L833.2 1497.1 L835.3 1496.4 L837.3 1498.3 L839.4 1499.4 L841.5 1497.5 L843.5 1497.0 L845.6 1497.6 L847.7 1498.1 L849.8 1497.1 L851.8 1496.0 L853.9 1497.5 L856.0 1497.9 L858.0 1498.0 L860.1 1496.0 L862.2 1497.4 L864.2 1497.0 L866.3 1496.5 L868.4 1496.6 L870.4 1498.0 L872.5 1496.7 L874.6 1496.7 L876.7 1497.0 L878.7 1496.6 L880.8 1497.7 L882.9 1497.4 L884.9 1497.7 L887.0 1496.7 L889.1 1497.7 L891.1 1497.0 L893.2 1498.0 L895.3 1497.3 L897.3 1497.5 L899.4 1497.3 L901.5 1497.0 L903.6 1497.2 L905.6 1497.1 L907.7 1498.4 L909.8 1496.0 L911.8 1497.1 L913.9 1496.7 L916.0 1497.0 L918.0 1495.6 L920.1 1496.9 L922.2 1495.8 L924.2 1495.2 L926.3 1494.7 L928.4 1495.0 L930.5 1495.3 L932.5 1496.6 L934.6 1494.7 L936.7 1494.7 L938.7 1495.0 L940.8 1495.0 L942.9 1495.6 L944.9 1496.1 L947.0 1495.0 L949.1 1495.0 L951.1 1496.8 L953.2 1495.5 L955.3 1496.2 L957.4 1495.9 L959.4 1496.5 L961.5 1496.1 L963.6 1496.4 L965.6 1496.7 L967.7 1498.5 L969.8 1497.2 L971.8 1497.9 L973.9 1499.0 L976.0 1497.9 L978.0 1499.7 L980.1 1498.3 L982.2 1498.0 L984.3 1500.0 L986.3 1499.3 L988.4 1500.1 L990.5 1500.4 L992.5 1502.3 L994.6 1501.4 L996.7 1502.2 L998.7 1502.2 L1000.8 1503.2 L1002.9 1502.8 L1004.9 1503.8 L1007.0 1503.8 L1009.1 1503.6 L1011.2 1504.7 L1013.2 1504.3 L1015.3 1505.1 L1017.4 1505.1 L1019.4 1506.1 L1021.5 1505.3 L1023.6 1505.2 L1025.6 1506.3 L1027.7 1505.8 L1029.8 1506.2 L1031.8 1507.4 L1033.9 1506.5 L1036.0 1505.9 L1038.1 1507.3 L1040.1 1508.3 L1042.2 1507.0 L1044.3 1507.7 L1046.3 1505.9 L1048.4 1507.4 L1050.5 1507.4 L1052.5 1507.9 L1054.6 1507.3 L1056.7 1508.0 L1058.7 1508.3 L1060.8 1507.7 L1062.9 1508.3 L1065.0 1506.8 L1067.0 1508.7 L1069.1 1507.9 L1071.2 1508.4 L1073.2 1509.0 L1075.3 1506.8 L1077.4 1509.5 L1079.4 1507.0 L1081.5 1509.1 L1083.6 1508.1 L1085.6 1506.6 L1087.7 1509.7 L1089.8 1509.2 L1091.9 1507.3 L1093.9 1508.1 L1096.0 1508.7 L1098.1 1508.3 L1100.1 1509.0 L1102.2 1508.2" fill="none" stroke="#8E8E00" stroke-width="4.2" stroke-linejoin="round"/>
<path d="M274.5 1193.5 L276.6 1246.4 L278.6 1291.3 L280.7 1330.8 L282.8 1363.2 L284.8 1389.8 L286.9 1406.9 L289.0 1418.7 L291.1 1426.2 L293.1 1430.7 L295.2 1434.7 L297.3 1438.3 L299.3 1440.3 L301.4 1441.2 L303.5 1440.9 L305.5 1440.1 L307.6 1443.5 L309.7 1443.5 L311.7 1442.5 L313.8 1442.5 L315.9 1443.9 L318.0 1443.9 L320.0 1440.9 L322.1 1444.2 L324.2 1444.3 L326.2 1445.9 L328.3 1442.4 L330.4 1443.1 L332.4 1439.1 L334.5 1441.9 L336.6 1439.4 L338.6 1438.5 L340.7 1436.6 L342.8 1440.4 L344.9 1434.9 L346.9 1436.2 L349.0 1435.2 L351.1 1434.3 L353.1 1433.1 L355.2 1431.8 L357.3 1433.7 L359.3 1428.1 L361.4 1427.7 L363.5 1428.1 L365.5 1425.7 L367.6 1420.9 L369.7 1422.8 L371.8 1422.8 L373.8 1418.3 L375.9 1420.9 L378.0 1418.5 L380.0 1417.7 L382.1 1415.7 L384.2 1412.6 L386.2 1411.2 L388.3 1411.4 L390.4 1408.7 L392.4 1406.4 L394.5 1405.1 L396.6 1402.3 L398.7 1401.1 L400.7 1398.7 L402.8 1394.8 L404.9 1393.6 L406.9 1388.2 L409.0 1385.9 L411.1 1383.7 L413.1 1379.7 L415.2 1375.9 L417.3 1371.7 L419.3 1367.3 L421.4 1363.7 L423.5 1360.3 L425.6 1352.2 L427.6 1348.2 L429.7 1344.4 L431.8 1337.9 L433.8 1333.2 L435.9 1328.2 L438.0 1321.5 L440.0 1311.0 L442.1 1306.7 L444.2 1299.3 L446.2 1293.6 L448.3 1283.5 L450.4 1271.7 L452.5 1264.6 L454.5 1252.8 L456.6 1240.4 L458.7 1228.2 L460.7 1212.5 L462.8 1198.7 L464.9 1181.1 L466.9 1163.3 L469.0 1142.3 L471.1 1124.3 L473.1 1104.3 L475.2 1084.8 L477.3 1069.1 L479.4 1053.0 L481.4 1040.7 L483.5 1029.6 L485.6 1023.1 L487.6 1019.3 L489.7 1018.3 L491.8 1020.6 L493.8 1025.3 L495.9 1034.8 L498.0 1050.3 L500.0 1071.7 L502.1 1100.1 L504.2 1131.7 L506.3 1164.8 L508.3 1193.3 L510.4 1222.4 L512.5 1247.4 L514.5 1271.8 L516.6 1295.1 L518.7 1315.8 L520.7 1333.6 L522.8 1347.9 L524.9 1364.1 L526.9 1377.5 L529.0 1389.3 L531.1 1401.1 L533.2 1410.4 L535.2 1421.1 L537.3 1429.2 L539.4 1433.3 L541.4 1441.5 L543.5 1446.3 L545.6 1450.1 L547.6 1453.1 L549.7 1457.8 L551.8 1459.4 L553.8 1462.0 L555.9 1463.7 L558.0 1466.0 L560.1 1468.3 L562.1 1470.0 L564.2 1472.2 L566.3 1470.7 L568.3 1473.3 L570.4 1473.3 L572.5 1472.5 L574.5 1474.6 L576.6 1474.5 L578.7 1475.6 L580.7 1475.4 L582.8 1476.2 L584.9 1476.9 L587.0 1475.8 L589.0 1477.2 L591.1 1478.2 L593.2 1477.7 L595.2 1477.4 L597.3 1478.7 L599.4 1477.6 L601.4 1477.8 L603.5 1477.0 L605.6 1479.1 L607.6 1478.3 L609.7 1480.0 L611.8 1479.2 L613.9 1478.9 L615.9 1478.7 L618.0 1479.0 L620.1 1479.0 L622.1 1479.4 L624.2 1479.3 L626.3 1478.7 L628.3 1478.6 L630.4 1478.5 L632.5 1478.2 L634.5 1478.1 L636.6 1480.2 L638.7 1479.3 L640.8 1479.1 L642.8 1479.4 L644.9 1478.2 L647.0 1478.4 L649.0 1479.0 L651.1 1478.8 L653.2 1478.0 L655.2 1479.0 L657.3 1479.0 L659.4 1478.0 L661.4 1478.2 L663.5 1477.5 L665.6 1478.1 L667.7 1477.7 L669.7 1478.5 L671.8 1478.7 L673.9 1477.9 L675.9 1479.7 L678.0 1477.4 L680.1 1476.9 L682.1 1477.4 L684.2 1477.5 L686.3 1476.4 L688.4 1477.0 L690.4 1476.2 L692.5 1475.2 L694.6 1476.1 L696.6 1475.9 L698.7 1476.2 L700.8 1476.4 L702.8 1476.4 L704.9 1476.7 L707.0 1476.2 L709.0 1478.3 L711.1 1477.6 L713.2 1477.2 L715.3 1478.5 L717.3 1478.3 L719.4 1479.1 L721.5 1478.6 L723.5 1478.6 L725.6 1478.5 L727.7 1479.5 L729.7 1480.6 L731.8 1480.3 L733.9 1480.4 L735.9 1480.1 L738.0 1482.9 L740.1 1481.5 L742.2 1483.4 L744.2 1482.0 L746.3 1482.5 L748.4 1482.9 L750.4 1483.0 L752.5 1483.7 L754.6 1484.8 L756.6 1484.5 L758.7 1484.3 L760.8 1485.6 L762.8 1485.9 L764.9 1487.1 L767.0 1485.9 L769.1 1487.4 L771.1 1487.9 L773.2 1488.1 L775.3 1488.8 L777.3 1488.8 L779.4 1488.1 L781.5 1488.9 L783.5 1488.9 L785.6 1489.3 L787.7 1491.4 L789.7 1490.9 L791.8 1490.6 L793.9 1490.5 L796.0 1493.5 L798.0 1493.9 L800.1 1492.9 L802.2 1493.8 L804.2 1494.6 L806.3 1493.9 L808.4 1494.9 L810.4 1496.1 L812.5 1494.7 L814.6 1494.7 L816.6 1494.4 L818.7 1494.3 L820.8 1494.9 L822.9 1495.3 L824.9 1495.7 L827.0 1496.5 L829.1 1495.7 L831.1 1494.8 L833.2 1495.1 L835.3 1494.2 L837.3 1495.8 L839.4 1496.9 L841.5 1495.2 L843.5 1495.1 L845.6 1496.6 L847.7 1497.0 L849.8 1495.8 L851.8 1495.4 L853.9 1496.7 L856.0 1496.1 L858.0 1496.4 L860.1 1496.7 L862.2 1496.8 L864.2 1495.8 L866.3 1496.1 L868.4 1496.4 L870.4 1497.7 L872.5 1494.7 L874.6 1496.5 L876.7 1496.0 L878.7 1496.7 L880.8 1495.6 L882.9 1496.9 L884.9 1495.8 L887.0 1496.0 L889.1 1495.3 L891.1 1496.6 L893.2 1496.3 L895.3 1496.1 L897.3 1494.4 L899.4 1496.9 L901.5 1495.6 L903.6 1496.2 L905.6 1495.5 L907.7 1495.2 L909.8 1495.5 L911.8 1495.3 L913.9 1495.2 L916.0 1495.7 L918.0 1495.3 L920.1 1496.3 L922.2 1495.3 L924.2 1495.5 L926.3 1495.0 L928.4 1494.3 L930.5 1494.5 L932.5 1494.4 L934.6 1493.9 L936.7 1496.3 L938.7 1494.4 L940.8 1494.8 L942.9 1494.9 L944.9 1495.8 L947.0 1494.6 L949.1 1494.4 L951.1 1494.6 L953.2 1495.5 L955.3 1495.2 L957.4 1495.2 L959.4 1494.8 L961.5 1495.5 L963.6 1496.4 L965.6 1496.7 L967.7 1496.9 L969.8 1497.1 L971.8 1497.9 L973.9 1497.3 L976.0 1498.5 L978.0 1498.9 L980.1 1498.4 L982.2 1499.3 L984.3 1499.5 L986.3 1501.2 L988.4 1499.6 L990.5 1500.7 L992.5 1501.2 L994.6 1501.3 L996.7 1502.0 L998.7 1503.1 L1000.8 1501.6 L1002.9 1503.7 L1004.9 1503.1 L1007.0 1502.8 L1009.1 1504.8 L1011.2 1504.5 L1013.2 1505.4 L1015.3 1504.3 L1017.4 1505.5 L1019.4 1506.2 L1021.5 1504.7 L1023.6 1505.2 L1025.6 1506.6 L1027.7 1505.3 L1029.8 1506.1 L1031.8 1504.5 L1033.9 1505.3 L1036.0 1507.0 L1038.1 1506.9 L1040.1 1507.4 L1042.2 1506.8 L1044.3 1506.9 L1046.3 1506.5 L1048.4 1507.0 L1050.5 1508.1 L1052.5 1507.7 L1054.6 1506.3 L1056.7 1506.5 L1058.7 1507.5 L1060.8 1507.5 L1062.9 1507.6 L1065.0 1507.5 L1067.0 1508.7 L1069.1 1507.0 L1071.2 1508.1 L1073.2 1507.6 L1075.3 1509.5 L1077.4 1507.6 L1079.4 1506.9 L1081.5 1509.4 L1083.6 1506.8 L1085.6 1507.6 L1087.7 1508.4 L1089.8 1509.0 L1091.9 1507.2 L1093.9 1507.8 L1096.0 1507.6 L1098.1 1508.2 L1100.1 1508.6 L1102.2 1507.4" fill="none" stroke="#FB6501" stroke-width="4.2" stroke-linejoin="round"/>
<path d="M274.5 1194.1 L276.6 1244.4 L278.6 1291.4 L280.7 1330.8 L282.8 1363.8 L284.8 1386.6 L286.9 1406.4 L289.0 1417.0 L291.1 1422.8 L293.1 1427.5 L295.2 1429.7 L297.3 1432.5 L299.3 1435.0 L301.4 1435.3 L303.5 1440.1 L305.5 1439.4 L307.6 1439.1 L309.7 1439.2 L311.7 1441.1 L313.8 1440.4 L315.9 1440.2 L318.0 1437.1 L320.0 1437.9 L322.1 1438.8 L324.2 1438.5 L326.2 1437.4 L328.3 1438.5 L330.4 1437.3 L332.4 1438.9 L334.5 1434.5 L336.6 1433.3 L338.6 1433.3 L340.7 1432.3 L342.8 1431.5 L344.9 1427.8 L346.9 1429.4 L349.0 1430.5 L351.1 1428.8 L353.1 1424.8 L355.2 1422.9 L357.3 1422.1 L359.3 1420.8 L361.4 1420.7 L363.5 1422.1 L365.5 1419.8 L367.6 1420.3 L369.7 1417.0 L371.8 1417.3 L373.8 1413.8 L375.9 1412.9 L378.0 1414.2 L380.0 1408.6 L382.1 1407.0 L384.2 1408.7 L386.2 1404.7 L388.3 1402.1 L390.4 1401.8 L392.4 1398.1 L394.5 1397.1 L396.6 1393.6 L398.7 1392.8 L400.7 1390.9 L402.8 1387.3 L404.9 1384.0 L406.9 1381.9 L409.0 1379.8 L411.1 1377.0 L413.1 1373.0 L415.2 1369.7 L417.3 1364.9 L419.3 1361.0 L421.4 1357.3 L423.5 1352.9 L425.6 1348.1 L427.6 1341.2 L429.7 1336.8 L431.8 1334.3 L433.8 1327.2 L435.9 1322.5 L438.0 1315.9 L440.0 1309.6 L442.1 1303.3 L444.2 1297.1 L446.2 1290.9 L448.3 1278.4 L450.4 1267.8 L452.5 1261.4 L454.5 1248.6 L456.6 1238.4 L458.7 1224.7 L460.7 1212.8 L462.8 1196.9 L464.9 1180.1 L466.9 1164.2 L469.0 1144.9 L471.1 1126.8 L473.1 1109.6 L475.2 1090.1 L477.3 1074.8 L479.4 1059.9 L481.4 1048.0 L483.5 1038.9 L485.6 1033.2 L487.6 1030.2 L489.7 1029.2 L491.8 1029.5 L493.8 1034.8 L495.9 1045.9 L498.0 1060.6 L500.0 1081.6 L502.1 1108.3 L504.2 1139.0 L506.3 1169.9 L508.3 1195.8 L510.4 1222.9 L512.5 1249.7 L514.5 1273.3 L516.6 1294.9 L518.7 1314.3 L520.7 1331.7 L522.8 1348.4 L524.9 1364.0 L526.9 1376.3 L529.0 1388.9 L531.1 1401.0 L533.2 1411.6 L535.2 1419.8 L537.3 1428.6 L539.4 1436.5 L541.4 1441.4 L543.5 1447.1 L545.6 1449.6 L547.6 1453.5 L549.7 1457.7 L551.8 1459.5 L553.8 1461.1 L555.9 1465.7 L558.0 1466.3 L560.1 1466.8 L562.1 1470.5 L564.2 1470.6 L566.3 1472.4 L568.3 1472.3 L570.4 1474.7 L572.5 1474.9 L574.5 1474.8 L576.6 1474.9 L578.7 1475.2 L580.7 1475.6 L582.8 1475.4 L584.9 1476.1 L587.0 1476.3 L589.0 1477.8 L591.1 1477.4 L593.2 1475.3 L595.2 1476.2 L597.3 1477.4 L599.4 1477.7 L601.4 1477.7 L603.5 1478.8 L605.6 1477.3 L607.6 1479.0 L609.7 1478.9 L611.8 1477.4 L613.9 1480.4 L615.9 1478.7 L618.0 1480.2 L620.1 1479.4 L622.1 1479.0 L624.2 1479.2 L626.3 1478.9 L628.3 1479.5 L630.4 1479.1 L632.5 1479.8 L634.5 1479.3 L636.6 1480.0 L638.7 1478.5 L640.8 1479.9 L642.8 1478.5 L644.9 1479.3 L647.0 1479.2 L649.0 1478.1 L651.1 1478.9 L653.2 1480.3 L655.2 1478.5 L657.3 1480.9 L659.4 1478.5 L661.4 1478.9 L663.5 1479.5 L665.6 1478.4 L667.7 1478.5 L669.7 1476.8 L671.8 1478.4 L673.9 1476.6 L675.9 1476.9 L678.0 1478.2 L680.1 1478.2 L682.1 1476.6 L684.2 1477.5 L686.3 1477.1 L688.4 1477.2 L690.4 1477.8 L692.5 1477.0 L694.6 1477.3 L696.6 1477.7 L698.7 1476.8 L700.8 1475.3 L702.8 1475.5 L704.9 1476.8 L707.0 1476.9 L709.0 1476.8 L711.1 1476.4 L713.2 1477.5 L715.3 1478.3 L717.3 1478.6 L719.4 1477.8 L721.5 1477.1 L723.5 1479.7 L725.6 1481.1 L727.7 1479.3 L729.7 1480.2 L731.8 1480.4 L733.9 1479.9 L735.9 1481.1 L738.0 1482.4 L740.1 1483.2 L742.2 1482.2 L744.2 1483.3 L746.3 1482.7 L748.4 1484.2 L750.4 1483.9 L752.5 1485.1 L754.6 1484.7 L756.6 1485.1 L758.7 1484.7 L760.8 1484.6 L762.8 1486.1 L764.9 1487.0 L767.0 1485.3 L769.1 1486.8 L771.1 1487.0 L773.2 1487.4 L775.3 1487.2 L777.3 1487.9 L779.4 1488.6 L781.5 1489.0 L783.5 1490.6 L785.6 1490.8 L787.7 1490.9 L789.7 1491.2 L791.8 1491.7 L793.9 1491.9 L796.0 1492.5 L798.0 1493.2 L800.1 1494.5 L802.2 1493.0 L804.2 1493.5 L806.3 1494.8 L808.4 1494.0 L810.4 1494.3 L812.5 1494.7 L814.6 1496.1 L816.6 1495.8 L818.7 1495.4 L820.8 1493.9 L822.9 1495.8 L824.9 1495.5 L827.0 1496.2 L829.1 1495.8 L831.1 1495.3 L833.2 1497.1 L835.3 1497.7 L837.3 1495.2 L839.4 1495.7 L841.5 1496.2 L843.5 1495.1 L845.6 1495.2 L847.7 1497.4 L849.8 1496.0 L851.8 1495.1 L853.9 1496.4 L856.0 1496.1 L858.0 1495.2 L860.1 1496.1 L862.2 1496.8 L864.2 1496.4 L866.3 1496.9 L868.4 1495.5 L870.4 1497.2 L872.5 1495.2 L874.6 1497.1 L876.7 1495.9 L878.7 1497.0 L880.8 1496.1 L882.9 1495.2 L884.9 1495.1 L887.0 1495.0 L889.1 1496.0 L891.1 1495.8 L893.2 1495.8 L895.3 1495.5 L897.3 1496.2 L899.4 1495.1 L901.5 1495.6 L903.6 1495.0 L905.6 1495.4 L907.7 1495.2 L909.8 1496.1 L911.8 1495.8 L913.9 1496.3 L916.0 1495.5 L918.0 1495.4 L920.1 1494.5 L922.2 1496.0 L924.2 1492.6 L926.3 1495.0 L928.4 1493.9 L930.5 1494.0 L932.5 1496.6 L934.6 1494.9 L936.7 1493.6 L938.7 1496.5 L940.8 1494.2 L942.9 1495.5 L944.9 1495.3 L947.0 1494.9 L949.1 1496.5 L951.1 1495.2 L953.2 1496.0 L955.3 1496.2 L957.4 1495.4 L959.4 1493.6 L961.5 1496.1 L963.6 1496.2 L965.6 1496.8 L967.7 1497.6 L969.8 1497.1 L971.8 1496.5 L973.9 1497.7 L976.0 1497.4 L978.0 1498.5 L980.1 1496.8 L982.2 1500.2 L984.3 1498.9 L986.3 1499.4 L988.4 1500.0 L990.5 1501.5 L992.5 1502.0 L994.6 1501.8 L996.7 1502.1 L998.7 1503.5 L1000.8 1503.8 L1002.9 1503.0 L1004.9 1503.1 L1007.0 1504.5 L1009.1 1504.9 L1011.2 1505.1 L1013.2 1503.0 L1015.3 1504.7 L1017.4 1505.3 L1019.4 1504.7 L1021.5 1504.0 L1023.6 1505.0 L1025.6 1507.0 L1027.7 1506.2 L1029.8 1506.6 L1031.8 1506.7 L1033.9 1507.4 L1036.0 1506.9 L1038.1 1507.5 L1040.1 1506.6 L1042.2 1506.9 L1044.3 1508.0 L1046.3 1508.3 L1048.4 1507.4 L1050.5 1506.7 L1052.5 1506.8 L1054.6 1507.3 L1056.7 1509.7 L1058.7 1507.7 L1060.8 1508.0 L1062.9 1507.7 L1065.0 1508.4 L1067.0 1507.9 L1069.1 1508.1 L1071.2 1505.7 L1073.2 1507.2 L1075.3 1507.9 L1077.4 1507.8 L1079.4 1507.9 L1081.5 1507.7 L1083.6 1508.2 L1085.6 1507.9 L1087.7 1507.2 L1089.8 1507.4 L1091.9 1507.8 L1093.9 1507.0 L1096.0 1507.9 L1098.1 1508.7 L1100.1 1509.3 L1102.2 1508.5" fill="none" stroke="#6699CC" stroke-width="4.2" stroke-linejoin="round"/>
<rect x="274.5" y="903.0" width="827.7" height="665.5" fill="none" stroke="#000" stroke-width="7.5"/>
<line x1="285.6" y1="2334.4" x2="300.1" y2="2334.4" stroke="#000" stroke-width="7" stroke-linecap="butt"/>
<text x="274.6" y="2351.7" font-size="56" text-anchor="end" >0.0</text>
<line x1="285.6" y1="2186.1" x2="300.1" y2="2186.1" stroke="#000" stroke-width="7" stroke-linecap="butt"/>
<text x="274.6" y="2203.4" font-size="56" text-anchor="end" >0.1</text>
<line x1="285.6" y1="2037.7" x2="300.1" y2="2037.7" stroke="#000" stroke-width="7" stroke-linecap="butt"/>
<text x="274.6" y="2055.0" font-size="56" text-anchor="end" >0.2</text>
<line x1="285.6" y1="1889.4" x2="300.1" y2="1889.4" stroke="#000" stroke-width="7" stroke-linecap="butt"/>
<text x="274.6" y="1906.7" font-size="56" text-anchor="end" >0.3</text>
<line x1="285.6" y1="1741.0" x2="300.1" y2="1741.0" stroke="#000" stroke-width="7" stroke-linecap="butt"/>
<text x="274.6" y="1758.3" font-size="56" text-anchor="end" >0.4</text>
<line x1="293.8" y1="2408.6" x2="300.1" y2="2408.6" stroke="#000" stroke-width="7" stroke-linecap="butt"/>
<line x1="293.8" y1="2260.2" x2="300.1" y2="2260.2" stroke="#000" stroke-width="7" stroke-linecap="butt"/>
<line x1="293.8" y1="2111.9" x2="300.1" y2="2111.9" stroke="#000" stroke-width="7" stroke-linecap="butt"/>
<line x1="293.8" y1="1963.5" x2="300.1" y2="1963.5" stroke="#000" stroke-width="7" stroke-linecap="butt"/>
<line x1="293.8" y1="1815.2" x2="300.1" y2="1815.2" stroke="#000" stroke-width="7" stroke-linecap="butt"/>
<line x1="300.1" y1="2408.6" x2="300.1" y2="2421.6" stroke="#000" stroke-width="7" stroke-linecap="butt"/>
<text x="300.1" y="2474.6" font-size="56" text-anchor="middle" >300</text>
<line x1="507.1" y1="2408.6" x2="507.1" y2="2421.6" stroke="#000" stroke-width="7" stroke-linecap="butt"/>
<text x="507.1" y="2474.6" font-size="56" text-anchor="middle" >400</text>
<line x1="714.0" y1="2408.6" x2="714.0" y2="2421.6" stroke="#000" stroke-width="7" stroke-linecap="butt"/>
<text x="714.0" y="2474.6" font-size="56" text-anchor="middle" >500</text>
<line x1="921.0" y1="2408.6" x2="921.0" y2="2421.6" stroke="#000" stroke-width="7" stroke-linecap="butt"/>
<text x="921.0" y="2474.6" font-size="56" text-anchor="middle" >600</text>
<line x1="1128.0" y1="2408.6" x2="1128.0" y2="2421.6" stroke="#000" stroke-width="7" stroke-linecap="butt"/>
<text x="1128.0" y="2474.6" font-size="56" text-anchor="middle" >700</text>
<line x1="403.6" y1="2408.6" x2="403.6" y2="2416.6" stroke="#000" stroke-width="7" stroke-linecap="butt"/>
<line x1="610.6" y1="2408.6" x2="610.6" y2="2416.6" stroke="#000" stroke-width="7" stroke-linecap="butt"/>
<line x1="817.5" y1="2408.6" x2="817.5" y2="2416.6" stroke="#000" stroke-width="7" stroke-linecap="butt"/>
<line x1="1024.5" y1="2408.6" x2="1024.5" y2="2416.6" stroke="#000" stroke-width="7" stroke-linecap="butt"/>
<path d="M300.1 2178.7 L302.2 2180.3 L304.2 2181.6 L306.3 2184.9 L308.4 2186.8 L310.4 2187.3 L312.5 2188.8 L314.6 2191.8 L316.7 2191.7 L318.7 2190.3 L320.8 2189.8 L322.9 2188.3 L324.9 2188.0 L327.0 2180.8 L329.1 2178.5 L331.1 2175.4 L333.2 2172.2 L335.3 2169.1 L337.4 2161.5 L339.4 2156.0 L341.5 2148.3 L343.6 2148.0 L345.6 2138.8 L347.7 2138.1 L349.8 2132.5 L351.8 2133.7 L353.9 2128.3 L356.0 2123.9 L358.1 2123.4 L360.1 2123.9 L362.2 2119.1 L364.3 2114.7 L366.3 2115.8 L368.4 2113.1 L370.5 2107.0 L372.5 2106.4 L374.6 2100.3 L376.7 2101.1 L378.8 2099.5 L380.8 2094.7 L382.9 2087.5 L385.0 2089.4 L387.0 2085.2 L389.1 2082.3 L391.2 2082.3 L393.2 2076.0 L395.3 2075.6 L397.4 2073.0 L399.4 2075.1 L401.5 2073.2 L403.6 2073.2 L405.7 2066.2 L407.7 2064.4 L409.8 2060.6 L411.9 2057.3 L413.9 2059.0 L416.0 2057.3 L418.1 2054.3 L420.1 2050.7 L422.2 2053.8 L424.3 2049.5 L426.4 2049.7 L428.4 2048.2 L430.5 2044.3 L432.6 2045.6 L434.6 2044.1 L436.7 2038.5 L438.8 2037.3 L440.8 2035.1 L442.9 2032.0 L445.0 2027.9 L447.1 2026.7 L449.1 2021.4 L451.2 2018.9 L453.3 2013.6 L455.3 2010.8 L457.4 2008.5 L459.5 2007.4 L461.5 2003.6 L463.6 2001.8 L465.7 1991.8 L467.7 1994.6 L469.8 1989.9 L471.9 1985.2 L474.0 1987.3 L476.0 1983.2 L478.1 1979.2 L480.2 1977.4 L482.2 1974.7 L484.3 1970.0 L486.4 1963.2 L488.4 1961.2 L490.5 1959.7 L492.6 1957.1 L494.7 1956.3 L496.7 1952.2 L498.8 1950.4 L500.9 1950.2 L502.9 1948.6 L505.0 1950.2 L507.1 1953.4 L509.1 1957.5 L511.2 1960.8 L513.3 1965.1 L515.4 1968.5 L517.4 1973.6 L519.5 1979.1 L521.6 1985.6 L523.6 1992.3 L525.7 1996.9 L527.8 2007.7 L529.8 2012.7 L531.9 2021.8 L534.0 2031.1 L536.1 2042.1 L538.1 2053.1 L540.2 2064.9 L542.3 2075.0 L544.3 2083.3 L546.4 2094.0 L548.5 2100.5 L550.5 2108.0 L552.6 2118.4 L554.7 2121.5 L556.7 2124.0 L558.8 2127.6 L560.9 2130.8 L563.0 2133.6 L565.0 2136.3 L567.1 2139.4 L569.2 2142.2 L571.2 2147.7 L573.3 2151.0 L575.4 2157.3 L577.4 2160.0 L579.5 2164.9 L581.6 2166.5 L583.7 2169.6 L585.7 2175.1 L587.8 2180.5 L589.9 2183.0 L591.9 2186.1 L594.0 2188.8 L596.1 2190.8 L598.1 2193.5 L600.2 2199.2 L602.3 2198.1 L604.4 2202.1 L606.4 2204.4 L608.5 2204.9 L610.6 2208.6 L612.6 2211.8 L614.7 2214.0 L616.8 2215.0 L618.8 2216.5 L620.9 2218.2 L623.0 2221.8 L625.1 2224.3 L627.1 2224.5 L629.2 2228.5 L631.3 2228.8 L633.3 2231.8 L635.4 2233.7 L637.5 2235.9 L639.5 2237.2 L641.6 2239.6 L643.7 2241.5 L645.7 2242.6 L647.8 2244.6 L649.9 2245.3 L652.0 2247.0 L654.0 2248.7 L656.1 2250.1 L658.2 2251.4 L660.2 2251.0 L662.3 2253.8 L664.4 2255.6 L666.4 2256.5 L668.5 2256.8 L670.6 2258.8 L672.7 2259.9 L674.7 2261.2 L676.8 2262.0 L678.9 2263.1 L680.9 2264.4 L683.0 2267.5 L685.1 2268.3 L687.1 2271.0 L689.2 2269.2 L691.3 2270.1 L693.4 2271.0 L695.4 2273.1 L697.5 2273.2 L699.6 2275.3 L701.6 2276.4 L703.7 2278.6 L705.8 2278.8 L707.8 2279.5 L709.9 2278.9 L712.0 2279.0 L714.0 2281.5 L716.1 2281.2 L718.2 2281.8 L720.3 2283.2 L722.3 2284.5 L724.4 2284.1 L726.5 2285.1 L728.5 2284.5 L730.6 2284.7 L732.7 2285.1 L734.7 2285.4 L736.8 2285.2 L738.9 2286.7 L741.0 2285.4 L743.0 2288.0 L745.1 2286.8 L747.2 2286.8 L749.2 2288.2 L751.3 2289.2 L753.4 2287.6 L755.4 2289.1 L757.5 2288.1 L759.6 2288.5 L761.7 2289.6 L763.7 2290.0 L765.8 2289.5 L767.9 2290.4 L769.9 2292.0 L772.0 2291.5 L774.1 2291.6 L776.1 2292.3 L778.2 2292.7 L780.3 2293.4 L782.4 2293.8 L784.4 2294.9 L786.5 2295.8 L788.6 2293.9 L790.6 2295.8 L792.7 2295.4 L794.8 2297.2 L796.8 2296.0 L798.9 2297.2 L801.0 2294.0 L803.0 2297.8 L805.1 2297.9 L807.2 2296.3 L809.3 2296.3 L811.3 2299.2 L813.4 2297.1 L815.5 2296.6 L817.5 2298.3 L819.6 2296.5 L821.7 2297.4 L823.7 2297.6 L825.8 2296.8 L827.9 2296.6 L830.0 2297.1 L832.0 2293.6 L834.1 2295.6 L836.2 2295.5 L838.2 2293.8 L840.3 2294.2 L842.4 2292.7 L844.4 2293.7 L846.5 2292.9 L848.6 2292.8 L850.7 2292.5 L852.7 2292.5 L854.8 2292.0 L856.9 2290.0 L858.9 2291.7 L861.0 2291.2 L863.1 2290.7 L865.1 2289.5 L867.2 2289.3 L869.3 2288.5 L871.4 2290.2 L873.4 2288.6 L875.5 2288.8 L877.6 2288.8 L879.6 2288.3 L881.7 2290.2 L883.8 2288.3 L885.8 2288.4 L887.9 2289.9 L890.0 2288.8 L892.0 2287.4 L894.1 2289.2 L896.2 2288.5 L898.3 2289.3 L900.3 2290.0 L902.4 2290.2 L904.5 2290.0 L906.5 2288.6 L908.6 2289.3 L910.7 2290.8 L912.7 2289.5 L914.8 2290.8 L916.9 2291.5 L919.0 2290.8 L921.0 2292.2 L923.1 2293.2 L925.2 2291.2 L927.2 2294.8 L929.3 2293.5 L931.4 2296.4 L933.4 2296.1 L935.5 2297.3 L937.6 2298.6 L939.7 2301.2 L941.7 2300.3 L943.8 2301.1 L945.9 2302.6 L947.9 2302.5 L950.0 2302.1 L952.1 2304.2 L954.1 2303.9 L956.2 2305.6 L958.3 2304.8 L960.4 2305.0 L962.4 2303.9 L964.5 2305.7 L966.6 2306.6 L968.6 2306.2 L970.7 2308.7 L972.8 2307.4 L974.8 2309.2 L976.9 2309.8 L979.0 2308.7 L981.0 2310.0 L983.1 2309.5 L985.2 2312.5 L987.3 2311.6 L989.3 2312.9 L991.4 2313.3 L993.5 2315.4 L995.5 2313.6 L997.6 2314.9 L999.7 2316.7 L1001.7 2317.7 L1003.8 2318.0 L1005.9 2316.7 L1008.0 2318.7 L1010.0 2319.5 L1012.1 2319.4 L1014.2 2320.5 L1016.2 2320.9 L1018.3 2321.0 L1020.4 2321.8 L1022.4 2321.8 L1024.5 2324.0 L1026.6 2323.3 L1028.7 2324.0 L1030.7 2323.8 L1032.8 2324.1 L1034.9 2324.7 L1036.9 2324.6 L1039.0 2323.6 L1041.1 2325.0 L1043.1 2325.7 L1045.2 2324.2 L1047.3 2324.0 L1049.3 2325.2 L1051.4 2325.0 L1053.5 2325.9 L1055.6 2325.5 L1057.6 2324.4 L1059.7 2324.8 L1061.8 2325.4 L1063.8 2325.9 L1065.9 2327.1 L1068.0 2325.5 L1070.0 2325.5 L1072.1 2325.0 L1074.2 2324.3 L1076.3 2325.8 L1078.3 2325.3 L1080.4 2327.2 L1082.5 2325.3 L1084.5 2325.6 L1086.6 2325.2 L1088.7 2325.9 L1090.7 2326.1 L1092.8 2325.3 L1094.9 2327.2 L1097.0 2326.1 L1099.0 2325.8 L1101.1 2327.4 L1103.2 2327.8 L1105.2 2326.4 L1107.3 2326.7 L1109.4 2326.4 L1111.4 2326.3 L1113.5 2327.6 L1115.6 2326.7 L1117.7 2326.0 L1119.7 2327.3 L1121.8 2327.2 L1123.9 2328.0 L1125.9 2326.3 L1128.0 2325.3" fill="none" stroke="#515151" stroke-width="4.2" stroke-linejoin="round"/>
<path d="M300.1 2163.8 L302.2 2169.4 L304.2 2175.7 L306.3 2182.4 L308.4 2187.1 L310.4 2191.8 L312.5 2195.3 L314.6 2197.5 L316.7 2199.1 L318.7 2200.4 L320.8 2199.6 L322.9 2199.6 L324.9 2199.8 L327.0 2194.1 L329.1 2191.8 L331.1 2192.1 L333.2 2183.9 L335.3 2182.6 L337.4 2179.0 L339.4 2171.1 L341.5 2175.1 L343.6 2169.4 L345.6 2161.6 L347.7 2160.4 L349.8 2158.9 L351.8 2151.6 L353.9 2151.0 L356.0 2151.9 L358.1 2148.4 L360.1 2143.2 L362.2 2139.1 L364.3 2144.0 L366.3 2137.2 L368.4 2135.9 L370.5 2136.0 L372.5 2130.3 L374.6 2130.4 L376.7 2125.7 L378.8 2118.9 L380.8 2118.3 L382.9 2115.2 L385.0 2112.9 L387.0 2110.9 L389.1 2107.3 L391.2 2109.1 L393.2 2105.3 L395.3 2100.8 L397.4 2101.6 L399.4 2099.0 L401.5 2093.7 L403.6 2091.1 L405.7 2093.2 L407.7 2091.6 L409.8 2087.1 L411.9 2085.8 L413.9 2085.8 L416.0 2081.7 L418.1 2080.3 L420.1 2079.7 L422.2 2072.7 L424.3 2074.2 L426.4 2073.6 L428.4 2071.5 L430.5 2066.0 L432.6 2067.6 L434.6 2068.9 L436.7 2064.5 L438.8 2062.4 L440.8 2060.8 L442.9 2056.2 L445.0 2053.2 L447.1 2050.6 L449.1 2048.0 L451.2 2042.0 L453.3 2043.1 L455.3 2034.8 L457.4 2032.6 L459.5 2028.3 L461.5 2029.4 L463.6 2016.5 L465.7 2017.9 L467.7 2011.1 L469.8 2003.1 L471.9 2000.4 L474.0 1995.0 L476.0 1993.6 L478.1 1985.2 L480.2 1979.2 L482.2 1973.6 L484.3 1970.9 L486.4 1965.6 L488.4 1961.3 L490.5 1959.3 L492.6 1956.2 L494.7 1950.9 L496.7 1950.6 L498.8 1946.1 L500.9 1945.0 L502.9 1942.7 L505.0 1945.2 L507.1 1946.4 L509.1 1949.7 L511.2 1953.2 L513.3 1956.4 L515.4 1961.9 L517.4 1966.4 L519.5 1972.3 L521.6 1977.7 L523.6 1985.4 L525.7 1994.0 L527.8 2001.3 L529.8 2009.8 L531.9 2019.9 L534.0 2027.4 L536.1 2039.6 L538.1 2051.7 L540.2 2065.8 L542.3 2077.4 L544.3 2088.1 L546.4 2102.3 L548.5 2112.1 L550.5 2122.8 L552.6 2132.7 L554.7 2140.3 L556.7 2148.7 L558.8 2154.4 L560.9 2160.4 L563.0 2164.7 L565.0 2166.5 L567.1 2172.4 L569.2 2177.8 L571.2 2179.4 L573.3 2184.9 L575.4 2191.2 L577.4 2191.9 L579.5 2194.6 L581.6 2198.5 L583.7 2200.7 L585.7 2205.5 L587.8 2207.9 L589.9 2212.1 L591.9 2213.6 L594.0 2214.7 L596.1 2217.8 L598.1 2220.2 L600.2 2224.0 L602.3 2224.5 L604.4 2227.2 L606.4 2227.1 L608.5 2230.2 L610.6 2231.0 L612.6 2233.9 L614.7 2233.1 L616.8 2237.5 L618.8 2238.1 L620.9 2237.6 L623.0 2241.4 L625.1 2244.0 L627.1 2244.3 L629.2 2245.6 L631.3 2247.2 L633.3 2251.2 L635.4 2250.7 L637.5 2254.2 L639.5 2252.0 L641.6 2254.9 L643.7 2256.6 L645.7 2256.9 L647.8 2258.2 L649.9 2260.8 L652.0 2259.5 L654.0 2262.0 L656.1 2264.1 L658.2 2262.1 L660.2 2262.7 L662.3 2263.6 L664.4 2264.9 L666.4 2266.9 L668.5 2266.0 L670.6 2265.8 L672.7 2267.4 L674.7 2267.5 L676.8 2270.3 L678.9 2269.5 L680.9 2270.4 L683.0 2273.4 L685.1 2274.4 L687.1 2274.5 L689.2 2274.6 L691.3 2275.1 L693.4 2276.4 L695.4 2277.1 L697.5 2278.0 L699.6 2278.6 L701.6 2279.0 L703.7 2279.8 L705.8 2281.0 L707.8 2281.4 L709.9 2282.6 L712.0 2282.1 L714.0 2283.7 L716.1 2282.3 L718.2 2284.2 L720.3 2284.3 L722.3 2285.7 L724.4 2285.7 L726.5 2285.6 L728.5 2286.2 L730.6 2287.1 L732.7 2287.9 L734.7 2287.2 L736.8 2287.5 L738.9 2287.5 L741.0 2287.2 L743.0 2289.0 L745.1 2290.8 L747.2 2289.5 L749.2 2291.4 L751.3 2291.2 L753.4 2289.5 L755.4 2290.3 L757.5 2291.7 L759.6 2292.0 L761.7 2291.9 L763.7 2293.8 L765.8 2292.2 L767.9 2293.4 L769.9 2291.9 L772.0 2294.9 L774.1 2293.5 L776.1 2295.4 L778.2 2294.3 L780.3 2296.5 L782.4 2295.3 L784.4 2296.8 L786.5 2297.5 L788.6 2297.3 L790.6 2297.1 L792.7 2297.5 L794.8 2296.8 L796.8 2297.8 L798.9 2301.1 L801.0 2299.4 L803.0 2301.0 L805.1 2299.8 L807.2 2299.1 L809.3 2301.0 L811.3 2300.9 L813.4 2299.8 L815.5 2300.2 L817.5 2298.6 L819.6 2299.6 L821.7 2299.3 L823.7 2298.1 L825.8 2300.0 L827.9 2299.4 L830.0 2300.0 L832.0 2298.7 L834.1 2297.8 L836.2 2297.3 L838.2 2298.3 L840.3 2298.6 L842.4 2298.4 L844.4 2298.8 L846.5 2297.2 L848.6 2295.9 L850.7 2299.0 L852.7 2298.6 L854.8 2295.2 L856.9 2297.6 L858.9 2295.6 L861.0 2296.7 L863.1 2294.6 L865.1 2294.3 L867.2 2294.6 L869.3 2293.8 L871.4 2294.3 L873.4 2293.7 L875.5 2292.5 L877.6 2293.1 L879.6 2294.6 L881.7 2294.8 L883.8 2294.3 L885.8 2294.3 L887.9 2294.1 L890.0 2294.8 L892.0 2293.8 L894.1 2294.4 L896.2 2294.2 L898.3 2294.6 L900.3 2294.2 L902.4 2295.9 L904.5 2293.6 L906.5 2294.9 L908.6 2294.9 L910.7 2295.0 L912.7 2294.7 L914.8 2295.2 L916.9 2295.8 L919.0 2296.4 L921.0 2297.9 L923.1 2296.6 L925.2 2297.5 L927.2 2298.1 L929.3 2296.4 L931.4 2301.0 L933.4 2300.1 L935.5 2300.0 L937.6 2301.0 L939.7 2301.6 L941.7 2304.6 L943.8 2305.1 L945.9 2304.2 L947.9 2305.5 L950.0 2304.2 L952.1 2306.0 L954.1 2306.4 L956.2 2306.6 L958.3 2307.7 L960.4 2307.7 L962.4 2308.8 L964.5 2308.6 L966.6 2309.4 L968.6 2309.1 L970.7 2310.9 L972.8 2311.4 L974.8 2310.1 L976.9 2310.7 L979.0 2312.2 L981.0 2312.0 L983.1 2313.2 L985.2 2311.0 L987.3 2314.7 L989.3 2312.3 L991.4 2315.2 L993.5 2314.7 L995.5 2315.9 L997.6 2316.6 L999.7 2316.1 L1001.7 2316.8 L1003.8 2318.4 L1005.9 2319.6 L1008.0 2317.6 L1010.0 2318.8 L1012.1 2320.6 L1014.2 2321.5 L1016.2 2321.6 L1018.3 2322.3 L1020.4 2321.8 L1022.4 2324.2 L1024.5 2323.8 L1026.6 2324.9 L1028.7 2323.3 L1030.7 2323.1 L1032.8 2324.9 L1034.9 2324.5 L1036.9 2323.8 L1039.0 2325.4 L1041.1 2326.1 L1043.1 2324.5 L1045.2 2325.0 L1047.3 2325.8 L1049.3 2324.4 L1051.4 2325.6 L1053.5 2327.5 L1055.6 2325.7 L1057.6 2326.1 L1059.7 2324.5 L1061.8 2326.2 L1063.8 2326.5 L1065.9 2326.0 L1068.0 2326.2 L1070.0 2327.8 L1072.1 2326.5 L1074.2 2326.9 L1076.3 2325.5 L1078.3 2324.6 L1080.4 2327.8 L1082.5 2327.8 L1084.5 2327.7 L1086.6 2327.6 L1088.7 2327.7 L1090.7 2327.1 L1092.8 2326.2 L1094.9 2328.3 L1097.0 2328.6 L1099.0 2328.9 L1101.1 2326.3 L1103.2 2326.1 L1105.2 2328.7 L1107.3 2328.8 L1109.4 2327.3 L1111.4 2326.5 L1113.5 2326.5 L1115.6 2327.3 L1117.7 2326.9 L1119.7 2327.2 L1121.8 2328.0 L1123.9 2325.8 L1125.9 2327.5 L1128.0 2328.5" fill="none" stroke="#F14040" stroke-width="4.2" stroke-linejoin="round"/>
<path d="M300.1 2162.9 L302.2 2171.4 L304.2 2176.4 L306.3 2180.9 L308.4 2187.8 L310.4 2189.8 L312.5 2192.6 L314.6 2197.2 L316.7 2200.6 L318.7 2201.1 L320.8 2200.6 L322.9 2200.8 L324.9 2199.8 L327.0 2197.3 L329.1 2194.3 L331.1 2189.4 L333.2 2189.5 L335.3 2179.7 L337.4 2177.0 L339.4 2172.8 L341.5 2171.5 L343.6 2162.8 L345.6 2163.5 L347.7 2156.2 L349.8 2154.9 L351.8 2156.1 L353.9 2152.7 L356.0 2145.7 L358.1 2145.1 L360.1 2145.0 L362.2 2142.0 L364.3 2139.6 L366.3 2139.1 L368.4 2135.5 L370.5 2133.8 L372.5 2130.7 L374.6 2126.3 L376.7 2126.4 L378.8 2120.4 L380.8 2119.0 L382.9 2115.0 L385.0 2112.2 L387.0 2109.0 L389.1 2107.8 L391.2 2105.3 L393.2 2104.8 L395.3 2101.1 L397.4 2101.9 L399.4 2098.5 L401.5 2094.5 L403.6 2094.0 L405.7 2091.0 L407.7 2092.0 L409.8 2085.4 L411.9 2087.3 L413.9 2083.6 L416.0 2082.8 L418.1 2079.4 L420.1 2080.5 L422.2 2080.2 L424.3 2080.4 L426.4 2075.7 L428.4 2075.7 L430.5 2070.5 L432.6 2066.8 L434.6 2071.8 L436.7 2067.6 L438.8 2061.8 L440.8 2057.2 L442.9 2056.0 L445.0 2052.9 L447.1 2049.4 L449.1 2045.9 L451.2 2040.3 L453.3 2038.7 L455.3 2038.7 L457.4 2033.4 L459.5 2028.3 L461.5 2026.4 L463.6 2023.2 L465.7 2021.3 L467.7 2019.0 L469.8 2013.2 L471.9 2011.9 L474.0 2009.3 L476.0 2004.1 L478.1 1997.3 L480.2 1987.1 L482.2 1983.7 L484.3 1973.7 L486.4 1967.4 L488.4 1963.6 L490.5 1949.6 L492.6 1941.5 L494.7 1932.8 L496.7 1923.4 L498.8 1912.0 L500.9 1907.0 L502.9 1899.1 L505.0 1891.9 L507.1 1888.7 L509.1 1888.2 L511.2 1884.9 L513.3 1885.6 L515.4 1888.7 L517.4 1893.0 L519.5 1901.5 L521.6 1911.1 L523.6 1921.4 L525.7 1938.4 L527.8 1953.5 L529.8 1970.9 L531.9 1991.9 L534.0 2012.6 L536.1 2033.5 L538.1 2050.9 L540.2 2069.0 L542.3 2083.2 L544.3 2097.2 L546.4 2111.2 L548.5 2122.9 L550.5 2131.9 L552.6 2139.9 L554.7 2147.1 L556.7 2149.9 L558.8 2154.4 L560.9 2158.5 L563.0 2164.8 L565.0 2166.9 L567.1 2169.8 L569.2 2175.4 L571.2 2181.5 L573.3 2184.2 L575.4 2188.1 L577.4 2191.6 L579.5 2195.6 L581.6 2198.3 L583.7 2202.6 L585.7 2205.1 L587.8 2209.0 L589.9 2211.1 L591.9 2212.8 L594.0 2216.5 L596.1 2217.6 L598.1 2221.1 L600.2 2222.6 L602.3 2224.4 L604.4 2224.9 L606.4 2228.5 L608.5 2228.4 L610.6 2232.6 L612.6 2233.1 L614.7 2233.9 L616.8 2235.8 L618.8 2239.1 L620.9 2241.0 L623.0 2240.8 L625.1 2244.3 L627.1 2244.3 L629.2 2246.9 L631.3 2247.9 L633.3 2247.3 L635.4 2249.5 L637.5 2251.5 L639.5 2254.8 L641.6 2254.6 L643.7 2256.1 L645.7 2257.5 L647.8 2257.4 L649.9 2261.3 L652.0 2260.6 L654.0 2261.6 L656.1 2263.2 L658.2 2261.7 L660.2 2265.1 L662.3 2264.7 L664.4 2265.3 L666.4 2268.0 L668.5 2268.0 L670.6 2268.3 L672.7 2267.4 L674.7 2268.0 L676.8 2269.1 L678.9 2270.2 L680.9 2273.2 L683.0 2271.9 L685.1 2273.4 L687.1 2272.8 L689.2 2273.4 L691.3 2273.4 L693.4 2275.6 L695.4 2276.3 L697.5 2278.8 L699.6 2278.6 L701.6 2280.6 L703.7 2279.4 L705.8 2282.0 L707.8 2281.8 L709.9 2283.0 L712.0 2283.2 L714.0 2282.9 L716.1 2284.2 L718.2 2283.9 L720.3 2285.5 L722.3 2283.7 L724.4 2286.0 L726.5 2284.9 L728.5 2284.2 L730.6 2288.7 L732.7 2287.8 L734.7 2287.4 L736.8 2286.6 L738.9 2288.4 L741.0 2288.0 L743.0 2289.3 L745.1 2288.5 L747.2 2290.5 L749.2 2288.9 L751.3 2292.7 L753.4 2292.1 L755.4 2289.1 L757.5 2290.9 L759.6 2292.3 L761.7 2289.9 L763.7 2291.3 L765.8 2291.6 L767.9 2293.4 L769.9 2292.9 L772.0 2293.4 L774.1 2295.8 L776.1 2294.2 L778.2 2295.3 L780.3 2294.4 L782.4 2294.8 L784.4 2297.0 L786.5 2297.3 L788.6 2297.0 L790.6 2296.9 L792.7 2298.2 L794.8 2298.3 L796.8 2297.9 L798.9 2298.4 L801.0 2298.0 L803.0 2299.0 L805.1 2300.3 L807.2 2301.2 L809.3 2299.0 L811.3 2300.2 L813.4 2300.3 L815.5 2300.2 L817.5 2301.4 L819.6 2300.3 L821.7 2302.2 L823.7 2300.0 L825.8 2300.3 L827.9 2297.7 L830.0 2298.7 L832.0 2299.1 L834.1 2298.6 L836.2 2297.8 L838.2 2298.9 L840.3 2298.2 L842.4 2298.1 L844.4 2295.3 L846.5 2297.2 L848.6 2298.9 L850.7 2296.2 L852.7 2294.3 L854.8 2297.3 L856.9 2293.0 L858.9 2295.9 L861.0 2294.7 L863.1 2295.8 L865.1 2295.3 L867.2 2295.9 L869.3 2295.5 L871.4 2296.3 L873.4 2293.2 L875.5 2295.1 L877.6 2293.7 L879.6 2293.7 L881.7 2294.6 L883.8 2294.0 L885.8 2294.2 L887.9 2294.7 L890.0 2294.2 L892.0 2294.3 L894.1 2295.4 L896.2 2295.7 L898.3 2295.4 L900.3 2294.6 L902.4 2293.6 L904.5 2293.7 L906.5 2294.9 L908.6 2294.5 L910.7 2295.4 L912.7 2294.7 L914.8 2295.8 L916.9 2295.7 L919.0 2296.5 L921.0 2296.5 L923.1 2295.0 L925.2 2298.4 L927.2 2297.8 L929.3 2299.1 L931.4 2298.5 L933.4 2298.5 L935.5 2301.3 L937.6 2304.5 L939.7 2302.2 L941.7 2303.0 L943.8 2305.8 L945.9 2305.0 L947.9 2305.3 L950.0 2307.9 L952.1 2305.6 L954.1 2306.2 L956.2 2306.8 L958.3 2308.4 L960.4 2308.5 L962.4 2308.8 L964.5 2308.1 L966.6 2309.8 L968.6 2308.0 L970.7 2309.4 L972.8 2312.1 L974.8 2309.0 L976.9 2310.8 L979.0 2311.9 L981.0 2311.7 L983.1 2314.0 L985.2 2312.6 L987.3 2315.6 L989.3 2314.8 L991.4 2313.2 L993.5 2313.9 L995.5 2316.0 L997.6 2317.2 L999.7 2316.1 L1001.7 2317.6 L1003.8 2318.0 L1005.9 2318.3 L1008.0 2320.5 L1010.0 2319.4 L1012.1 2322.7 L1014.2 2320.0 L1016.2 2323.3 L1018.3 2323.0 L1020.4 2323.6 L1022.4 2322.7 L1024.5 2323.1 L1026.6 2323.9 L1028.7 2324.0 L1030.7 2324.3 L1032.8 2325.0 L1034.9 2326.8 L1036.9 2327.3 L1039.0 2327.4 L1041.1 2325.4 L1043.1 2325.6 L1045.2 2325.7 L1047.3 2325.4 L1049.3 2326.0 L1051.4 2326.8 L1053.5 2327.3 L1055.6 2327.8 L1057.6 2325.0 L1059.7 2325.3 L1061.8 2327.5 L1063.8 2326.6 L1065.9 2326.0 L1068.0 2325.0 L1070.0 2327.1 L1072.1 2326.5 L1074.2 2325.6 L1076.3 2328.4 L1078.3 2327.5 L1080.4 2326.9 L1082.5 2327.6 L1084.5 2325.0 L1086.6 2326.3 L1088.7 2326.9 L1090.7 2328.0 L1092.8 2326.4 L1094.9 2326.7 L1097.0 2327.8 L1099.0 2327.7 L1101.1 2328.7 L1103.2 2327.5 L1105.2 2326.6 L1107.3 2326.5 L1109.4 2326.9 L1111.4 2326.7 L1113.5 2328.1 L1115.6 2328.0 L1117.7 2326.4 L1119.7 2327.1 L1121.8 2328.3 L1123.9 2327.1 L1125.9 2326.8 L1128.0 2326.9" fill="none" stroke="#1A6FDF" stroke-width="4.2" stroke-linejoin="round"/>
<path d="M300.1 2154.8 L302.2 2165.5 L304.2 2173.3 L306.3 2179.2 L308.4 2186.9 L310.4 2192.9 L312.5 2196.5 L314.6 2201.8 L316.7 2203.1 L318.7 2205.0 L320.8 2204.4 L322.9 2205.2 L324.9 2203.9 L327.0 2198.7 L329.1 2201.4 L331.1 2199.7 L333.2 2194.0 L335.3 2191.8 L337.4 2187.5 L339.4 2185.1 L341.5 2178.8 L343.6 2176.2 L345.6 2177.6 L347.7 2170.9 L349.8 2167.1 L351.8 2162.9 L353.9 2164.1 L356.0 2162.3 L358.1 2156.1 L360.1 2157.5 L362.2 2153.9 L364.3 2150.9 L366.3 2148.1 L368.4 2147.2 L370.5 2147.0 L372.5 2140.2 L374.6 2140.6 L376.7 2138.2 L378.8 2130.4 L380.8 2130.1 L382.9 2131.5 L385.0 2127.7 L387.0 2124.8 L389.1 2123.4 L391.2 2123.4 L393.2 2115.7 L395.3 2113.5 L397.4 2112.4 L399.4 2111.6 L401.5 2108.3 L403.6 2105.4 L405.7 2106.8 L407.7 2103.3 L409.8 2101.9 L411.9 2097.5 L413.9 2096.6 L416.0 2098.1 L418.1 2095.2 L420.1 2088.8 L422.2 2092.9 L424.3 2089.0 L426.4 2089.0 L428.4 2083.5 L430.5 2084.3 L432.6 2083.0 L434.6 2082.3 L436.7 2077.9 L438.8 2073.0 L440.8 2070.5 L442.9 2071.5 L445.0 2062.5 L447.1 2062.8 L449.1 2061.0 L451.2 2054.9 L453.3 2052.6 L455.3 2048.7 L457.4 2044.8 L459.5 2039.6 L461.5 2036.1 L463.6 2036.3 L465.7 2029.2 L467.7 2028.4 L469.8 2021.5 L471.9 2018.8 L474.0 2014.1 L476.0 2009.8 L478.1 2001.3 L480.2 1997.2 L482.2 1990.2 L484.3 1978.4 L486.4 1974.9 L488.4 1959.4 L490.5 1947.1 L492.6 1936.6 L494.7 1924.0 L496.7 1913.3 L498.8 1903.1 L500.9 1893.7 L502.9 1883.5 L505.0 1877.5 L507.1 1871.7 L509.1 1866.3 L511.2 1863.0 L513.3 1861.0 L515.4 1866.1 L517.4 1872.7 L519.5 1878.3 L521.6 1888.7 L523.6 1903.3 L525.7 1917.9 L527.8 1936.6 L529.8 1960.0 L531.9 1982.5 L534.0 2007.9 L536.1 2029.3 L538.1 2050.0 L540.2 2069.2 L542.3 2087.7 L544.3 2102.6 L546.4 2117.1 L548.5 2129.0 L550.5 2138.5 L552.6 2146.6 L554.7 2151.4 L556.7 2155.4 L558.8 2158.6 L560.9 2164.1 L563.0 2169.2 L565.0 2172.8 L567.1 2176.6 L569.2 2181.7 L571.2 2185.6 L573.3 2190.0 L575.4 2194.0 L577.4 2197.2 L579.5 2201.7 L581.6 2203.1 L583.7 2208.7 L585.7 2210.0 L587.8 2214.6 L589.9 2214.6 L591.9 2217.6 L594.0 2221.4 L596.1 2223.1 L598.1 2225.7 L600.2 2226.6 L602.3 2228.0 L604.4 2227.8 L606.4 2233.1 L608.5 2232.4 L610.6 2235.7 L612.6 2236.6 L614.7 2237.7 L616.8 2239.6 L618.8 2241.4 L620.9 2243.6 L623.0 2245.0 L625.1 2246.4 L627.1 2247.0 L629.2 2250.9 L631.3 2251.5 L633.3 2253.6 L635.4 2254.7 L637.5 2255.8 L639.5 2255.4 L641.6 2255.7 L643.7 2257.6 L645.7 2261.1 L647.8 2261.1 L649.9 2263.3 L652.0 2262.9 L654.0 2263.2 L656.1 2264.9 L658.2 2265.6 L660.2 2267.5 L662.3 2270.1 L664.4 2271.0 L666.4 2270.1 L668.5 2270.3 L670.6 2270.5 L672.7 2272.7 L674.7 2273.2 L676.8 2273.8 L678.9 2273.9 L680.9 2275.8 L683.0 2277.6 L685.1 2276.4 L687.1 2277.9 L689.2 2278.7 L691.3 2280.9 L693.4 2280.4 L695.4 2282.6 L697.5 2283.5 L699.6 2282.5 L701.6 2283.2 L703.7 2282.9 L705.8 2282.6 L707.8 2284.4 L709.9 2283.2 L712.0 2285.8 L714.0 2285.0 L716.1 2287.2 L718.2 2286.3 L720.3 2287.0 L722.3 2287.3 L724.4 2287.0 L726.5 2289.6 L728.5 2288.2 L730.6 2289.4 L732.7 2288.9 L734.7 2289.1 L736.8 2290.1 L738.9 2290.5 L741.0 2291.6 L743.0 2290.5 L745.1 2292.0 L747.2 2291.3 L749.2 2293.4 L751.3 2291.2 L753.4 2293.8 L755.4 2292.1 L757.5 2294.0 L759.6 2293.4 L761.7 2294.4 L763.7 2294.1 L765.8 2295.1 L767.9 2294.3 L769.9 2295.3 L772.0 2295.7 L774.1 2295.2 L776.1 2297.8 L778.2 2296.4 L780.3 2297.9 L782.4 2299.8 L784.4 2298.4 L786.5 2299.4 L788.6 2298.0 L790.6 2300.4 L792.7 2300.2 L794.8 2300.4 L796.8 2302.7 L798.9 2300.8 L801.0 2302.4 L803.0 2300.5 L805.1 2300.5 L807.2 2302.2 L809.3 2303.9 L811.3 2302.4 L813.4 2302.5 L815.5 2302.1 L817.5 2303.1 L819.6 2303.9 L821.7 2302.9 L823.7 2303.6 L825.8 2301.1 L827.9 2303.3 L830.0 2303.1 L832.0 2302.5 L834.1 2303.5 L836.2 2302.6 L838.2 2302.2 L840.3 2302.4 L842.4 2302.0 L844.4 2300.6 L846.5 2301.2 L848.6 2302.7 L850.7 2301.7 L852.7 2300.5 L854.8 2301.7 L856.9 2300.8 L858.9 2300.7 L861.0 2300.1 L863.1 2300.5 L865.1 2300.3 L867.2 2300.9 L869.3 2299.6 L871.4 2300.7 L873.4 2298.2 L875.5 2299.7 L877.6 2299.9 L879.6 2299.0 L881.7 2299.9 L883.8 2299.7 L885.8 2299.9 L887.9 2300.6 L890.0 2300.8 L892.0 2300.7 L894.1 2299.1 L896.2 2300.8 L898.3 2300.7 L900.3 2300.8 L902.4 2299.8 L904.5 2298.8 L906.5 2301.5 L908.6 2300.3 L910.7 2300.8 L912.7 2301.3 L914.8 2300.7 L916.9 2302.5 L919.0 2300.7 L921.0 2301.5 L923.1 2302.8 L925.2 2300.8 L927.2 2301.9 L929.3 2302.2 L931.4 2305.1 L933.4 2304.7 L935.5 2305.6 L937.6 2305.2 L939.7 2305.1 L941.7 2308.7 L943.8 2307.4 L945.9 2308.0 L947.9 2307.4 L950.0 2308.7 L952.1 2310.1 L954.1 2309.5 L956.2 2310.5 L958.3 2310.6 L960.4 2310.1 L962.4 2310.9 L964.5 2310.5 L966.6 2312.4 L968.6 2309.2 L970.7 2310.5 L972.8 2311.4 L974.8 2313.6 L976.9 2314.7 L979.0 2313.9 L981.0 2313.8 L983.1 2312.0 L985.2 2313.3 L987.3 2315.4 L989.3 2314.4 L991.4 2314.9 L993.5 2316.5 L995.5 2316.0 L997.6 2317.3 L999.7 2318.8 L1001.7 2319.8 L1003.8 2319.4 L1005.9 2319.0 L1008.0 2321.7 L1010.0 2322.5 L1012.1 2321.2 L1014.2 2324.7 L1016.2 2321.2 L1018.3 2323.8 L1020.4 2323.2 L1022.4 2322.7 L1024.5 2326.1 L1026.6 2326.1 L1028.7 2323.4 L1030.7 2325.9 L1032.8 2325.9 L1034.9 2325.7 L1036.9 2325.1 L1039.0 2324.9 L1041.1 2326.1 L1043.1 2326.6 L1045.2 2326.4 L1047.3 2326.2 L1049.3 2325.4 L1051.4 2326.5 L1053.5 2325.1 L1055.6 2327.6 L1057.6 2326.4 L1059.7 2325.4 L1061.8 2325.9 L1063.8 2326.8 L1065.9 2328.0 L1068.0 2327.9 L1070.0 2327.5 L1072.1 2327.1 L1074.2 2327.7 L1076.3 2328.8 L1078.3 2328.2 L1080.4 2327.1 L1082.5 2326.9 L1084.5 2329.0 L1086.6 2328.1 L1088.7 2329.3 L1090.7 2328.3 L1092.8 2324.6 L1094.9 2327.8 L1097.0 2328.3 L1099.0 2328.5 L1101.1 2329.1 L1103.2 2329.7 L1105.2 2328.1 L1107.3 2328.3 L1109.4 2326.8 L1111.4 2329.6 L1113.5 2327.7 L1115.6 2326.9 L1117.7 2329.9 L1119.7 2327.6 L1121.8 2329.6 L1123.9 2327.7 L1125.9 2326.8 L1128.0 2328.2" fill="none" stroke="#37AD6B" stroke-width="4.2" stroke-linejoin="round"/>
<path d="M300.1 2157.5 L302.2 2167.5 L304.2 2174.4 L306.3 2180.2 L308.4 2187.1 L310.4 2191.9 L312.5 2195.7 L314.6 2198.8 L316.7 2203.5 L318.7 2203.1 L320.8 2204.1 L322.9 2202.9 L324.9 2201.7 L327.0 2200.5 L329.1 2195.9 L331.1 2197.4 L333.2 2193.0 L335.3 2190.7 L337.4 2184.6 L339.4 2180.4 L341.5 2176.9 L343.6 2175.1 L345.6 2169.7 L347.7 2167.5 L349.8 2162.7 L351.8 2161.9 L353.9 2156.7 L356.0 2156.2 L358.1 2158.1 L360.1 2152.5 L362.2 2152.8 L364.3 2145.7 L366.3 2142.4 L368.4 2142.9 L370.5 2139.5 L372.5 2140.7 L374.6 2139.8 L376.7 2133.7 L378.8 2130.5 L380.8 2130.4 L382.9 2124.6 L385.0 2121.6 L387.0 2118.4 L389.1 2114.2 L391.2 2113.3 L393.2 2113.5 L395.3 2110.3 L397.4 2107.2 L399.4 2108.3 L401.5 2101.5 L403.6 2100.3 L405.7 2100.6 L407.7 2099.4 L409.8 2088.6 L411.9 2092.7 L413.9 2090.7 L416.0 2087.3 L418.1 2087.4 L420.1 2087.4 L422.2 2085.0 L424.3 2086.7 L426.4 2081.8 L428.4 2084.6 L430.5 2078.8 L432.6 2076.5 L434.6 2078.6 L436.7 2069.2 L438.8 2072.6 L440.8 2065.4 L442.9 2065.5 L445.0 2060.7 L447.1 2059.4 L449.1 2049.6 L451.2 2048.9 L453.3 2043.6 L455.3 2041.9 L457.4 2038.2 L459.5 2035.3 L461.5 2031.9 L463.6 2031.0 L465.7 2032.1 L467.7 2032.3 L469.8 2033.5 L471.9 2029.2 L474.0 2024.1 L476.0 2021.8 L478.1 2013.9 L480.2 2006.5 L482.2 1998.2 L484.3 1986.4 L486.4 1972.9 L488.4 1956.9 L490.5 1939.9 L492.6 1922.3 L494.7 1907.8 L496.7 1891.9 L498.8 1873.2 L500.9 1859.3 L502.9 1844.9 L505.0 1829.3 L507.1 1819.6 L509.1 1811.2 L511.2 1803.0 L513.3 1800.1 L515.4 1801.5 L517.4 1808.0 L519.5 1817.5 L521.6 1831.2 L523.6 1847.0 L525.7 1868.8 L527.8 1897.0 L529.8 1924.8 L531.9 1957.4 L534.0 1991.2 L536.1 2023.3 L538.1 2048.5 L540.2 2072.9 L542.3 2093.3 L544.3 2110.8 L546.4 2125.8 L548.5 2138.7 L550.5 2148.7 L552.6 2153.1 L554.7 2159.8 L556.7 2164.0 L558.8 2165.7 L560.9 2171.3 L563.0 2174.1 L565.0 2176.7 L567.1 2183.8 L569.2 2187.0 L571.2 2192.8 L573.3 2194.1 L575.4 2198.5 L577.4 2202.2 L579.5 2204.7 L581.6 2207.7 L583.7 2211.4 L585.7 2215.9 L587.8 2219.3 L589.9 2221.7 L591.9 2224.6 L594.0 2223.5 L596.1 2227.3 L598.1 2228.9 L600.2 2230.6 L602.3 2230.7 L604.4 2234.7 L606.4 2234.7 L608.5 2237.1 L610.6 2239.1 L612.6 2242.3 L614.7 2241.3 L616.8 2244.4 L618.8 2245.6 L620.9 2246.5 L623.0 2248.2 L625.1 2248.7 L627.1 2251.8 L629.2 2252.4 L631.3 2253.7 L633.3 2255.3 L635.4 2256.0 L637.5 2258.1 L639.5 2257.9 L641.6 2260.9 L643.7 2262.7 L645.7 2262.5 L647.8 2262.5 L649.9 2265.0 L652.0 2266.1 L654.0 2266.8 L656.1 2267.2 L658.2 2268.4 L660.2 2268.7 L662.3 2271.3 L664.4 2269.1 L666.4 2270.6 L668.5 2272.6 L670.6 2271.3 L672.7 2272.8 L674.7 2272.6 L676.8 2275.7 L678.9 2273.9 L680.9 2276.1 L683.0 2278.8 L685.1 2276.9 L687.1 2278.7 L689.2 2280.0 L691.3 2280.0 L693.4 2282.2 L695.4 2280.5 L697.5 2281.8 L699.6 2282.4 L701.6 2281.5 L703.7 2283.3 L705.8 2284.5 L707.8 2285.2 L709.9 2284.9 L712.0 2284.3 L714.0 2286.2 L716.1 2286.9 L718.2 2285.5 L720.3 2286.7 L722.3 2287.1 L724.4 2285.6 L726.5 2289.0 L728.5 2288.0 L730.6 2290.2 L732.7 2289.3 L734.7 2288.8 L736.8 2288.7 L738.9 2291.3 L741.0 2289.8 L743.0 2290.2 L745.1 2291.4 L747.2 2289.4 L749.2 2292.1 L751.3 2293.2 L753.4 2292.4 L755.4 2294.8 L757.5 2292.1 L759.6 2293.0 L761.7 2294.6 L763.7 2294.1 L765.8 2294.6 L767.9 2293.7 L769.9 2296.4 L772.0 2297.5 L774.1 2298.6 L776.1 2297.4 L778.2 2299.0 L780.3 2298.1 L782.4 2298.0 L784.4 2299.2 L786.5 2300.0 L788.6 2298.4 L790.6 2300.1 L792.7 2300.0 L794.8 2299.7 L796.8 2302.1 L798.9 2302.1 L801.0 2299.2 L803.0 2301.9 L805.1 2302.9 L807.2 2302.4 L809.3 2302.9 L811.3 2303.6 L813.4 2303.0 L815.5 2302.7 L817.5 2302.8 L819.6 2302.3 L821.7 2304.4 L823.7 2304.1 L825.8 2302.0 L827.9 2303.0 L830.0 2301.4 L832.0 2302.1 L834.1 2303.6 L836.2 2301.7 L838.2 2303.0 L840.3 2301.7 L842.4 2300.6 L844.4 2299.7 L846.5 2301.6 L848.6 2300.8 L850.7 2301.0 L852.7 2300.5 L854.8 2303.4 L856.9 2301.2 L858.9 2300.4 L861.0 2300.1 L863.1 2301.0 L865.1 2299.4 L867.2 2299.0 L869.3 2299.8 L871.4 2300.0 L873.4 2300.0 L875.5 2299.5 L877.6 2298.6 L879.6 2298.3 L881.7 2300.2 L883.8 2300.6 L885.8 2300.6 L887.9 2299.0 L890.0 2299.8 L892.0 2299.8 L894.1 2299.7 L896.2 2299.8 L898.3 2300.4 L900.3 2301.3 L902.4 2301.0 L904.5 2300.4 L906.5 2300.3 L908.6 2301.1 L910.7 2301.3 L912.7 2299.8 L914.8 2301.6 L916.9 2301.1 L919.0 2301.8 L921.0 2302.4 L923.1 2303.2 L925.2 2302.7 L927.2 2303.4 L929.3 2302.4 L931.4 2304.8 L933.4 2304.8 L935.5 2304.5 L937.6 2305.8 L939.7 2305.9 L941.7 2306.1 L943.8 2308.9 L945.9 2308.2 L947.9 2309.1 L950.0 2307.4 L952.1 2309.0 L954.1 2308.8 L956.2 2308.0 L958.3 2310.2 L960.4 2310.1 L962.4 2310.0 L964.5 2310.9 L966.6 2309.9 L968.6 2310.6 L970.7 2310.7 L972.8 2311.9 L974.8 2312.6 L976.9 2313.0 L979.0 2313.4 L981.0 2315.0 L983.1 2313.6 L985.2 2313.7 L987.3 2314.9 L989.3 2315.9 L991.4 2315.9 L993.5 2316.3 L995.5 2316.8 L997.6 2316.0 L999.7 2318.9 L1001.7 2318.4 L1003.8 2318.7 L1005.9 2319.8 L1008.0 2320.7 L1010.0 2322.0 L1012.1 2322.2 L1014.2 2321.6 L1016.2 2321.5 L1018.3 2323.9 L1020.4 2323.4 L1022.4 2323.8 L1024.5 2323.8 L1026.6 2324.9 L1028.7 2325.0 L1030.7 2324.8 L1032.8 2326.8 L1034.9 2325.8 L1036.9 2327.6 L1039.0 2327.9 L1041.1 2326.9 L1043.1 2327.7 L1045.2 2325.9 L1047.3 2325.6 L1049.3 2326.8 L1051.4 2326.8 L1053.5 2326.9 L1055.6 2327.0 L1057.6 2326.7 L1059.7 2326.6 L1061.8 2327.4 L1063.8 2327.8 L1065.9 2327.6 L1068.0 2326.5 L1070.0 2327.7 L1072.1 2326.0 L1074.2 2327.6 L1076.3 2326.2 L1078.3 2328.6 L1080.4 2328.2 L1082.5 2327.2 L1084.5 2327.2 L1086.6 2327.9 L1088.7 2325.9 L1090.7 2327.7 L1092.8 2327.6 L1094.9 2328.4 L1097.0 2326.4 L1099.0 2327.2 L1101.1 2327.6 L1103.2 2329.5 L1105.2 2327.7 L1107.3 2328.5 L1109.4 2327.7 L1111.4 2327.3 L1113.5 2328.8 L1115.6 2327.9 L1117.7 2327.3 L1119.7 2328.0 L1121.8 2328.4 L1123.9 2329.1 L1125.9 2328.8 L1128.0 2329.3" fill="none" stroke="#B177DE" stroke-width="4.2" stroke-linejoin="round"/>
<path d="M300.1 2145.0 L302.2 2159.0 L304.2 2171.3 L306.3 2179.4 L308.4 2188.6 L310.4 2196.9 L312.5 2198.4 L314.6 2203.1 L316.7 2209.0 L318.7 2210.5 L320.8 2210.9 L322.9 2212.2 L324.9 2212.8 L327.0 2212.1 L329.1 2209.5 L331.1 2207.7 L333.2 2203.6 L335.3 2201.6 L337.4 2199.4 L339.4 2194.5 L341.5 2194.5 L343.6 2185.2 L345.6 2188.8 L347.7 2183.0 L349.8 2179.7 L351.8 2177.3 L353.9 2175.5 L356.0 2171.4 L358.1 2174.1 L360.1 2170.0 L362.2 2167.5 L364.3 2166.7 L366.3 2164.7 L368.4 2158.8 L370.5 2160.4 L372.5 2157.6 L374.6 2154.8 L376.7 2152.2 L378.8 2149.0 L380.8 2147.2 L382.9 2143.5 L385.0 2141.4 L387.0 2138.3 L389.1 2134.2 L391.2 2136.2 L393.2 2129.1 L395.3 2131.0 L397.4 2126.6 L399.4 2125.4 L401.5 2124.2 L403.6 2125.4 L405.7 2116.4 L407.7 2119.0 L409.8 2117.1 L411.9 2111.6 L413.9 2111.8 L416.0 2106.6 L418.1 2105.4 L420.1 2105.8 L422.2 2105.2 L424.3 2102.7 L426.4 2105.1 L428.4 2100.4 L430.5 2098.5 L432.6 2097.6 L434.6 2093.9 L436.7 2094.7 L438.8 2087.3 L440.8 2083.6 L442.9 2085.6 L445.0 2079.5 L447.1 2073.3 L449.1 2071.8 L451.2 2070.7 L453.3 2066.7 L455.3 2058.9 L457.4 2052.7 L459.5 2053.9 L461.5 2047.0 L463.6 2047.4 L465.7 2044.8 L467.7 2041.3 L469.8 2038.9 L471.9 2036.3 L474.0 2026.0 L476.0 2024.5 L478.1 2017.0 L480.2 2005.2 L482.2 1996.4 L484.3 1984.9 L486.4 1969.4 L488.4 1958.5 L490.5 1939.9 L492.6 1924.0 L494.7 1908.4 L496.7 1893.0 L498.8 1877.3 L500.9 1864.5 L502.9 1849.7 L505.0 1836.8 L507.1 1826.2 L509.1 1818.2 L511.2 1811.3 L513.3 1808.4 L515.4 1809.9 L517.4 1814.9 L519.5 1823.2 L521.6 1837.8 L523.6 1855.4 L525.7 1876.2 L527.8 1901.8 L529.8 1930.1 L531.9 1962.2 L534.0 1995.0 L536.1 2024.6 L538.1 2049.1 L540.2 2072.9 L542.3 2093.1 L544.3 2110.4 L546.4 2128.3 L548.5 2139.5 L550.5 2150.5 L552.6 2159.9 L554.7 2164.1 L556.7 2171.1 L558.8 2173.6 L560.9 2178.4 L563.0 2183.1 L565.0 2188.4 L567.1 2194.8 L569.2 2197.8 L571.2 2202.0 L573.3 2203.7 L575.4 2208.5 L577.4 2213.1 L579.5 2217.5 L581.6 2219.3 L583.7 2223.6 L585.7 2225.1 L587.8 2227.5 L589.9 2230.5 L591.9 2232.1 L594.0 2234.5 L596.1 2236.5 L598.1 2236.4 L600.2 2238.8 L602.3 2241.1 L604.4 2243.1 L606.4 2243.7 L608.5 2244.8 L610.6 2245.9 L612.6 2246.8 L614.7 2249.1 L616.8 2251.9 L618.8 2250.5 L620.9 2252.6 L623.0 2254.2 L625.1 2255.1 L627.1 2258.8 L629.2 2259.1 L631.3 2260.4 L633.3 2260.1 L635.4 2263.3 L637.5 2263.7 L639.5 2263.1 L641.6 2265.0 L643.7 2266.9 L645.7 2265.9 L647.8 2269.6 L649.9 2267.7 L652.0 2267.8 L654.0 2266.2 L656.1 2266.0 L658.2 2265.7 L660.2 2264.1 L662.3 2265.9 L664.4 2264.8 L666.4 2266.0 L668.5 2265.5 L670.6 2267.2 L672.7 2267.9 L674.7 2267.5 L676.8 2267.2 L678.9 2270.6 L680.9 2269.2 L683.0 2269.3 L685.1 2271.5 L687.1 2271.5 L689.2 2270.7 L691.3 2272.4 L693.4 2272.7 L695.4 2271.0 L697.5 2273.7 L699.6 2274.1 L701.6 2275.7 L703.7 2275.0 L705.8 2275.5 L707.8 2273.3 L709.9 2274.1 L712.0 2276.6 L714.0 2274.1 L716.1 2275.5 L718.2 2276.7 L720.3 2276.2 L722.3 2276.9 L724.4 2278.2 L726.5 2279.4 L728.5 2279.0 L730.6 2278.6 L732.7 2279.3 L734.7 2280.0 L736.8 2278.8 L738.9 2281.0 L741.0 2279.6 L743.0 2281.2 L745.1 2281.1 L747.2 2282.6 L749.2 2282.0 L751.3 2283.1 L753.4 2284.3 L755.4 2283.2 L757.5 2283.6 L759.6 2283.2 L761.7 2284.1 L763.7 2285.6 L765.8 2285.7 L767.9 2287.7 L769.9 2286.9 L772.0 2285.1 L774.1 2285.3 L776.1 2286.3 L778.2 2287.0 L780.3 2287.1 L782.4 2287.6 L784.4 2289.9 L786.5 2289.5 L788.6 2288.0 L790.6 2288.4 L792.7 2289.6 L794.8 2290.4 L796.8 2290.8 L798.9 2291.3 L801.0 2291.9 L803.0 2293.1 L805.1 2291.5 L807.2 2292.3 L809.3 2292.4 L811.3 2290.9 L813.4 2292.1 L815.5 2293.4 L817.5 2292.4 L819.6 2294.4 L821.7 2292.3 L823.7 2293.1 L825.8 2293.7 L827.9 2293.1 L830.0 2292.5 L832.0 2294.3 L834.1 2294.9 L836.2 2292.3 L838.2 2294.2 L840.3 2293.0 L842.4 2295.0 L844.4 2294.2 L846.5 2295.2 L848.6 2294.2 L850.7 2295.1 L852.7 2295.5 L854.8 2293.7 L856.9 2294.9 L858.9 2297.0 L861.0 2295.6 L863.1 2296.3 L865.1 2296.7 L867.2 2296.2 L869.3 2296.3 L871.4 2295.9 L873.4 2296.8 L875.5 2297.9 L877.6 2296.8 L879.6 2295.7 L881.7 2297.8 L883.8 2296.2 L885.8 2296.5 L887.9 2297.4 L890.0 2296.9 L892.0 2297.9 L894.1 2297.8 L896.2 2298.4 L898.3 2297.3 L900.3 2296.6 L902.4 2298.6 L904.5 2297.0 L906.5 2300.1 L908.6 2299.2 L910.7 2299.4 L912.7 2297.1 L914.8 2299.3 L916.9 2298.3 L919.0 2300.9 L921.0 2299.2 L923.1 2298.9 L925.2 2299.6 L927.2 2302.1 L929.3 2299.7 L931.4 2299.3 L933.4 2299.0 L935.5 2300.0 L937.6 2302.0 L939.7 2300.9 L941.7 2300.0 L943.8 2301.7 L945.9 2300.7 L947.9 2301.8 L950.0 2301.5 L952.1 2301.1 L954.1 2302.6 L956.2 2299.7 L958.3 2302.3 L960.4 2302.3 L962.4 2303.5 L964.5 2303.1 L966.6 2303.6 L968.6 2304.9 L970.7 2305.3 L972.8 2304.0 L974.8 2304.6 L976.9 2307.2 L979.0 2307.1 L981.0 2305.8 L983.1 2305.9 L985.2 2305.7 L987.3 2307.8 L989.3 2306.7 L991.4 2308.0 L993.5 2308.7 L995.5 2309.0 L997.6 2308.5 L999.7 2309.5 L1001.7 2309.8 L1003.8 2311.7 L1005.9 2311.9 L1008.0 2313.2 L1010.0 2313.2 L1012.1 2313.6 L1014.2 2314.2 L1016.2 2313.8 L1018.3 2314.6 L1020.4 2314.9 L1022.4 2316.0 L1024.5 2315.7 L1026.6 2317.0 L1028.7 2316.7 L1030.7 2317.5 L1032.8 2317.6 L1034.9 2318.6 L1036.9 2319.9 L1039.0 2320.3 L1041.1 2317.5 L1043.1 2319.1 L1045.2 2319.3 L1047.3 2320.0 L1049.3 2320.5 L1051.4 2317.7 L1053.5 2321.4 L1055.6 2320.6 L1057.6 2320.7 L1059.7 2321.8 L1061.8 2322.0 L1063.8 2321.6 L1065.9 2321.4 L1068.0 2321.6 L1070.0 2320.5 L1072.1 2322.3 L1074.2 2320.9 L1076.3 2320.1 L1078.3 2320.6 L1080.4 2322.5 L1082.5 2324.1 L1084.5 2320.8 L1086.6 2321.2 L1088.7 2322.2 L1090.7 2320.6 L1092.8 2322.1 L1094.9 2321.7 L1097.0 2322.7 L1099.0 2321.6 L1101.1 2322.3 L1103.2 2322.4 L1105.2 2321.0 L1107.3 2321.8 L1109.4 2323.3 L1111.4 2321.4 L1113.5 2321.3 L1115.6 2322.8 L1117.7 2322.4 L1119.7 2322.0 L1121.8 2322.3 L1123.9 2322.0 L1125.9 2321.5 L1128.0 2322.5" fill="none" stroke="#CC9900" stroke-width="4.2" stroke-linejoin="round"/>
<path d="M300.1 2125.2 L302.2 2147.4 L304.2 2163.7 L306.3 2174.9 L308.4 2186.1 L310.4 2197.5 L312.5 2205.2 L314.6 2212.5 L316.7 2215.7 L318.7 2220.3 L320.8 2223.9 L322.9 2225.2 L324.9 2225.8 L327.0 2225.7 L329.1 2221.7 L331.1 2222.3 L333.2 2222.1 L335.3 2221.2 L337.4 2218.1 L339.4 2214.6 L341.5 2213.1 L343.6 2210.6 L345.6 2210.1 L347.7 2207.1 L349.8 2204.3 L351.8 2205.2 L353.9 2205.7 L356.0 2198.0 L358.1 2198.6 L360.1 2198.9 L362.2 2195.8 L364.3 2195.0 L366.3 2196.0 L368.4 2191.2 L370.5 2191.6 L372.5 2186.4 L374.6 2184.9 L376.7 2180.2 L378.8 2180.3 L380.8 2177.0 L382.9 2175.9 L385.0 2173.6 L387.0 2173.1 L389.1 2166.1 L391.2 2165.4 L393.2 2164.6 L395.3 2160.9 L397.4 2159.9 L399.4 2158.3 L401.5 2154.2 L403.6 2150.2 L405.7 2151.0 L407.7 2151.2 L409.8 2147.7 L411.9 2141.0 L413.9 2144.4 L416.0 2138.8 L418.1 2140.1 L420.1 2136.6 L422.2 2136.8 L424.3 2138.1 L426.4 2134.1 L428.4 2127.2 L430.5 2129.6 L432.6 2125.9 L434.6 2125.2 L436.7 2122.1 L438.8 2118.4 L440.8 2115.0 L442.9 2108.3 L445.0 2109.1 L447.1 2105.6 L449.1 2102.6 L451.2 2099.6 L453.3 2095.7 L455.3 2086.6 L457.4 2086.6 L459.5 2074.9 L461.5 2070.4 L463.6 2069.0 L465.7 2066.5 L467.7 2059.5 L469.8 2054.0 L471.9 2045.6 L474.0 2042.2 L476.0 2033.4 L478.1 2023.2 L480.2 2012.3 L482.2 2000.4 L484.3 1989.3 L486.4 1974.9 L488.4 1957.6 L490.5 1940.2 L492.6 1923.1 L494.7 1905.7 L496.7 1889.7 L498.8 1874.8 L500.9 1858.9 L502.9 1846.8 L505.0 1834.3 L507.1 1821.3 L509.1 1815.3 L511.2 1807.1 L513.3 1803.5 L515.4 1804.1 L517.4 1811.0 L519.5 1819.1 L521.6 1834.0 L523.6 1852.1 L525.7 1872.4 L527.8 1898.3 L529.8 1928.5 L531.9 1959.3 L534.0 1992.5 L536.1 2021.3 L538.1 2048.7 L540.2 2073.8 L542.3 2096.0 L544.3 2117.4 L546.4 2135.1 L548.5 2151.8 L550.5 2165.6 L552.6 2176.5 L554.7 2185.3 L556.7 2193.2 L558.8 2198.6 L560.9 2208.2 L563.0 2213.3 L565.0 2218.6 L567.1 2225.4 L569.2 2229.5 L571.2 2234.9 L573.3 2239.5 L575.4 2241.0 L577.4 2246.4 L579.5 2247.2 L581.6 2251.1 L583.7 2254.0 L585.7 2256.0 L587.8 2257.6 L589.9 2259.3 L591.9 2259.8 L594.0 2263.0 L596.1 2261.5 L598.1 2263.0 L600.2 2263.6 L602.3 2266.7 L604.4 2268.9 L606.4 2268.4 L608.5 2268.9 L610.6 2269.4 L612.6 2271.1 L614.7 2271.6 L616.8 2272.3 L618.8 2274.6 L620.9 2272.5 L623.0 2275.9 L625.1 2275.5 L627.1 2275.5 L629.2 2277.9 L631.3 2277.9 L633.3 2277.2 L635.4 2279.6 L637.5 2279.1 L639.5 2280.4 L641.6 2281.1 L643.7 2281.3 L645.7 2282.8 L647.8 2283.3 L649.9 2282.8 L652.0 2283.9 L654.0 2283.5 L656.1 2284.7 L658.2 2283.3 L660.2 2282.0 L662.3 2281.9 L664.4 2282.2 L666.4 2282.7 L668.5 2282.6 L670.6 2281.5 L672.7 2280.5 L674.7 2281.6 L676.8 2280.4 L678.9 2281.8 L680.9 2280.5 L683.0 2282.6 L685.1 2281.6 L687.1 2282.9 L689.2 2281.5 L691.3 2281.8 L693.4 2283.3 L695.4 2283.7 L697.5 2283.9 L699.6 2285.3 L701.6 2285.3 L703.7 2285.7 L705.8 2284.7 L707.8 2284.5 L709.9 2286.5 L712.0 2286.7 L714.0 2286.6 L716.1 2287.6 L718.2 2287.7 L720.3 2287.0 L722.3 2287.9 L724.4 2288.6 L726.5 2289.4 L728.5 2288.0 L730.6 2290.2 L732.7 2290.0 L734.7 2291.4 L736.8 2291.4 L738.9 2291.2 L741.0 2292.0 L743.0 2291.6 L745.1 2292.4 L747.2 2294.1 L749.2 2295.3 L751.3 2292.7 L753.4 2294.5 L755.4 2293.0 L757.5 2294.7 L759.6 2295.8 L761.7 2295.0 L763.7 2296.1 L765.8 2296.3 L767.9 2297.5 L769.9 2296.5 L772.0 2296.5 L774.1 2298.4 L776.1 2296.8 L778.2 2299.3 L780.3 2298.9 L782.4 2301.0 L784.4 2301.7 L786.5 2298.5 L788.6 2299.5 L790.6 2300.1 L792.7 2303.0 L794.8 2301.6 L796.8 2301.8 L798.9 2302.4 L801.0 2302.5 L803.0 2303.8 L805.1 2303.4 L807.2 2304.5 L809.3 2304.0 L811.3 2303.5 L813.4 2304.7 L815.5 2304.4 L817.5 2304.6 L819.6 2304.2 L821.7 2303.5 L823.7 2304.1 L825.8 2303.9 L827.9 2305.5 L830.0 2304.5 L832.0 2303.4 L834.1 2304.9 L836.2 2304.4 L838.2 2304.8 L840.3 2302.7 L842.4 2304.2 L844.4 2304.4 L846.5 2303.1 L848.6 2302.6 L850.7 2303.1 L852.7 2302.6 L854.8 2303.2 L856.9 2303.3 L858.9 2303.5 L861.0 2303.4 L863.1 2303.4 L865.1 2302.4 L867.2 2302.8 L869.3 2302.5 L871.4 2302.0 L873.4 2302.5 L875.5 2303.7 L877.6 2303.2 L879.6 2303.5 L881.7 2304.3 L883.8 2302.6 L885.8 2303.8 L887.9 2303.9 L890.0 2303.8 L892.0 2302.1 L894.1 2303.2 L896.2 2302.1 L898.3 2303.2 L900.3 2303.5 L902.4 2302.7 L904.5 2302.8 L906.5 2303.3 L908.6 2304.4 L910.7 2304.0 L912.7 2304.8 L914.8 2304.1 L916.9 2303.9 L919.0 2302.8 L921.0 2303.0 L923.1 2303.8 L925.2 2303.9 L927.2 2304.9 L929.3 2303.1 L931.4 2304.7 L933.4 2304.2 L935.5 2306.7 L937.6 2307.3 L939.7 2307.2 L941.7 2308.5 L943.8 2308.8 L945.9 2310.3 L947.9 2308.9 L950.0 2309.9 L952.1 2309.6 L954.1 2310.8 L956.2 2312.4 L958.3 2310.6 L960.4 2310.3 L962.4 2312.7 L964.5 2312.7 L966.6 2312.3 L968.6 2312.6 L970.7 2314.1 L972.8 2311.4 L974.8 2312.4 L976.9 2314.2 L979.0 2315.6 L981.0 2314.1 L983.1 2313.1 L985.2 2314.5 L987.3 2314.7 L989.3 2317.1 L991.4 2316.5 L993.5 2318.6 L995.5 2316.0 L997.6 2317.8 L999.7 2320.7 L1001.7 2321.0 L1003.8 2319.4 L1005.9 2320.3 L1008.0 2321.2 L1010.0 2321.0 L1012.1 2320.3 L1014.2 2322.4 L1016.2 2324.9 L1018.3 2323.9 L1020.4 2325.5 L1022.4 2325.5 L1024.5 2324.9 L1026.6 2325.7 L1028.7 2326.8 L1030.7 2326.1 L1032.8 2327.0 L1034.9 2325.9 L1036.9 2326.7 L1039.0 2326.2 L1041.1 2326.9 L1043.1 2326.1 L1045.2 2326.9 L1047.3 2326.9 L1049.3 2327.5 L1051.4 2326.9 L1053.5 2328.7 L1055.6 2324.8 L1057.6 2327.9 L1059.7 2327.3 L1061.8 2327.9 L1063.8 2327.9 L1065.9 2327.2 L1068.0 2328.1 L1070.0 2328.1 L1072.1 2329.0 L1074.2 2328.6 L1076.3 2328.9 L1078.3 2326.3 L1080.4 2329.1 L1082.5 2329.0 L1084.5 2327.9 L1086.6 2326.8 L1088.7 2329.6 L1090.7 2329.5 L1092.8 2328.1 L1094.9 2327.9 L1097.0 2329.5 L1099.0 2329.9 L1101.1 2329.2 L1103.2 2327.7 L1105.2 2328.4 L1107.3 2327.7 L1109.4 2328.5 L1111.4 2328.5 L1113.5 2327.9 L1115.6 2328.6 L1117.7 2328.3 L1119.7 2329.3 L1121.8 2329.0 L1123.9 2328.1 L1125.9 2328.7 L1128.0 2329.2" fill="none" stroke="#00CBCC" stroke-width="4.2" stroke-linejoin="round"/>
<path d="M300.1 2123.0 L302.2 2144.0 L304.2 2161.9 L306.3 2176.8 L308.4 2187.6 L310.4 2196.0 L312.5 2206.8 L314.6 2214.3 L316.7 2219.1 L318.7 2223.2 L320.8 2226.6 L322.9 2229.1 L324.9 2229.0 L327.0 2228.4 L329.1 2226.3 L331.1 2226.4 L333.2 2227.4 L335.3 2222.7 L337.4 2224.3 L339.4 2221.9 L341.5 2221.5 L343.6 2214.8 L345.6 2213.3 L347.7 2214.3 L349.8 2212.2 L351.8 2209.8 L353.9 2207.8 L356.0 2204.9 L358.1 2204.8 L360.1 2202.5 L362.2 2204.5 L364.3 2200.5 L366.3 2201.6 L368.4 2192.8 L370.5 2191.7 L372.5 2191.0 L374.6 2188.2 L376.7 2184.2 L378.8 2184.0 L380.8 2186.6 L382.9 2181.5 L385.0 2183.3 L387.0 2177.8 L389.1 2176.3 L391.2 2171.6 L393.2 2168.6 L395.3 2168.9 L397.4 2165.5 L399.4 2162.2 L401.5 2160.8 L403.6 2158.7 L405.7 2161.0 L407.7 2155.1 L409.8 2150.7 L411.9 2149.8 L413.9 2151.4 L416.0 2147.4 L418.1 2144.8 L420.1 2145.8 L422.2 2141.0 L424.3 2142.3 L426.4 2139.7 L428.4 2137.3 L430.5 2130.7 L432.6 2133.3 L434.6 2131.3 L436.7 2126.1 L438.8 2125.5 L440.8 2121.1 L442.9 2122.6 L445.0 2114.0 L447.1 2110.8 L449.1 2109.2 L451.2 2099.7 L453.3 2098.2 L455.3 2093.4 L457.4 2090.5 L459.5 2085.7 L461.5 2077.9 L463.6 2076.0 L465.7 2067.9 L467.7 2062.3 L469.8 2059.6 L471.9 2055.1 L474.0 2045.3 L476.0 2038.2 L478.1 2025.8 L480.2 2013.9 L482.2 2001.9 L484.3 1986.9 L486.4 1970.1 L488.4 1952.6 L490.5 1939.2 L492.6 1921.2 L494.7 1904.9 L496.7 1888.2 L498.8 1869.2 L500.9 1854.5 L502.9 1840.1 L505.0 1826.0 L507.1 1815.2 L509.1 1806.1 L511.2 1795.2 L513.3 1792.1 L515.4 1794.6 L517.4 1799.1 L519.5 1808.4 L521.6 1824.0 L523.6 1841.4 L525.7 1864.7 L527.8 1890.9 L529.8 1922.1 L531.9 1952.2 L534.0 1989.3 L536.1 2020.2 L538.1 2048.5 L540.2 2075.3 L542.3 2098.0 L544.3 2120.8 L546.4 2141.2 L548.5 2157.9 L550.5 2173.0 L552.6 2184.1 L554.7 2195.7 L556.7 2204.6 L558.8 2214.2 L560.9 2220.7 L563.0 2228.7 L565.0 2234.3 L567.1 2239.2 L569.2 2245.7 L571.2 2251.0 L573.3 2253.9 L575.4 2257.3 L577.4 2259.6 L579.5 2265.6 L581.6 2266.1 L583.7 2268.8 L585.7 2270.9 L587.8 2271.5 L589.9 2273.9 L591.9 2276.0 L594.0 2275.8 L596.1 2276.2 L598.1 2275.1 L600.2 2278.2 L602.3 2279.4 L604.4 2280.9 L606.4 2280.2 L608.5 2280.8 L610.6 2281.1 L612.6 2283.2 L614.7 2283.3 L616.8 2285.2 L618.8 2283.7 L620.9 2285.8 L623.0 2287.4 L625.1 2284.4 L627.1 2285.5 L629.2 2286.2 L631.3 2286.6 L633.3 2288.3 L635.4 2286.9 L637.5 2289.3 L639.5 2287.1 L641.6 2289.1 L643.7 2291.4 L645.7 2289.4 L647.8 2288.8 L649.9 2291.1 L652.0 2290.2 L654.0 2290.2 L656.1 2289.5 L658.2 2290.1 L660.2 2285.7 L662.3 2286.2 L664.4 2284.5 L666.4 2285.0 L668.5 2284.0 L670.6 2281.4 L672.7 2282.1 L674.7 2281.5 L676.8 2281.8 L678.9 2280.1 L680.9 2279.2 L683.0 2280.1 L685.1 2279.7 L687.1 2280.5 L689.2 2278.1 L691.3 2280.0 L693.4 2279.6 L695.4 2278.6 L697.5 2280.9 L699.6 2282.8 L701.6 2282.8 L703.7 2283.0 L705.8 2281.6 L707.8 2283.6 L709.9 2284.5 L712.0 2284.0 L714.0 2283.9 L716.1 2286.2 L718.2 2284.6 L720.3 2285.5 L722.3 2286.2 L724.4 2289.1 L726.5 2287.2 L728.5 2286.5 L730.6 2288.4 L732.7 2286.5 L734.7 2288.9 L736.8 2290.2 L738.9 2289.2 L741.0 2289.8 L743.0 2289.7 L745.1 2291.0 L747.2 2290.0 L749.2 2292.0 L751.3 2291.8 L753.4 2293.4 L755.4 2293.3 L757.5 2292.8 L759.6 2293.9 L761.7 2294.1 L763.7 2294.3 L765.8 2294.3 L767.9 2294.2 L769.9 2294.7 L772.0 2294.8 L774.1 2296.0 L776.1 2297.1 L778.2 2298.4 L780.3 2297.7 L782.4 2298.6 L784.4 2299.9 L786.5 2297.1 L788.6 2300.7 L790.6 2299.0 L792.7 2299.2 L794.8 2300.3 L796.8 2298.0 L798.9 2300.6 L801.0 2301.6 L803.0 2299.6 L805.1 2302.1 L807.2 2302.9 L809.3 2302.7 L811.3 2302.5 L813.4 2302.0 L815.5 2301.8 L817.5 2303.5 L819.6 2301.8 L821.7 2300.1 L823.7 2302.7 L825.8 2302.1 L827.9 2301.2 L830.0 2300.6 L832.0 2302.2 L834.1 2302.3 L836.2 2302.2 L838.2 2300.2 L840.3 2300.2 L842.4 2302.8 L844.4 2302.6 L846.5 2301.7 L848.6 2301.8 L850.7 2299.9 L852.7 2299.9 L854.8 2298.2 L856.9 2299.0 L858.9 2299.4 L861.0 2298.3 L863.1 2299.9 L865.1 2300.2 L867.2 2298.7 L869.3 2297.8 L871.4 2300.0 L873.4 2297.6 L875.5 2297.6 L877.6 2298.8 L879.6 2298.2 L881.7 2298.6 L883.8 2298.4 L885.8 2297.8 L887.9 2299.3 L890.0 2297.7 L892.0 2297.9 L894.1 2297.9 L896.2 2300.6 L898.3 2300.6 L900.3 2298.4 L902.4 2299.6 L904.5 2299.8 L906.5 2300.0 L908.6 2300.7 L910.7 2299.9 L912.7 2300.4 L914.8 2300.5 L916.9 2299.6 L919.0 2301.3 L921.0 2299.4 L923.1 2302.7 L925.2 2298.8 L927.2 2302.7 L929.3 2301.6 L931.4 2301.9 L933.4 2303.4 L935.5 2303.4 L937.6 2304.9 L939.7 2307.1 L941.7 2305.8 L943.8 2305.6 L945.9 2307.7 L947.9 2309.1 L950.0 2308.5 L952.1 2308.0 L954.1 2308.4 L956.2 2308.0 L958.3 2308.8 L960.4 2309.2 L962.4 2311.7 L964.5 2308.2 L966.6 2310.5 L968.6 2310.1 L970.7 2311.5 L972.8 2311.7 L974.8 2311.9 L976.9 2310.9 L979.0 2311.4 L981.0 2312.6 L983.1 2311.8 L985.2 2314.4 L987.3 2314.1 L989.3 2315.5 L991.4 2314.5 L993.5 2316.2 L995.5 2315.9 L997.6 2315.8 L999.7 2319.8 L1001.7 2316.5 L1003.8 2318.8 L1005.9 2319.9 L1008.0 2322.0 L1010.0 2321.1 L1012.1 2323.5 L1014.2 2322.0 L1016.2 2322.8 L1018.3 2321.5 L1020.4 2324.0 L1022.4 2323.2 L1024.5 2323.5 L1026.6 2323.0 L1028.7 2325.5 L1030.7 2324.8 L1032.8 2327.0 L1034.9 2326.7 L1036.9 2326.1 L1039.0 2325.9 L1041.1 2327.1 L1043.1 2326.5 L1045.2 2325.6 L1047.3 2326.7 L1049.3 2326.5 L1051.4 2327.3 L1053.5 2325.3 L1055.6 2325.0 L1057.6 2326.5 L1059.7 2326.9 L1061.8 2325.3 L1063.8 2326.5 L1065.9 2327.6 L1068.0 2328.3 L1070.0 2327.7 L1072.1 2325.2 L1074.2 2327.8 L1076.3 2324.7 L1078.3 2327.4 L1080.4 2327.6 L1082.5 2326.3 L1084.5 2327.8 L1086.6 2327.2 L1088.7 2328.6 L1090.7 2328.8 L1092.8 2328.4 L1094.9 2327.5 L1097.0 2328.4 L1099.0 2329.6 L1101.1 2327.4 L1103.2 2328.0 L1105.2 2328.2 L1107.3 2328.5 L1109.4 2330.0 L1111.4 2326.5 L1113.5 2328.4 L1115.6 2327.5 L1117.7 2326.7 L1119.7 2327.0 L1121.8 2327.9 L1123.9 2328.0 L1125.9 2327.8 L1128.0 2327.2" fill="none" stroke="#7D4E4E" stroke-width="4.2" stroke-linejoin="round"/>
<path d="M300.1 2108.4 L302.2 2135.3 L304.2 2156.0 L306.3 2173.6 L308.4 2188.4 L310.4 2200.7 L312.5 2209.1 L314.6 2218.5 L316.7 2224.6 L318.7 2230.5 L320.8 2235.3 L322.9 2239.5 L324.9 2241.5 L327.0 2241.4 L329.1 2239.7 L331.1 2242.0 L333.2 2242.1 L335.3 2241.3 L337.4 2236.9 L339.4 2238.4 L341.5 2238.5 L343.6 2234.7 L345.6 2237.5 L347.7 2233.2 L349.8 2232.1 L351.8 2230.8 L353.9 2231.5 L356.0 2225.9 L358.1 2223.1 L360.1 2227.8 L362.2 2223.4 L364.3 2220.9 L366.3 2216.2 L368.4 2220.0 L370.5 2219.4 L372.5 2215.7 L374.6 2209.8 L376.7 2211.7 L378.8 2209.2 L380.8 2203.9 L382.9 2209.4 L385.0 2207.1 L387.0 2198.6 L389.1 2196.5 L391.2 2198.5 L393.2 2192.4 L395.3 2191.2 L397.4 2188.6 L399.4 2188.4 L401.5 2185.5 L403.6 2184.2 L405.7 2180.1 L407.7 2178.6 L409.8 2172.7 L411.9 2172.9 L413.9 2175.6 L416.0 2170.0 L418.1 2166.4 L420.1 2167.2 L422.2 2164.0 L424.3 2164.7 L426.4 2161.4 L428.4 2162.7 L430.5 2157.1 L432.6 2159.0 L434.6 2151.0 L436.7 2153.8 L438.8 2152.0 L440.8 2143.5 L442.9 2141.4 L445.0 2137.0 L447.1 2132.3 L449.1 2128.9 L451.2 2126.0 L453.3 2118.9 L455.3 2113.4 L457.4 2107.5 L459.5 2098.5 L461.5 2097.6 L463.6 2089.2 L465.7 2081.1 L467.7 2075.5 L469.8 2068.8 L471.9 2058.7 L474.0 2045.8 L476.0 2038.3 L478.1 2025.0 L480.2 2014.8 L482.2 1998.8 L484.3 1987.1 L486.4 1973.2 L488.4 1956.4 L490.5 1941.4 L492.6 1925.1 L494.7 1912.7 L496.7 1895.3 L498.8 1879.3 L500.9 1865.9 L502.9 1854.7 L505.0 1843.1 L507.1 1833.4 L509.1 1824.6 L511.2 1817.9 L513.3 1814.9 L515.4 1816.9 L517.4 1823.6 L519.5 1832.7 L521.6 1846.0 L523.6 1862.7 L525.7 1882.0 L527.8 1906.1 L529.8 1931.6 L531.9 1962.7 L534.0 1993.9 L536.1 2021.6 L538.1 2049.9 L540.2 2073.7 L542.3 2096.2 L544.3 2118.0 L546.4 2138.5 L548.5 2156.7 L550.5 2172.7 L552.6 2185.5 L554.7 2198.2 L556.7 2207.7 L558.8 2217.6 L560.9 2225.1 L563.0 2234.4 L565.0 2238.6 L567.1 2246.4 L569.2 2252.7 L571.2 2257.5 L573.3 2260.8 L575.4 2262.5 L577.4 2265.9 L579.5 2270.3 L581.6 2271.5 L583.7 2273.6 L585.7 2276.5 L587.8 2277.3 L589.9 2279.4 L591.9 2279.4 L594.0 2281.9 L596.1 2281.0 L598.1 2281.9 L600.2 2282.5 L602.3 2283.2 L604.4 2282.1 L606.4 2284.1 L608.5 2284.2 L610.6 2284.4 L612.6 2284.8 L614.7 2285.6 L616.8 2287.3 L618.8 2288.3 L620.9 2288.5 L623.0 2288.7 L625.1 2288.7 L627.1 2289.2 L629.2 2288.5 L631.3 2290.0 L633.3 2288.7 L635.4 2289.8 L637.5 2291.5 L639.5 2290.7 L641.6 2294.5 L643.7 2291.0 L645.7 2292.3 L647.8 2292.6 L649.9 2294.8 L652.0 2291.2 L654.0 2293.9 L656.1 2293.9 L658.2 2292.7 L660.2 2293.9 L662.3 2294.5 L664.4 2293.1 L666.4 2294.6 L668.5 2293.0 L670.6 2293.5 L672.7 2292.5 L674.7 2294.6 L676.8 2292.3 L678.9 2293.1 L680.9 2291.5 L683.0 2293.8 L685.1 2291.5 L687.1 2292.5 L689.2 2292.3 L691.3 2293.6 L693.4 2292.4 L695.4 2292.2 L697.5 2293.6 L699.6 2293.8 L701.6 2293.4 L703.7 2291.3 L705.8 2292.5 L707.8 2291.8 L709.9 2292.3 L712.0 2292.5 L714.0 2292.4 L716.1 2293.1 L718.2 2291.8 L720.3 2292.9 L722.3 2293.2 L724.4 2294.9 L726.5 2293.7 L728.5 2295.0 L730.6 2295.3 L732.7 2294.3 L734.7 2296.7 L736.8 2296.4 L738.9 2296.1 L741.0 2296.1 L743.0 2298.1 L745.1 2297.8 L747.2 2298.3 L749.2 2300.1 L751.3 2301.4 L753.4 2301.7 L755.4 2299.8 L757.5 2300.6 L759.6 2302.3 L761.7 2302.0 L763.7 2302.2 L765.8 2302.6 L767.9 2302.7 L769.9 2301.0 L772.0 2304.2 L774.1 2303.7 L776.1 2305.0 L778.2 2305.2 L780.3 2305.9 L782.4 2305.7 L784.4 2306.4 L786.5 2306.0 L788.6 2306.5 L790.6 2307.9 L792.7 2305.7 L794.8 2308.9 L796.8 2307.9 L798.9 2306.6 L801.0 2309.5 L803.0 2308.0 L805.1 2308.2 L807.2 2309.5 L809.3 2311.8 L811.3 2309.1 L813.4 2310.6 L815.5 2311.4 L817.5 2310.0 L819.6 2312.1 L821.7 2310.7 L823.7 2312.4 L825.8 2311.7 L827.9 2313.3 L830.0 2312.9 L832.0 2313.6 L834.1 2313.7 L836.2 2313.0 L838.2 2313.6 L840.3 2313.4 L842.4 2312.6 L844.4 2314.1 L846.5 2315.9 L848.6 2314.6 L850.7 2314.4 L852.7 2313.7 L854.8 2313.9 L856.9 2314.1 L858.9 2315.3 L861.0 2314.7 L863.1 2316.8 L865.1 2314.4 L867.2 2315.4 L869.3 2315.5 L871.4 2316.4 L873.4 2316.2 L875.5 2317.0 L877.6 2316.0 L879.6 2317.9 L881.7 2315.9 L883.8 2316.4 L885.8 2315.1 L887.9 2317.1 L890.0 2317.1 L892.0 2316.9 L894.1 2317.0 L896.2 2317.2 L898.3 2318.1 L900.3 2318.1 L902.4 2317.6 L904.5 2317.3 L906.5 2318.1 L908.6 2318.1 L910.7 2317.3 L912.7 2316.4 L914.8 2317.2 L916.9 2316.4 L919.0 2316.2 L921.0 2316.4 L923.1 2317.4 L925.2 2317.4 L927.2 2318.8 L929.3 2317.7 L931.4 2316.6 L933.4 2318.1 L935.5 2315.8 L937.6 2315.8 L939.7 2317.4 L941.7 2316.2 L943.8 2318.4 L945.9 2318.0 L947.9 2317.4 L950.0 2317.1 L952.1 2317.2 L954.1 2317.8 L956.2 2315.3 L958.3 2316.8 L960.4 2316.8 L962.4 2316.4 L964.5 2316.9 L966.6 2317.4 L968.6 2317.8 L970.7 2318.9 L972.8 2316.2 L974.8 2318.7 L976.9 2319.6 L979.0 2319.1 L981.0 2320.1 L983.1 2317.2 L985.2 2319.0 L987.3 2318.4 L989.3 2318.7 L991.4 2319.9 L993.5 2320.2 L995.5 2321.8 L997.6 2321.6 L999.7 2322.4 L1001.7 2322.2 L1003.8 2323.2 L1005.9 2321.8 L1008.0 2322.7 L1010.0 2323.9 L1012.1 2325.9 L1014.2 2324.3 L1016.2 2324.6 L1018.3 2326.0 L1020.4 2327.7 L1022.4 2326.6 L1024.5 2326.5 L1026.6 2329.6 L1028.7 2327.6 L1030.7 2330.0 L1032.8 2328.4 L1034.9 2327.0 L1036.9 2328.5 L1039.0 2328.3 L1041.1 2329.0 L1043.1 2328.8 L1045.2 2326.7 L1047.3 2327.7 L1049.3 2329.3 L1051.4 2329.4 L1053.5 2329.1 L1055.6 2327.2 L1057.6 2329.0 L1059.7 2328.2 L1061.8 2329.6 L1063.8 2330.5 L1065.9 2328.2 L1068.0 2329.5 L1070.0 2330.2 L1072.1 2330.1 L1074.2 2330.1 L1076.3 2330.1 L1078.3 2331.0 L1080.4 2328.5 L1082.5 2329.3 L1084.5 2328.8 L1086.6 2330.0 L1088.7 2329.4 L1090.7 2329.6 L1092.8 2328.7 L1094.9 2329.1 L1097.0 2329.5 L1099.0 2330.4 L1101.1 2331.0 L1103.2 2330.6 L1105.2 2330.5 L1107.3 2330.4 L1109.4 2331.0 L1111.4 2328.4 L1113.5 2329.7 L1115.6 2331.8 L1117.7 2330.9 L1119.7 2331.2 L1121.8 2329.8 L1123.9 2329.0 L1125.9 2330.9 L1128.0 2329.4" fill="none" stroke="#8E8E00" stroke-width="4.2" stroke-linejoin="round"/>
<rect x="300.1" y="1741.0" width="827.9" height="667.6" fill="none" stroke="#000" stroke-width="7.5"/>
<text x="671.3" y="868.0" font-size="54" text-anchor="middle" letter-spacing="1.6">Wavelength (nm)</text>
<text x="684.4" y="1695.5" font-size="54" text-anchor="middle" letter-spacing="1.6">Wavelength (nm)</text>
<text x="715.0" y="2535.0" font-size="54" text-anchor="middle" letter-spacing="1.6">Wavelength (nm)</text>
<text transform="translate(124,386) rotate(-90)" font-size="54" letter-spacing="1.8" text-anchor="middle">Absorbance</text>
<text transform="translate(138,1219) rotate(-90)" font-size="54" letter-spacing="1.8" text-anchor="middle">Absorbance</text>
<text transform="translate(162,2060) rotate(-90)" font-size="54" letter-spacing="1.8" text-anchor="middle">Absorbance</text>
<text x="17.0" y="85.5" font-size="80" text-anchor="start" >(a)</text>
<text x="36.0" y="951.0" font-size="80" text-anchor="start" >(b)</text>
<text x="38.0" y="1780.0" font-size="80" text-anchor="start" >(c)</text>
<line x1="1391.2" y1="703.0" x2="1416.2" y2="703.0" stroke="#000" stroke-width="6.5" stroke-linecap="butt"/>
<text x="1381.2" y="721.8" font-size="56" text-anchor="end" >0.0</text>
<line x1="1391.2" y1="504.0" x2="1416.2" y2="504.0" stroke="#000" stroke-width="6.5" stroke-linecap="butt"/>
<text x="1381.2" y="522.8" font-size="56" text-anchor="end" >0.5</text>
<line x1="1391.2" y1="305.0" x2="1416.2" y2="305.0" stroke="#000" stroke-width="6.5" stroke-linecap="butt"/>
<text x="1381.2" y="323.8" font-size="56" text-anchor="end" >1.0</text>
<line x1="1391.2" y1="106.0" x2="1416.2" y2="106.0" stroke="#000" stroke-width="6.5" stroke-linecap="butt"/>
<text x="1381.2" y="124.8" font-size="56" text-anchor="end" >1.5</text>
<line x1="1416.2" y1="703.0" x2="1416.2" y2="729.0" stroke="#000" stroke-width="6.5" stroke-linecap="butt"/>
<text x="1416.2" y="788.0" font-size="56" text-anchor="middle" >0</text>
<line x1="1579.1" y1="703.0" x2="1579.1" y2="729.0" stroke="#000" stroke-width="6.5" stroke-linecap="butt"/>
<text x="1579.1" y="788.0" font-size="56" text-anchor="middle" >2</text>
<line x1="1742.0" y1="703.0" x2="1742.0" y2="729.0" stroke="#000" stroke-width="6.5" stroke-linecap="butt"/>
<text x="1742.0" y="788.0" font-size="56" text-anchor="middle" >4</text>
<line x1="1905.0" y1="703.0" x2="1905.0" y2="729.0" stroke="#000" stroke-width="6.5" stroke-linecap="butt"/>
<text x="1905.0" y="788.0" font-size="56" text-anchor="middle" >6</text>
<line x1="2067.9" y1="703.0" x2="2067.9" y2="729.0" stroke="#000" stroke-width="6.5" stroke-linecap="butt"/>
<text x="2067.9" y="788.0" font-size="56" text-anchor="middle" >8</text>
<line x1="2230.8" y1="703.0" x2="2230.8" y2="729.0" stroke="#000" stroke-width="6.5" stroke-linecap="butt"/>
<text x="2230.8" y="788.0" font-size="56" text-anchor="middle" >10</text>
<line x1="1416.2" y1="102.8" x2="1416.2" y2="706.2" stroke="#000" stroke-width="6.5" stroke-linecap="butt"/>
<line x1="1413.0" y1="703.0" x2="2315.5" y2="703.0" stroke="#000" stroke-width="6.5" stroke-linecap="butt"/>
<path d="M1416.2 703.0 L1420.3 695.6 L1424.4 688.4 L1428.5 681.4 L1432.6 674.6 L1436.7 667.9 L1440.8 661.5 L1444.9 655.1 L1448.9 648.9 L1453.0 642.9 L1457.1 637.0 L1461.2 631.2 L1465.3 625.6 L1469.4 620.1 L1473.5 614.7 L1477.6 609.5 L1481.7 604.3 L1485.8 599.3 L1489.9 594.3 L1494.0 589.5 L1498.1 584.8 L1502.2 580.2 L1506.3 575.6 L1510.3 571.2 L1514.4 566.8 L1518.5 562.6 L1522.6 558.4 L1526.7 554.3 L1530.8 550.3 L1534.9 546.3 L1539.0 542.5 L1543.1 538.7 L1547.2 535.0 L1551.3 531.3 L1555.4 527.7 L1559.5 524.2 L1563.6 520.7 L1567.7 517.3 L1571.8 514.0 L1575.8 510.7 L1579.9 507.5 L1584.0 504.3 L1588.1 501.2 L1592.2 498.1 L1596.3 495.1 L1600.4 492.2 L1604.5 489.2 L1608.6 486.4 L1612.7 483.6 L1616.8 480.8 L1620.9 478.1 L1625.0 475.4 L1629.1 472.7 L1633.2 470.1 L1637.2 467.6 L1641.3 465.0 L1645.4 462.5 L1649.5 460.1 L1653.6 457.7 L1657.7 455.3 L1661.8 453.0 L1665.9 450.7 L1670.0 448.4 L1674.1 446.1 L1678.2 443.9 L1682.3 441.8 L1686.4 439.6 L1690.5 437.5 L1694.6 435.4 L1698.6 433.4 L1702.7 431.3 L1706.8 429.3 L1710.9 427.3 L1715.0 425.4 L1719.1 423.5 L1723.2 421.6 L1727.3 419.7 L1731.4 417.9 L1735.5 416.0 L1739.6 414.2 L1743.7 412.5 L1747.8 410.7 L1751.9 409.0 L1756.0 407.3 L1760.1 405.6 L1764.1 403.9 L1768.2 402.3 L1772.3 400.6 L1776.4 399.0 L1780.5 397.5 L1784.6 395.9 L1788.7 394.3 L1792.8 392.8 L1796.9 391.3 L1801.0 389.8 L1805.1 388.3 L1809.2 386.9 L1813.3 385.4 L1817.4 384.0 L1821.5 382.6 L1825.5 381.2 L1829.6 379.8 L1833.7 378.5 L1837.8 377.1 L1841.9 375.8 L1846.0 374.5 L1850.1 373.2 L1854.2 371.9 L1858.3 370.6 L1862.4 369.3 L1866.5 368.1 L1870.6 366.8 L1874.7 365.6 L1878.8 364.4 L1882.9 363.2 L1886.9 362.0 L1891.0 360.9 L1895.1 359.7 L1899.2 358.6 L1903.3 357.4 L1907.4 356.3 L1911.5 355.2 L1915.6 354.1 L1919.7 353.0 L1923.8 351.9 L1927.9 350.9 L1932.0 349.8 L1936.1 348.8 L1940.2 347.7 L1944.3 346.7 L1948.4 345.7 L1952.4 344.7 L1956.5 343.7 L1960.6 342.7 L1964.7 341.7 L1968.8 340.8 L1972.9 339.8 L1977.0 338.8 L1981.1 337.9 L1985.2 337.0 L1989.3 336.0 L1993.4 335.1 L1997.5 334.2 L2001.6 333.3 L2005.7 332.4 L2009.8 331.6 L2013.8 330.7 L2017.9 329.8 L2022.0 329.0 L2026.1 328.1 L2030.2 327.3 L2034.3 326.4 L2038.4 325.6 L2042.5 324.8 L2046.6 324.0 L2050.7 323.2 L2054.8 322.4 L2058.9 321.6 L2063.0 320.8 L2067.1 320.0 L2071.2 319.2 L2075.2 318.5 L2079.3 317.7 L2083.4 316.9 L2087.5 316.2 L2091.6 315.5 L2095.7 314.7 L2099.8 314.0 L2103.9 313.3 L2108.0 312.5 L2112.1 311.8 L2116.2 311.1 L2120.3 310.4 L2124.4 309.7 L2128.5 309.0 L2132.6 308.4 L2136.7 307.7 L2140.7 307.0 L2144.8 306.3 L2148.9 305.7 L2153.0 305.0 L2157.1 304.4 L2161.2 303.7 L2165.3 303.1 L2169.4 302.5 L2173.5 301.8 L2177.6 301.2 L2181.7 300.6 L2185.8 300.0 L2189.9 299.3 L2194.0 298.7 L2198.1 298.1 L2202.1 297.5 L2206.2 296.9 L2210.3 296.3 L2214.4 295.8 L2218.5 295.2 L2222.6 294.6 L2226.7 294.0 L2230.8 293.5" fill="none" stroke="#000" stroke-width="2.6"/>
<circle cx="1416.2" cy="703.0" r="12.5" fill="#000"/>
<circle cx="1497.7" cy="622.2" r="12.5" fill="#000"/>
<circle cx="1579.1" cy="515.9" r="12.5" fill="#000"/>
<circle cx="1660.6" cy="443.1" r="12.5" fill="#000"/>
<circle cx="1742.0" cy="397.3" r="12.5" fill="#000"/>
<circle cx="1823.5" cy="342.0" r="12.5" fill="#000"/>
<circle cx="1905.0" cy="353.6" r="12.5" fill="#000"/>
<circle cx="1986.4" cy="383.0" r="12.5" fill="#000"/>
<circle cx="2067.9" cy="254.1" r="12.5" fill="#000"/>
<circle cx="2149.3" cy="353.6" r="12.5" fill="#000"/>
<circle cx="2230.8" cy="305.0" r="12.5" fill="#000"/>
<text x="1862.0" y="557.0" font-size="58" text-anchor="start" >c-Myc3C</text>
<text x="1864.2" y="885.0" font-size="67" text-anchor="middle">DNA (<tspan font-weight="normal">μ</tspan>M)</text>
<text transform="translate(1279.6,397.5) rotate(-90) scale(0.76,1)" font-family="DejaVu Serif" font-size="63" text-anchor="middle">α</text>
<line x1="1405.9" y1="1568.4" x2="1430.9" y2="1568.4" stroke="#000" stroke-width="6.5" stroke-linecap="butt"/>
<text x="1395.9" y="1587.2" font-size="56" text-anchor="end" >0.0</text>
<line x1="1405.9" y1="1369.7" x2="1430.9" y2="1369.7" stroke="#000" stroke-width="6.5" stroke-linecap="butt"/>
<text x="1395.9" y="1388.4" font-size="56" text-anchor="end" >0.5</text>
<line x1="1405.9" y1="1170.9" x2="1430.9" y2="1170.9" stroke="#000" stroke-width="6.5" stroke-linecap="butt"/>
<text x="1395.9" y="1189.7" font-size="56" text-anchor="end" >1.0</text>
<line x1="1405.9" y1="972.2" x2="1430.9" y2="972.2" stroke="#000" stroke-width="6.5" stroke-linecap="butt"/>
<text x="1395.9" y="990.9" font-size="56" text-anchor="end" >1.5</text>
<line x1="1430.9" y1="1568.4" x2="1430.9" y2="1594.4" stroke="#000" stroke-width="6.5" stroke-linecap="butt"/>
<text x="1430.9" y="1653.4" font-size="56" text-anchor="middle" >0</text>
<line x1="1593.9" y1="1568.4" x2="1593.9" y2="1594.4" stroke="#000" stroke-width="6.5" stroke-linecap="butt"/>
<text x="1593.9" y="1653.4" font-size="56" text-anchor="middle" >2</text>
<line x1="1756.9" y1="1568.4" x2="1756.9" y2="1594.4" stroke="#000" stroke-width="6.5" stroke-linecap="butt"/>
<text x="1756.9" y="1653.4" font-size="56" text-anchor="middle" >4</text>
<line x1="1919.9" y1="1568.4" x2="1919.9" y2="1594.4" stroke="#000" stroke-width="6.5" stroke-linecap="butt"/>
<text x="1919.9" y="1653.4" font-size="56" text-anchor="middle" >6</text>
<line x1="2082.9" y1="1568.4" x2="2082.9" y2="1594.4" stroke="#000" stroke-width="6.5" stroke-linecap="butt"/>
<text x="2082.9" y="1653.4" font-size="56" text-anchor="middle" >8</text>
<line x1="2245.9" y1="1568.4" x2="2245.9" y2="1594.4" stroke="#000" stroke-width="6.5" stroke-linecap="butt"/>
<text x="2245.9" y="1653.4" font-size="56" text-anchor="middle" >10</text>
<line x1="1430.9" y1="968.9" x2="1430.9" y2="1571.7" stroke="#000" stroke-width="6.5" stroke-linecap="butt"/>
<line x1="1427.7" y1="1568.4" x2="2330.7" y2="1568.4" stroke="#000" stroke-width="6.5" stroke-linecap="butt"/>
<path d="M1430.9 1568.4 L1435.0 1562.2 L1439.1 1556.1 L1443.2 1550.0 L1447.3 1544.1 L1451.4 1538.3 L1455.5 1532.5 L1459.6 1526.9 L1463.7 1521.4 L1467.8 1515.9 L1471.9 1510.5 L1476.0 1505.2 L1480.0 1500.0 L1484.1 1494.9 L1488.2 1489.8 L1492.3 1484.8 L1496.4 1479.9 L1500.5 1475.1 L1504.6 1470.3 L1508.7 1465.6 L1512.8 1461.0 L1516.9 1456.5 L1521.0 1452.0 L1525.1 1447.5 L1529.2 1443.2 L1533.3 1438.9 L1537.4 1434.6 L1541.5 1430.4 L1545.6 1426.3 L1549.7 1422.2 L1553.8 1418.2 L1557.9 1414.3 L1562.0 1410.3 L1566.1 1406.5 L1570.1 1402.7 L1574.2 1398.9 L1578.3 1395.2 L1582.4 1391.5 L1586.5 1387.9 L1590.6 1384.4 L1594.7 1380.8 L1598.8 1377.4 L1602.9 1373.9 L1607.0 1370.5 L1611.1 1367.2 L1615.2 1363.9 L1619.3 1360.6 L1623.4 1357.4 L1627.5 1354.2 L1631.6 1351.0 L1635.7 1347.9 L1639.8 1344.8 L1643.9 1341.8 L1648.0 1338.8 L1652.1 1335.8 L1656.2 1332.9 L1660.2 1330.0 L1664.3 1327.1 L1668.4 1324.3 L1672.5 1321.5 L1676.6 1318.7 L1680.7 1315.9 L1684.8 1313.2 L1688.9 1310.5 L1693.0 1307.9 L1697.1 1305.3 L1701.2 1302.7 L1705.3 1300.1 L1709.4 1297.6 L1713.5 1295.0 L1717.6 1292.6 L1721.7 1290.1 L1725.8 1287.7 L1729.9 1285.3 L1734.0 1282.9 L1738.1 1280.5 L1742.2 1278.2 L1746.3 1275.9 L1750.3 1273.6 L1754.4 1271.3 L1758.5 1269.1 L1762.6 1266.9 L1766.7 1264.7 L1770.8 1262.5 L1774.9 1260.3 L1779.0 1258.2 L1783.1 1256.1 L1787.2 1254.0 L1791.3 1251.9 L1795.4 1249.9 L1799.5 1247.9 L1803.6 1245.9 L1807.7 1243.9 L1811.8 1241.9 L1815.9 1239.9 L1820.0 1238.0 L1824.1 1236.1 L1828.2 1234.2 L1832.3 1232.3 L1836.4 1230.4 L1840.4 1228.6 L1844.5 1226.8 L1848.6 1224.9 L1852.7 1223.1 L1856.8 1221.4 L1860.9 1219.6 L1865.0 1217.9 L1869.1 1216.1 L1873.2 1214.4 L1877.3 1212.7 L1881.4 1211.0 L1885.5 1209.3 L1889.6 1207.7 L1893.7 1206.0 L1897.8 1204.4 L1901.9 1202.8 L1906.0 1201.2 L1910.1 1199.6 L1914.2 1198.0 L1918.3 1196.5 L1922.4 1194.9 L1926.5 1193.4 L1930.5 1191.8 L1934.6 1190.3 L1938.7 1188.8 L1942.8 1187.3 L1946.9 1185.9 L1951.0 1184.4 L1955.1 1183.0 L1959.2 1181.5 L1963.3 1180.1 L1967.4 1178.7 L1971.5 1177.3 L1975.6 1175.9 L1979.7 1174.5 L1983.8 1173.1 L1987.9 1171.8 L1992.0 1170.4 L1996.1 1169.1 L2000.2 1167.8 L2004.3 1166.4 L2008.4 1165.1 L2012.5 1163.8 L2016.6 1162.5 L2020.6 1161.3 L2024.7 1160.0 L2028.8 1158.7 L2032.9 1157.5 L2037.0 1156.3 L2041.1 1155.0 L2045.2 1153.8 L2049.3 1152.6 L2053.4 1151.4 L2057.5 1150.2 L2061.6 1149.0 L2065.7 1147.8 L2069.8 1146.7 L2073.9 1145.5 L2078.0 1144.4 L2082.1 1143.2 L2086.2 1142.1 L2090.3 1141.0 L2094.4 1139.8 L2098.5 1138.7 L2102.6 1137.6 L2106.7 1136.5 L2110.7 1135.4 L2114.8 1134.4 L2118.9 1133.3 L2123.0 1132.2 L2127.1 1131.2 L2131.2 1130.1 L2135.3 1129.1 L2139.4 1128.0 L2143.5 1127.0 L2147.6 1126.0 L2151.7 1125.0 L2155.8 1124.0 L2159.9 1123.0 L2164.0 1122.0 L2168.1 1121.0 L2172.2 1120.0 L2176.3 1119.0 L2180.4 1118.1 L2184.5 1117.1 L2188.6 1116.1 L2192.7 1115.2 L2196.8 1114.3 L2200.8 1113.3 L2204.9 1112.4 L2209.0 1111.5 L2213.1 1110.5 L2217.2 1109.6 L2221.3 1108.7 L2225.4 1107.8 L2229.5 1106.9 L2233.6 1106.0 L2237.7 1105.2 L2241.8 1104.3 L2245.9 1103.4" fill="none" stroke="#000" stroke-width="2.6"/>
<circle cx="1430.9" cy="1568.4" r="12.5" fill="#000"/>
<circle cx="1512.4" cy="1513.1" r="12.5" fill="#000"/>
<circle cx="1593.9" cy="1370.0" r="12.5" fill="#000"/>
<circle cx="1675.4" cy="1381.6" r="12.5" fill="#000"/>
<circle cx="1756.9" cy="1202.7" r="12.5" fill="#000"/>
<circle cx="1838.4" cy="1192.8" r="12.5" fill="#000"/>
<circle cx="1919.9" cy="1274.2" r="12.5" fill="#000"/>
<circle cx="2001.4" cy="1088.6" r="12.5" fill="#000"/>
<circle cx="2082.9" cy="1077.5" r="12.5" fill="#000"/>
<circle cx="2164.4" cy="1142.7" r="12.5" fill="#000"/>
<circle cx="2245.9" cy="1171.3" r="12.5" fill="#000"/>
<text x="1932.0" y="1440.0" font-size="58" text-anchor="start" >PG4TC</text>
<text x="1879.2" y="1750.0" font-size="67" text-anchor="middle">DNA (<tspan font-weight="normal">μ</tspan>M)</text>
<text transform="translate(1293.2,1263) rotate(-90) scale(0.76,1)" font-family="DejaVu Serif" font-size="63" text-anchor="middle">α</text>
<line x1="1439.7" y1="2383.2" x2="1464.7" y2="2383.2" stroke="#000" stroke-width="6.5" stroke-linecap="butt"/>
<text x="1429.7" y="2402.0" font-size="56" text-anchor="end" >0.0</text>
<line x1="1439.7" y1="2184.4" x2="1464.7" y2="2184.4" stroke="#000" stroke-width="6.5" stroke-linecap="butt"/>
<text x="1429.7" y="2203.2" font-size="56" text-anchor="end" >0.5</text>
<line x1="1439.7" y1="1985.7" x2="1464.7" y2="1985.7" stroke="#000" stroke-width="6.5" stroke-linecap="butt"/>
<text x="1429.7" y="2004.5" font-size="56" text-anchor="end" >1.0</text>
<line x1="1439.7" y1="1786.9" x2="1464.7" y2="1786.9" stroke="#000" stroke-width="6.5" stroke-linecap="butt"/>
<text x="1429.7" y="1805.7" font-size="56" text-anchor="end" >1.5</text>
<line x1="1464.7" y1="2383.2" x2="1464.7" y2="2409.2" stroke="#000" stroke-width="6.5" stroke-linecap="butt"/>
<text x="1464.7" y="2468.2" font-size="56" text-anchor="middle" >0</text>
<line x1="1643.6" y1="2383.2" x2="1643.6" y2="2409.2" stroke="#000" stroke-width="6.5" stroke-linecap="butt"/>
<text x="1643.6" y="2468.2" font-size="56" text-anchor="middle" >2</text>
<line x1="1822.4" y1="2383.2" x2="1822.4" y2="2409.2" stroke="#000" stroke-width="6.5" stroke-linecap="butt"/>
<text x="1822.4" y="2468.2" font-size="56" text-anchor="middle" >4</text>
<line x1="2001.3" y1="2383.2" x2="2001.3" y2="2409.2" stroke="#000" stroke-width="6.5" stroke-linecap="butt"/>
<text x="2001.3" y="2468.2" font-size="56" text-anchor="middle" >6</text>
<line x1="2180.1" y1="2383.2" x2="2180.1" y2="2409.2" stroke="#000" stroke-width="6.5" stroke-linecap="butt"/>
<text x="2180.1" y="2468.2" font-size="56" text-anchor="middle" >8</text>
<line x1="2359.0" y1="2383.2" x2="2359.0" y2="2409.2" stroke="#000" stroke-width="6.5" stroke-linecap="butt"/>
<text x="2359.0" y="2468.2" font-size="56" text-anchor="middle" >10</text>
<line x1="1464.7" y1="1783.7" x2="1464.7" y2="2386.4" stroke="#000" stroke-width="6.5" stroke-linecap="butt"/>
<line x1="1461.5" y1="2383.2" x2="2362.2" y2="2383.2" stroke="#000" stroke-width="6.5" stroke-linecap="butt"/>
<path d="M1464.7 2383.2 L1468.7 2379.9 L1472.8 2376.6 L1476.8 2373.3 L1480.9 2370.1 L1484.9 2366.9 L1489.0 2363.7 L1493.0 2360.6 L1497.1 2357.5 L1501.1 2354.5 L1505.1 2351.4 L1509.2 2348.4 L1513.2 2345.4 L1517.3 2342.5 L1521.3 2339.6 L1525.4 2336.7 L1529.4 2333.8 L1533.5 2331.0 L1537.5 2328.2 L1541.5 2325.4 L1545.6 2322.7 L1549.6 2319.9 L1553.7 2317.2 L1557.7 2314.6 L1561.8 2311.9 L1565.8 2309.3 L1569.9 2306.7 L1573.9 2304.1 L1577.9 2301.6 L1582.0 2299.0 L1586.0 2296.5 L1590.1 2294.1 L1594.1 2291.6 L1598.2 2289.1 L1602.2 2286.7 L1606.3 2284.3 L1610.3 2282.0 L1614.3 2279.6 L1618.4 2277.3 L1622.4 2275.0 L1626.5 2272.7 L1630.5 2270.4 L1634.6 2268.1 L1638.6 2265.9 L1642.7 2263.7 L1646.7 2261.5 L1650.8 2259.3 L1654.8 2257.2 L1658.8 2255.0 L1662.9 2252.9 L1666.9 2250.8 L1671.0 2248.7 L1675.0 2246.6 L1679.1 2244.6 L1683.1 2242.5 L1687.2 2240.5 L1691.2 2238.5 L1695.2 2236.5 L1699.3 2234.6 L1703.3 2232.6 L1707.4 2230.7 L1711.4 2228.7 L1715.5 2226.8 L1719.5 2224.9 L1723.6 2223.0 L1727.6 2221.2 L1731.6 2219.3 L1735.7 2217.5 L1739.7 2215.7 L1743.8 2213.9 L1747.8 2212.1 L1751.9 2210.3 L1755.9 2208.5 L1760.0 2206.8 L1764.0 2205.0 L1768.0 2203.3 L1772.1 2201.6 L1776.1 2199.9 L1780.2 2198.2 L1784.2 2196.5 L1788.3 2194.9 L1792.3 2193.2 L1796.4 2191.6 L1800.4 2189.9 L1804.4 2188.3 L1808.5 2186.7 L1812.5 2185.1 L1816.6 2183.6 L1820.6 2182.0 L1824.7 2180.4 L1828.7 2178.9 L1832.8 2177.3 L1836.8 2175.8 L1840.8 2174.3 L1844.9 2172.8 L1848.9 2171.3 L1853.0 2169.8 L1857.0 2168.4 L1861.1 2166.9 L1865.1 2165.4 L1869.2 2164.0 L1873.2 2162.6 L1877.2 2161.2 L1881.3 2159.7 L1885.3 2158.3 L1889.4 2156.9 L1893.4 2155.6 L1897.5 2154.2 L1901.5 2152.8 L1905.6 2151.5 L1909.6 2150.1 L1913.6 2148.8 L1917.7 2147.5 L1921.7 2146.1 L1925.8 2144.8 L1929.8 2143.5 L1933.9 2142.2 L1937.9 2140.9 L1942.0 2139.7 L1946.0 2138.4 L1950.0 2137.1 L1954.1 2135.9 L1958.1 2134.6 L1962.2 2133.4 L1966.2 2132.2 L1970.3 2130.9 L1974.3 2129.7 L1978.4 2128.5 L1982.4 2127.3 L1986.4 2126.1 L1990.5 2125.0 L1994.5 2123.8 L1998.6 2122.6 L2002.6 2121.4 L2006.7 2120.3 L2010.7 2119.1 L2014.8 2118.0 L2018.8 2116.9 L2022.9 2115.7 L2026.9 2114.6 L2030.9 2113.5 L2035.0 2112.4 L2039.0 2111.3 L2043.1 2110.2 L2047.1 2109.1 L2051.2 2108.0 L2055.2 2107.0 L2059.3 2105.9 L2063.3 2104.8 L2067.3 2103.8 L2071.4 2102.7 L2075.4 2101.7 L2079.5 2100.7 L2083.5 2099.6 L2087.6 2098.6 L2091.6 2097.6 L2095.7 2096.6 L2099.7 2095.6 L2103.7 2094.6 L2107.8 2093.6 L2111.8 2092.6 L2115.9 2091.6 L2119.9 2090.6 L2124.0 2089.7 L2128.0 2088.7 L2132.1 2087.7 L2136.1 2086.8 L2140.1 2085.8 L2144.2 2084.9 L2148.2 2083.9 L2152.3 2083.0 L2156.3 2082.1 L2160.4 2081.1 L2164.4 2080.2 L2168.5 2079.3 L2172.5 2078.4 L2176.5 2077.5 L2180.6 2076.6 L2184.6 2075.7 L2188.7 2074.8 L2192.7 2073.9 L2196.8 2073.0 L2200.8 2072.2 L2204.9 2071.3 L2208.9 2070.4 L2212.9 2069.6 L2217.0 2068.7 L2221.0 2067.9 L2225.1 2067.0 L2229.1 2066.2 L2233.2 2065.3 L2237.2 2064.5 L2241.3 2063.7 L2245.3 2062.8 L2249.3 2062.0 L2253.4 2061.2 L2257.4 2060.4 L2261.5 2059.6 L2265.5 2058.8 L2269.6 2058.0" fill="none" stroke="#000" stroke-width="2.6"/>
<circle cx="1464.7" cy="2383.2" r="12.5" fill="#000"/>
<circle cx="1554.1" cy="2357.8" r="12.5" fill="#000"/>
<circle cx="1643.6" cy="2267.9" r="12.5" fill="#000"/>
<circle cx="1733.0" cy="2229.0" r="12.5" fill="#000"/>
<circle cx="1822.4" cy="2133.2" r="12.5" fill="#000"/>
<circle cx="1911.9" cy="2128.0" r="12.5" fill="#000"/>
<circle cx="2001.3" cy="2126.8" r="12.5" fill="#000"/>
<circle cx="2090.7" cy="2123.2" r="12.5" fill="#000"/>
<circle cx="2180.1" cy="2165.8" r="12.5" fill="#000"/>
<circle cx="2269.6" cy="1985.3" r="12.5" fill="#000"/>
<text x="1590.0" y="1934.0" font-size="58" text-anchor="start" >TTT</text>
<text x="1911.8" y="2565.0" font-size="67" text-anchor="middle">DNA (<tspan font-weight="normal">μ</tspan>M)</text>
<text transform="translate(1323.6,2075.7) rotate(-90) scale(0.76,1)" font-family="DejaVu Serif" font-size="63" text-anchor="middle">α</text>
</svg>
</body></html>
